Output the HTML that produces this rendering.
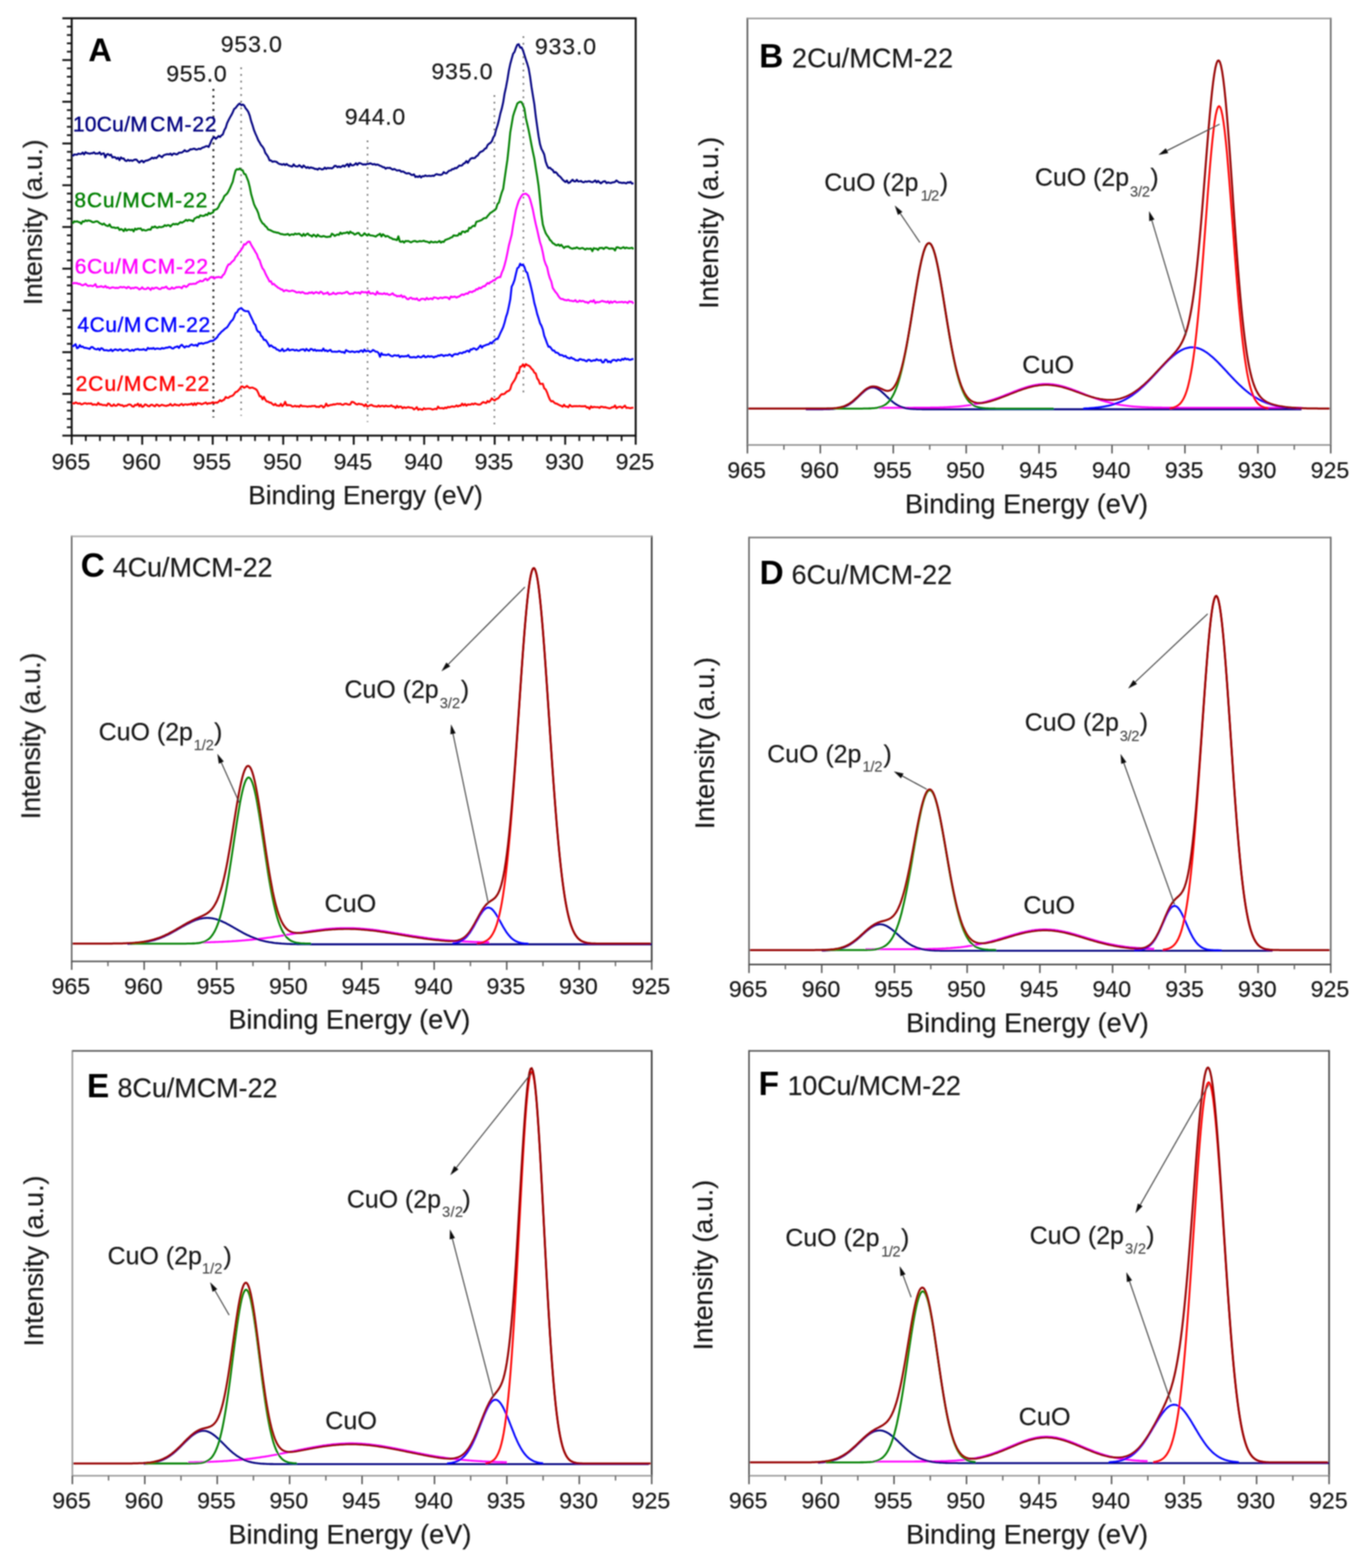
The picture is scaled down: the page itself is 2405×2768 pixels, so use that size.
<!DOCTYPE html>
<html><head><meta charset="utf-8"><title>XPS Cu 2p spectra</title>
<style>html,body{margin:0;padding:0;background:#fff}svg{display:block}text{font-family:"Liberation Sans", Arial, Helvetica, sans-serif}</style>
</head><body>
<svg width="2405" height="2768" viewBox="0 0 2405 2768">
<defs><filter id="soft" x="0" y="0" width="2405" height="2768" filterUnits="userSpaceOnUse"><feGaussianBlur stdDeviation="0.85"/></filter></defs>
<rect width="2405" height="2768" fill="#fff"/>
<g filter="url(#soft)">
<line x1="110.1" y1="32.3" x2="126.6" y2="32.3" stroke="#111" stroke-width="3.3"/>
<line x1="118.1" y1="47" x2="126.6" y2="47" stroke="#111" stroke-width="3"/>
<line x1="118.1" y1="61.8" x2="126.6" y2="61.8" stroke="#111" stroke-width="3"/>
<line x1="118.1" y1="76.5" x2="126.6" y2="76.5" stroke="#111" stroke-width="3"/>
<line x1="118.1" y1="91.2" x2="126.6" y2="91.2" stroke="#111" stroke-width="3"/>
<line x1="110.1" y1="106" x2="126.6" y2="106" stroke="#111" stroke-width="3.3"/>
<line x1="118.1" y1="120.7" x2="126.6" y2="120.7" stroke="#111" stroke-width="3"/>
<line x1="118.1" y1="135.4" x2="126.6" y2="135.4" stroke="#111" stroke-width="3"/>
<line x1="118.1" y1="150.2" x2="126.6" y2="150.2" stroke="#111" stroke-width="3"/>
<line x1="118.1" y1="164.9" x2="126.6" y2="164.9" stroke="#111" stroke-width="3"/>
<line x1="110.1" y1="179.6" x2="126.6" y2="179.6" stroke="#111" stroke-width="3.3"/>
<line x1="118.1" y1="194.4" x2="126.6" y2="194.4" stroke="#111" stroke-width="3"/>
<line x1="118.1" y1="209.1" x2="126.6" y2="209.1" stroke="#111" stroke-width="3"/>
<line x1="118.1" y1="223.8" x2="126.6" y2="223.8" stroke="#111" stroke-width="3"/>
<line x1="118.1" y1="238.6" x2="126.6" y2="238.6" stroke="#111" stroke-width="3"/>
<line x1="110.1" y1="253.3" x2="126.6" y2="253.3" stroke="#111" stroke-width="3.3"/>
<line x1="118.1" y1="268" x2="126.6" y2="268" stroke="#111" stroke-width="3"/>
<line x1="118.1" y1="282.8" x2="126.6" y2="282.8" stroke="#111" stroke-width="3"/>
<line x1="118.1" y1="297.5" x2="126.6" y2="297.5" stroke="#111" stroke-width="3"/>
<line x1="118.1" y1="312.2" x2="126.6" y2="312.2" stroke="#111" stroke-width="3"/>
<line x1="110.1" y1="327" x2="126.6" y2="327" stroke="#111" stroke-width="3.3"/>
<line x1="118.1" y1="341.7" x2="126.6" y2="341.7" stroke="#111" stroke-width="3"/>
<line x1="118.1" y1="356.4" x2="126.6" y2="356.4" stroke="#111" stroke-width="3"/>
<line x1="118.1" y1="371.2" x2="126.6" y2="371.2" stroke="#111" stroke-width="3"/>
<line x1="118.1" y1="385.9" x2="126.6" y2="385.9" stroke="#111" stroke-width="3"/>
<line x1="110.1" y1="400.7" x2="126.6" y2="400.7" stroke="#111" stroke-width="3.3"/>
<line x1="118.1" y1="415.4" x2="126.6" y2="415.4" stroke="#111" stroke-width="3"/>
<line x1="118.1" y1="430.1" x2="126.6" y2="430.1" stroke="#111" stroke-width="3"/>
<line x1="118.1" y1="444.9" x2="126.6" y2="444.9" stroke="#111" stroke-width="3"/>
<line x1="118.1" y1="459.6" x2="126.6" y2="459.6" stroke="#111" stroke-width="3"/>
<line x1="110.1" y1="474.3" x2="126.6" y2="474.3" stroke="#111" stroke-width="3.3"/>
<line x1="118.1" y1="489.1" x2="126.6" y2="489.1" stroke="#111" stroke-width="3"/>
<line x1="118.1" y1="503.8" x2="126.6" y2="503.8" stroke="#111" stroke-width="3"/>
<line x1="118.1" y1="518.5" x2="126.6" y2="518.5" stroke="#111" stroke-width="3"/>
<line x1="118.1" y1="533.3" x2="126.6" y2="533.3" stroke="#111" stroke-width="3"/>
<line x1="110.1" y1="548" x2="126.6" y2="548" stroke="#111" stroke-width="3.3"/>
<line x1="118.1" y1="562.7" x2="126.6" y2="562.7" stroke="#111" stroke-width="3"/>
<line x1="118.1" y1="577.5" x2="126.6" y2="577.5" stroke="#111" stroke-width="3"/>
<line x1="118.1" y1="592.2" x2="126.6" y2="592.2" stroke="#111" stroke-width="3"/>
<line x1="118.1" y1="606.9" x2="126.6" y2="606.9" stroke="#111" stroke-width="3"/>
<line x1="110.1" y1="621.7" x2="126.6" y2="621.7" stroke="#111" stroke-width="3.3"/>
<line x1="118.1" y1="636.4" x2="126.6" y2="636.4" stroke="#111" stroke-width="3"/>
<line x1="118.1" y1="651.1" x2="126.6" y2="651.1" stroke="#111" stroke-width="3"/>
<line x1="118.1" y1="665.9" x2="126.6" y2="665.9" stroke="#111" stroke-width="3"/>
<line x1="118.1" y1="680.6" x2="126.6" y2="680.6" stroke="#111" stroke-width="3"/>
<line x1="110.1" y1="695.3" x2="126.6" y2="695.3" stroke="#111" stroke-width="3.3"/>
<line x1="118.1" y1="710.1" x2="126.6" y2="710.1" stroke="#111" stroke-width="3"/>
<line x1="118.1" y1="724.8" x2="126.6" y2="724.8" stroke="#111" stroke-width="3"/>
<line x1="118.1" y1="739.5" x2="126.6" y2="739.5" stroke="#111" stroke-width="3"/>
<line x1="118.1" y1="754.3" x2="126.6" y2="754.3" stroke="#111" stroke-width="3"/>
<line x1="110.1" y1="769" x2="126.6" y2="769" stroke="#111" stroke-width="3.3"/>
<line x1="126.6" y1="769" x2="126.6" y2="785" stroke="#111" stroke-width="3.3"/>
<line x1="151.5" y1="769" x2="151.5" y2="778.5" stroke="#111" stroke-width="3"/>
<line x1="176.4" y1="769" x2="176.4" y2="778.5" stroke="#111" stroke-width="3"/>
<line x1="201.3" y1="769" x2="201.3" y2="778.5" stroke="#111" stroke-width="3"/>
<line x1="226.2" y1="769" x2="226.2" y2="778.5" stroke="#111" stroke-width="3"/>
<line x1="251.1" y1="769" x2="251.1" y2="785" stroke="#111" stroke-width="3.3"/>
<line x1="276" y1="769" x2="276" y2="778.5" stroke="#111" stroke-width="3"/>
<line x1="300.9" y1="769" x2="300.9" y2="778.5" stroke="#111" stroke-width="3"/>
<line x1="325.8" y1="769" x2="325.8" y2="778.5" stroke="#111" stroke-width="3"/>
<line x1="350.7" y1="769" x2="350.7" y2="778.5" stroke="#111" stroke-width="3"/>
<line x1="375.6" y1="769" x2="375.6" y2="785" stroke="#111" stroke-width="3.3"/>
<line x1="400.5" y1="769" x2="400.5" y2="778.5" stroke="#111" stroke-width="3"/>
<line x1="425.4" y1="769" x2="425.4" y2="778.5" stroke="#111" stroke-width="3"/>
<line x1="450.3" y1="769" x2="450.3" y2="778.5" stroke="#111" stroke-width="3"/>
<line x1="475.2" y1="769" x2="475.2" y2="778.5" stroke="#111" stroke-width="3"/>
<line x1="500.1" y1="769" x2="500.1" y2="785" stroke="#111" stroke-width="3.3"/>
<line x1="525" y1="769" x2="525" y2="778.5" stroke="#111" stroke-width="3"/>
<line x1="549.9" y1="769" x2="549.9" y2="778.5" stroke="#111" stroke-width="3"/>
<line x1="574.8" y1="769" x2="574.8" y2="778.5" stroke="#111" stroke-width="3"/>
<line x1="599.7" y1="769" x2="599.7" y2="778.5" stroke="#111" stroke-width="3"/>
<line x1="624.6" y1="769" x2="624.6" y2="785" stroke="#111" stroke-width="3.3"/>
<line x1="649.4" y1="769" x2="649.4" y2="778.5" stroke="#111" stroke-width="3"/>
<line x1="674.3" y1="769" x2="674.3" y2="778.5" stroke="#111" stroke-width="3"/>
<line x1="699.2" y1="769" x2="699.2" y2="778.5" stroke="#111" stroke-width="3"/>
<line x1="724.1" y1="769" x2="724.1" y2="778.5" stroke="#111" stroke-width="3"/>
<line x1="749" y1="769" x2="749" y2="785" stroke="#111" stroke-width="3.3"/>
<line x1="773.9" y1="769" x2="773.9" y2="778.5" stroke="#111" stroke-width="3"/>
<line x1="798.8" y1="769" x2="798.8" y2="778.5" stroke="#111" stroke-width="3"/>
<line x1="823.7" y1="769" x2="823.7" y2="778.5" stroke="#111" stroke-width="3"/>
<line x1="848.6" y1="769" x2="848.6" y2="778.5" stroke="#111" stroke-width="3"/>
<line x1="873.5" y1="769" x2="873.5" y2="785" stroke="#111" stroke-width="3.3"/>
<line x1="898.4" y1="769" x2="898.4" y2="778.5" stroke="#111" stroke-width="3"/>
<line x1="923.3" y1="769" x2="923.3" y2="778.5" stroke="#111" stroke-width="3"/>
<line x1="948.2" y1="769" x2="948.2" y2="778.5" stroke="#111" stroke-width="3"/>
<line x1="973.1" y1="769" x2="973.1" y2="778.5" stroke="#111" stroke-width="3"/>
<line x1="998" y1="769" x2="998" y2="785" stroke="#111" stroke-width="3.3"/>
<line x1="1022.9" y1="769" x2="1022.9" y2="778.5" stroke="#111" stroke-width="3"/>
<line x1="1047.8" y1="769" x2="1047.8" y2="778.5" stroke="#111" stroke-width="3"/>
<line x1="1072.7" y1="769" x2="1072.7" y2="778.5" stroke="#111" stroke-width="3"/>
<line x1="1097.6" y1="769" x2="1097.6" y2="778.5" stroke="#111" stroke-width="3"/>
<line x1="1122.5" y1="769" x2="1122.5" y2="785" stroke="#111" stroke-width="3.3"/>
<rect x="126.6" y="32.3" width="995.9" height="736.7" fill="none" stroke="#111" stroke-width="3.4"/>
<text x="91.1" y="828.5" font-size="41" fill="#141414" stroke="#141414" stroke-width="0.25">965</text>
<text x="215.6" y="828.5" font-size="41" fill="#141414" stroke="#141414" stroke-width="0.25">960</text>
<text x="340" y="828.5" font-size="41" fill="#141414" stroke="#141414" stroke-width="0.25">955</text>
<text x="464.5" y="828.5" font-size="41" fill="#141414" stroke="#141414" stroke-width="0.25">950</text>
<text x="589" y="828.5" font-size="41" fill="#141414" stroke="#141414" stroke-width="0.25">945</text>
<text x="713.5" y="828.5" font-size="41" fill="#141414" stroke="#141414" stroke-width="0.25">940</text>
<text x="838" y="828.5" font-size="41" fill="#141414" stroke="#141414" stroke-width="0.25">935</text>
<text x="962.5" y="828.5" font-size="41" fill="#141414" stroke="#141414" stroke-width="0.25">930</text>
<text x="1087" y="828.5" font-size="41" fill="#141414" stroke="#141414" stroke-width="0.25">925</text>
<line x1="376.8" y1="157" x2="376.8" y2="737" stroke="#111" stroke-width="3.2" stroke-dasharray="3.5 8.3"/>
<line x1="425.8" y1="119" x2="425.8" y2="734" stroke="#666" stroke-width="2.6" stroke-dasharray="3 8.8"/>
<line x1="649" y1="248" x2="649" y2="745" stroke="#666" stroke-width="2.6" stroke-dasharray="3 8.8"/>
<line x1="873" y1="168" x2="873" y2="749" stroke="#666" stroke-width="2.6" stroke-dasharray="3 8.8"/>
<line x1="924.2" y1="64" x2="924.2" y2="694" stroke="#666" stroke-width="2.6" stroke-dasharray="3 8.8"/>
<polyline points="128.5,275.7 131,272.6 133.5,272.9 136,273 138.5,271.2 141,271.9 143.5,271.7 146,269.3 148.5,272.6 151,268.6 153.5,270.3 156,270.7 158.5,271.5 161,270.5 163.5,270.5 166,268.9 168.5,271.4 171,270.9 173.5,271 176,268.8 178.5,272.8 181,271.1 183.5,270.8 186,277.9 188.5,272.7 191,271.9 193.5,274.2 196,272.9 198.5,278.1 201,277.2 203.5,277.6 206,280.5 208.5,278.4 211,282.7 213.5,277.9 216,280 218.5,279.8 221,283.5 223.5,284.3 226,282 228.5,283.8 231,282.8 233.5,284.1 236,282.7 238.5,281.7 241,281.8 243.5,284.7 246,287.1 248.5,284.7 251,283.7 253.5,286.7 256,284.2 258.5,283.5 261,283 263.5,281.7 266,280.6 268.5,278.3 271,279.9 273.5,278.3 276,279.2 278.5,276.6 281,274.1 283.5,275.8 286,277.6 288.5,274.5 291,273.3 293.5,272.5 296,272.2 298.5,272.7 301,271.1 303.5,274 306,271.3 308.5,271.3 311,272.5 313.5,272 316,269.4 318.5,269.5 321,269.4 323.5,267.7 326,265.1 328.5,267.3 331,267.1 333.5,265.9 336,263.5 338.5,263.8 341,262.7 343.5,262.5 346,264 348.5,263.9 351,262.4 353.5,263.2 356,261.6 358.5,260.3 361,259.6 363.5,258.1 366,258 368.5,259.4 371,253.8 373.5,247.6 376,243.8 378.5,242.1 381,245.2 383.5,242.8 386,240.1 388.5,241.9 391,239 393.5,237.3 396,230 398.5,225.7 401,217.4 403.5,212.3 406,207.5 408.5,203.2 411,198.2 413.5,192.4 416,190.6 418.5,187.3 421,184.3 423.5,182.7 426,185.8 428.5,184.4 431,186 433.5,190.8 436,193.8 438.5,197.6 441,204.2 443.5,213.9 446,221.2 448.5,229.7 451,235.9 453.5,241.4 456,247.5 458.5,251.6 461,256.2 463.5,258.9 466,262.8 468.5,269.9 471,273.2 473.5,277.2 476,283.2 478.5,283.1 481,285.6 483.5,285 486,285.1 488.5,285.9 491,288.1 493.5,289.6 496,289.8 498.5,290.8 501,289.4 503.5,291.5 506,289.4 508.5,291.5 511,292.7 513.5,293.3 516,294.1 518.5,290.1 521,293.1 523.5,293.8 526,293.7 528.5,291.6 531,293.6 533.5,295.8 536,292.1 538.5,294.3 541,296.5 543.5,294.8 546,297 548.5,295.4 551,296.3 553.5,296.7 556,298.2 558.5,298.1 561,299.5 563.5,297.1 566,298 568.5,299.2 571,298.5 573.5,295.9 576,298.1 578.5,296.3 581,297 583.5,296.6 586,297.3 588.5,295.6 591,292.7 593.5,293 596,295.3 598.5,293.7 601,295.2 603.5,293.8 606,292.2 608.5,294.1 611,291.4 613.5,289.5 616,294.3 618.5,289 621,291.8 623.5,291.9 626,290.6 628.5,288.1 631,291.2 633.5,288 636,288 638.5,289.2 641,290.6 643.5,290 646,290.6 648.5,289 651,289.4 653.5,288.2 656,289.2 658.5,290.4 661,289.5 663.5,291 666,290.3 668.5,291.1 671,292.7 673.5,293.3 676,295.1 678.5,295.3 681,297.9 683.5,296.1 686,296.6 688.5,296.2 691,298 693.5,299.4 696,298.2 698.5,299.6 701,301.1 703.5,300.6 706,300.7 708.5,303.2 711,302.7 713.5,303.7 716,305.5 718.5,306.4 721,305.6 723.5,306.4 726,308.5 728.5,309 731,307.7 733.5,312.4 736,311.4 738.5,312.6 741,310.3 743.5,313.4 746,310.9 748.5,311.4 751,309.6 753.5,310.9 756,310.6 758.5,310.3 761,310.8 763.5,310 766,310.7 768.5,308.5 771,307.4 773.5,308.2 776,308.5 778.5,308.8 781,307.7 783.5,303.8 786,305.6 788.5,306 791,303.1 793.5,301.1 796,300.9 798.5,298.5 801,298.6 803.5,296.5 806,297.1 808.5,294.8 811,292.1 813.5,292.6 816,291.9 818.5,288.8 821,287.8 823.5,284.2 826,287.6 828.5,283.6 831,280.2 833.5,279 836,279.3 838.5,278.8 841,275.9 843.5,274.6 846,270.6 848.5,268.2 851,267.3 853.5,265.8 856,262.7 858.5,261.7 861,256.1 863.5,253.8 866,252.2 868.5,249.4 871,242.6 873.5,238.9 876,228.8 878.5,221.5 881,212 883.5,200.5 886,191.8 888.5,180.7 891,165.1 893.5,153.8 896,140.5 898.5,124.9 901,113 903.5,103.9 906,95 908.5,91.8 911,84.5 913.5,78.9 916,78.1 918.5,84.2 921,83.7 923.5,89.1 926,97.1 928.5,105 931,112.4 933.5,121 936,135.3 938.5,153.3 941,168.7 943.5,183.7 946,205.1 948.5,223 951,240.2 953.5,254.2 956,262.7 958.5,267.3 961,272.8 963.5,285.1 966,292.1 968.5,296.8 971,296 973.5,298.7 976,300.1 978.5,304.6 981,303.7 983.5,306 986,309.7 988.5,311.4 991,314 993.5,317.3 996,319.4 998.5,321.4 1001,318.6 1003.5,323 1006,322.3 1008.5,319.7 1011,317.2 1013.5,320 1016,320.3 1018.5,317.4 1021,320.4 1023.5,320.1 1026,319.5 1028.5,321.3 1031,321.8 1033.5,320.1 1036,321 1038.5,320 1041,319.9 1043.5,321.1 1046,321.7 1048.5,320.4 1051,318.5 1053.5,322 1056,319.4 1058.5,321.6 1061,323.8 1063.5,321.6 1066,320.2 1068.5,319.9 1071,323.3 1073.5,321.9 1076,322.7 1078.5,323.2 1081,322.1 1083.5,321.8 1086,321.1 1088.5,318.5 1091,320.5 1093.5,322.4 1096,322.3 1098.5,323.1 1101,322.5 1103.5,322.9 1106,323.8 1108.5,321.7 1111,322.5 1113.5,321 1116,324.2 1118.5,323.1" fill="none" stroke="#000080" stroke-width="3.4" stroke-linejoin="round"/>
<polyline points="128.5,394.6 131,390.7 133.5,391.5 136,390.6 138.5,392 141,392.5 143.5,395.1 146,390.5 148.5,391.4 151,388.9 153.5,390.3 156,389.1 158.5,389.7 161,390.7 163.5,392.3 166,392.2 168.5,391.1 171,390.6 173.5,391.8 176,394.1 178.5,395 181,396.5 183.5,394.6 186,397.2 188.5,398.6 191,399.1 193.5,396 196,400.7 198.5,401.6 201,401.4 203.5,402.5 206,402.3 208.5,401.7 211,406 213.5,404.3 216,405.3 218.5,408.1 221,403.8 223.5,407.1 226,405.5 228.5,405.1 231,406.2 233.5,404.9 236,408.6 238.5,403.6 241,405.4 243.5,403.4 246,403.8 248.5,403.1 251,406.8 253.5,405.4 256,406.9 258.5,406.7 261,405.5 263.5,405 266,405.5 268.5,400.6 271,401.5 273.5,399.7 276,401.7 278.5,402 281,400.3 283.5,401.1 286,400.7 288.5,400 291,397.5 293.5,398.9 296,397.5 298.5,397.6 301,399.9 303.5,397.1 306,395.2 308.5,396.2 311,395.1 313.5,396.3 316,394.4 318.5,392.2 321,393.2 323.5,391.9 326,390.3 328.5,388 331,389.9 333.5,388 336,389 338.5,389.2 341,390.8 343.5,385.8 346,384.7 348.5,382.9 351,384 353.5,380.2 356,380.9 358.5,381.2 361,380.8 363.5,378.6 366,379.8 368.5,375.7 371,377.7 373.5,376 376,375.1 378.5,370.6 381,369.8 383.5,368.8 386,365.1 388.5,359.2 391,356.1 393.5,352.5 396,346.3 398.5,344.1 401,341.8 403.5,337.6 406,332.5 408.5,326.7 411,320.8 413.5,309.7 416,301 418.5,298.5 421,299.3 423.5,297.4 426,300.1 428.5,300.6 431,307 433.5,307.6 436,313.9 438.5,320.2 441,330.1 443.5,342.8 446,351.5 448.5,360.4 451,365.8 453.5,370.1 456,376.1 458.5,385.1 461,390.2 463.5,394.2 466,395.7 468.5,399.2 471,401.2 473.5,405.2 476,405.9 478.5,406.9 481,408.3 483.5,409.5 486,409.9 488.5,410.7 491,410.8 493.5,412 496,413.3 498.5,413.3 501,414.1 503.5,414.2 506,413.8 508.5,412.9 511,415.4 513.5,414.2 516,413.7 518.5,414.5 521,412.2 523.5,413.5 526,412.9 528.5,412.5 531,414.7 533.5,416.7 536,412.8 538.5,416.2 541,413.8 543.5,412.2 546,415.2 548.5,415.7 551,417.6 553.5,414.2 556,415.8 558.5,418 561,414.3 563.5,416.6 566,417.5 568.5,417.7 571,416.6 573.5,417.4 576,418.3 578.5,418.3 581,417.6 583.5,417.8 586,412.6 588.5,413.9 591,416.6 593.5,415 596,413.9 598.5,414.7 601,410.5 603.5,413 606,411.4 608.5,411.5 611,410.9 613.5,409.7 616,412.5 618.5,408.7 621,411 623.5,411.5 626,414.1 628.5,413.1 631,411.5 633.5,411.2 636,414.9 638.5,416.3 641,414.9 643.5,411.7 646,414.1 648.5,416 651,413.1 653.5,415.6 656,415.6 658.5,416.1 661,416.7 663.5,417.8 666,415.5 668.5,414.4 671,412.6 673.5,417.5 676,413.5 678.5,415.3 681,417.8 683.5,416.5 686,417.5 688.5,419.8 691,420.1 693.5,422.3 696,422.3 698.5,423 701,423.9 703.5,417.2 706,426.3 708.5,427 711,425.8 713.5,428.3 716,425.4 718.5,425.8 721,425.4 723.5,426.9 726,427.9 728.5,426.4 731,425.5 733.5,425.5 736,426.9 738.5,426.5 741,425.5 743.5,426.1 746,425.6 748.5,425 751,426.3 753.5,426.5 756,427.3 758.5,428.7 761,426.3 763.5,427.5 766,427.9 768.5,426.8 771,427.9 773.5,427.2 776,425.3 778.5,428.3 781,426.5 783.5,427.2 786,423.7 788.5,422.9 791,421.8 793.5,421 796,419.4 798.5,418.7 801,415.4 803.5,416 806,416 808.5,415.8 811,411.8 813.5,413.9 816,408.9 818.5,408.6 821,410.2 823.5,407.7 826,408.5 828.5,402.1 831,403 833.5,400.1 836,398.5 838.5,399.3 841,391.7 843.5,390.9 846,390.2 848.5,389.2 851,388 853.5,385.9 856,384.9 858.5,384.7 861,381.4 863.5,378.7 866,375.7 868.5,374.4 871,372.5 873.5,371.1 876,368.4 878.5,360.1 881,357.5 883.5,348.4 886,339.8 888.5,333.4 891,315.8 893.5,298.6 896,281.8 898.5,258.8 901,233.7 903.5,219.3 906,204.8 908.5,196.8 911,189.9 913.5,182.7 916,180.8 918.5,179.6 921,180.3 923.5,185.4 926,191.9 928.5,208.3 931,219 933.5,229.8 936,242.6 938.5,255.9 941,268.3 943.5,279.9 946,296.1 948.5,311.1 951,328.2 953.5,351.6 956,378.2 958.5,396.2 961,404.5 963.5,411.3 966,415.5 968.5,418.7 971,423.4 973.5,425.6 976,429.3 978.5,430.4 981,432.5 983.5,433 986,431.5 988.5,434.1 991,432 993.5,435.1 996,437.7 998.5,435.4 1001,435.5 1003.5,434.9 1006,437.1 1008.5,438.4 1011,439.1 1013.5,438 1016,438.2 1018.5,436.6 1021,438.2 1023.5,439.1 1026,438.3 1028.5,437.7 1031,439 1033.5,440.7 1036,438.7 1038.5,439.3 1041,439.2 1043.5,438.7 1046,443.4 1048.5,438 1051,439 1053.5,438.9 1056,441.3 1058.5,437.8 1061,437.7 1063.5,437.5 1066,439.6 1068.5,437.2 1071,436.8 1073.5,437.8 1076,439.4 1078.5,438.5 1081,438.7 1083.5,438.9 1086,442.3 1088.5,436.7 1091,436.5 1093.5,437.7 1096,438.6 1098.5,437.5 1101,436.3 1103.5,438.6 1106,437 1108.5,437.9 1111,438.2 1113.5,437.9 1116,437.3 1118.5,439.7" fill="none" stroke="#008000" stroke-width="3.4" stroke-linejoin="round"/>
<polyline points="128.5,501 131,499.4 133.5,500 136,499.8 138.5,501.3 141,501 143.5,502.9 146,503.8 148.5,502.6 151,501.1 153.5,503.5 156,504.9 158.5,504.3 161,504.2 163.5,505.3 166,504 168.5,501.5 171,506.9 173.5,506.3 176,506.2 178.5,505.1 181,506.4 183.5,507.1 186,504.7 188.5,507.7 191,507 193.5,509 196,508.1 198.5,507.2 201,507.7 203.5,508.5 206,508 208.5,508.6 211,507.1 213.5,506.5 216,507.5 218.5,506.5 221,507.4 223.5,508.9 226,506.5 228.5,507.1 231,509.6 233.5,508.1 236,508.8 238.5,507.4 241,507.7 243.5,508.6 246,511.1 248.5,509.7 251,507.1 253.5,509.8 256,510.4 258.5,510.1 261,507.7 263.5,509.2 266,511.9 268.5,508.1 271,509.7 273.5,508.3 276,507.6 278.5,508.6 281,510.3 283.5,510.4 286,507.8 288.5,508.2 291,507.5 293.5,505.9 296,509.2 298.5,510.2 301,510 303.5,507.4 306,509.4 308.5,509 311,507 313.5,507.2 316,506.6 318.5,507.1 321,508.9 323.5,505.2 326,504.6 328.5,506.7 331,505.1 333.5,502 336,501.3 338.5,501.6 341,500.9 343.5,501 346,500.8 348.5,498.3 351,497.6 353.5,495.5 356,496.7 358.5,496.2 361,493.3 363.5,491.9 366,494.8 368.5,492.8 371,490.1 373.5,488.8 376,490.2 378.5,491.9 381,489.4 383.5,489.5 386,488.8 388.5,489.7 391,490 393.5,485.9 396,483.7 398.5,477.8 401,471.2 403.5,466.8 406,466.5 408.5,463.2 411,461 413.5,458.9 416,453.4 418.5,451.3 421,446.9 423.5,444.1 426,440.8 428.5,437 431,431 433.5,431.8 436,428.4 438.5,426.5 441,426.7 443.5,432.1 446,436.3 448.5,440.3 451,444.9 453.5,448.6 456,456 458.5,459.5 461,467.5 463.5,473.6 466,476.8 468.5,482.4 471,487.6 473.5,491.9 476,497.1 478.5,496.5 481,502 483.5,501 486,503.9 488.5,505.6 491,508 493.5,508.8 496,511 498.5,511 501,514.3 503.5,512.6 506,512.3 508.5,513.5 511,514.2 513.5,513.6 516,512.9 518.5,513.6 521,514.6 523.5,516.2 526,516 528.5,515.5 531,517.1 533.5,515.4 536,516.5 538.5,518.2 541,517.9 543.5,518.3 546,516.3 548.5,517.2 551,515.8 553.5,518.3 556,516.7 558.5,515.7 561,516.9 563.5,517.9 566,514.9 568.5,516 571,519.1 573.5,518 576,517.9 578.5,516 581,520 583.5,519.3 586,518.9 588.5,516.6 591,518.7 593.5,519.3 596,517.4 598.5,517.5 601,517.1 603.5,518.4 606,517.2 608.5,517.1 611,515.5 613.5,515.2 616,518.3 618.5,519 621,518.1 623.5,518.7 626,516.1 628.5,516.7 631,517.1 633.5,516.4 636,518.6 638.5,514.9 641,515.8 643.5,516.1 646,515.6 648.5,517.6 651,514.1 653.5,518.2 656,518 658.5,517.4 661,518.9 663.5,520.2 666,514.7 668.5,518.5 671,518.3 673.5,518.7 676,519.1 678.5,517.5 681,519.4 683.5,518.2 686,520.3 688.5,520.5 691,519.3 693.5,517.7 696,520.9 698.5,521.1 701,523.3 703.5,522.4 706,523.2 708.5,521.1 711,524.8 713.5,522.8 716,524.6 718.5,527.6 721,528.4 723.5,526.1 726,525.4 728.5,527.9 731,527.2 733.5,528.4 736,526.6 738.5,529.8 741,530.4 743.5,527.7 746,527.5 748.5,527.6 751,529.3 753.5,525.8 756,528.3 758.5,527.6 761,526.7 763.5,528.4 766,524.9 768.5,525.4 771,525.9 773.5,527.5 776,526 778.5,525.2 781,526.6 783.5,525.2 786,524.8 788.5,525 791,525.6 793.5,528.3 796,523.4 798.5,524.6 801,524 803.5,523.5 806,525.4 808.5,524 811,523.3 813.5,521.3 816,519.6 818.5,520.8 821,519.2 823.5,518 826,518.6 828.5,515.4 831,515 833.5,515.9 836,513.7 838.5,513.5 841,510.4 843.5,511 846,507.9 848.5,509.1 851,507.1 853.5,505.3 856,505.3 858.5,502.4 861,499.6 863.5,500.8 866,497.8 868.5,497.4 871,494.8 873.5,494.9 876,491.6 878.5,490.4 881,489.2 883.5,489.2 886,481.4 888.5,475.9 891,467.7 893.5,458.1 896,446.3 898.5,433.5 901,423.9 903.5,414.3 906,398 908.5,384.2 911,370.8 913.5,362.1 916,354.6 918.5,349.8 921,345.7 923.5,342.8 926,342.4 928.5,341.9 931,343.7 933.5,345.9 936,351.9 938.5,360.9 941,370.7 943.5,383.7 946,395.4 948.5,405.5 951,416.8 953.5,427.4 956,435.2 958.5,445.9 961,459 963.5,466.3 966,471.4 968.5,482.9 971,491.4 973.5,497.2 976,508.2 978.5,512 981,515.7 983.5,518.4 986,522.7 988.5,526.1 991,527.9 993.5,527.7 996,529.3 998.5,529.7 1001,530.3 1003.5,529 1006,530.9 1008.5,530.9 1011,531.5 1013.5,531.7 1016,529.8 1018.5,532.9 1021,532.9 1023.5,530.4 1026,532.1 1028.5,531.2 1031,531.8 1033.5,533.7 1036,533.2 1038.5,535 1041,532.7 1043.5,531.3 1046,532.9 1048.5,529.8 1051,535.1 1053.5,533.2 1056,533.5 1058.5,533.2 1061,532 1063.5,531.1 1066,532.2 1068.5,532.5 1071,533.6 1073.5,531.8 1076,535.3 1078.5,532 1081,534.4 1083.5,532.6 1086,531.9 1088.5,533.9 1091,533.7 1093.5,533.2 1096,533.4 1098.5,532.7 1101,534 1103.5,532.9 1106,533.6 1108.5,534.9 1111,531.9 1113.5,532.8 1116,532.7 1118.5,535.9" fill="none" stroke="#ff00ff" stroke-width="3.4" stroke-linejoin="round"/>
<polyline points="128.5,611.9 131,609.8 133.5,607.6 136,614.8 138.5,613.7 141,609.2 143.5,612.5 146,611.7 148.5,614 151,614 153.5,614.6 156,615.2 158.5,616.1 161,612.7 163.5,612.6 166,615.2 168.5,616.4 171,616.8 173.5,615.2 176,618.3 178.5,614.6 181,615.4 183.5,618.4 186,618.3 188.5,618.2 191,619.1 193.5,618.8 196,616.9 198.5,619.9 201,618.1 203.5,616.7 206,617.6 208.5,618.6 211,616.8 213.5,616.9 216,619.3 218.5,618.4 221,617.7 223.5,616.9 226,616.9 228.5,619.4 231,619.1 233.5,617.4 236,619.2 238.5,616.9 241,616.8 243.5,616 246,617.7 248.5,617.2 251,617.4 253.5,616.2 256,617.8 258.5,618.2 261,614 263.5,615.8 266,615 268.5,615.7 271,614.2 273.5,616.5 276,615.4 278.5,615.2 281,615.9 283.5,616 286,614.3 288.5,615.3 291,614.7 293.5,613.6 296,613.8 298.5,612.5 301,612.7 303.5,614.9 306,615.2 308.5,613 311,612.4 313.5,611.4 316,614.3 318.5,610.3 321,608.6 323.5,611.2 326,613.6 328.5,611.2 331,611.6 333.5,611.8 336,609.2 338.5,608 341,609.6 343.5,609.7 346,608.8 348.5,611 351,606.1 353.5,606.7 356,605.7 358.5,607 361,605.8 363.5,605 366,604.7 368.5,603.5 371,602.2 373.5,601.8 376,601.8 378.5,599.7 381,597.8 383.5,595.3 386,591 388.5,588.7 391,585.6 393.5,583.8 396,581.4 398.5,579.5 401,577.9 403.5,574.1 406,570.1 408.5,566.8 411,564.5 413.5,559.4 416,552.5 418.5,551.3 421,546.5 423.5,545 426,543.8 428.5,546.4 431,548.4 433.5,549.2 436,549.4 438.5,549.4 441,554.8 443.5,560.1 446,565.2 448.5,571.1 451,573.7 453.5,582.3 456,585.8 458.5,586.2 461,592.8 463.5,594.9 466,600.1 468.5,599.9 471,602.9 473.5,607.1 476,611.6 478.5,609.5 481,611.7 483.5,613.5 486,613.9 488.5,616.9 491,617.4 493.5,619.5 496,619 498.5,615.7 501,619.9 503.5,619 506,618.1 508.5,615.5 511,618.6 513.5,617.8 516,617.2 518.5,617.5 521,618.9 523.5,617.4 526,619.1 528.5,619.1 531,617.3 533.5,617 536,616.6 538.5,619.5 541,615.9 543.5,618.3 546,619.3 548.5,615.9 551,616.5 553.5,618.8 556,617 558.5,619.4 561,618.3 563.5,619.1 566,618.5 568.5,619.5 571,615.2 573.5,619.5 576,618.3 578.5,620.3 581,618.8 583.5,617.6 586,620.9 588.5,620.9 591,620.6 593.5,621 596,620.9 598.5,619.7 601,620.6 603.5,621.7 606,621.3 608.5,623.2 611,618 613.5,619.7 616,620.6 618.5,621.5 621,620.2 623.5,620.6 626,621.8 628.5,620.9 631,620.4 633.5,621.6 636,619.4 638.5,618.6 641,621.5 643.5,617.1 646,620.2 648.5,619.4 651,619.2 653.5,621.5 656,620.2 658.5,617.8 661,619.1 663.5,620.8 666,620.9 668.5,623.2 671,630 673.5,623.4 676,626.4 678.5,626.3 681,626.7 683.5,626.5 686,625.3 688.5,627.2 691,628.6 693.5,629 696,627.1 698.5,627.4 701,628 703.5,627.1 706,630.6 708.5,628.7 711,629 713.5,629.3 716,628.6 718.5,629 721,626.8 723.5,630.7 726,630.8 728.5,630.8 731,630.1 733.5,631.1 736,630.7 738.5,628.7 741,630.4 743.5,630.9 746,629.3 748.5,627.8 751,630.6 753.5,630 756,628.4 758.5,629.8 761,628.9 763.5,629.5 766,631 768.5,629.3 771,629.5 773.5,627.5 776,628 778.5,626.5 781,626.8 783.5,628.7 786,627.3 788.5,627.2 791,627.4 793.5,625.5 796,626.9 798.5,629.1 801,626.1 803.5,625 806,625.3 808.5,625.6 811,623.1 813.5,623 816,623.8 818.5,621.6 821,621.8 823.5,619.8 826,619 828.5,621.1 831,616.7 833.5,617 836,614.9 838.5,615.4 841,617.5 843.5,615.9 846,612.8 848.5,609.8 851,613.8 853.5,610.6 856,610.1 858.5,608.8 861,608.1 863.5,607.5 866,604.6 868.5,606.3 871,602.6 873.5,600.9 876,598.1 878.5,598.6 881,593.9 883.5,588.1 886,582.9 888.5,577.5 891,569.5 893.5,559.6 896,552.4 898.5,541 901,528.7 903.5,506 906,501.2 908.5,494.4 911,483.4 913.5,473.4 916,471.9 918.5,465.6 921,468.3 923.5,466.9 926,471.3 928.5,479.3 931,481.5 933.5,491.4 936,499.8 938.5,510.4 941,521.7 943.5,534.8 946,543.6 948.5,554.1 951,561.7 953.5,570.3 956,574.8 958.5,581.5 961,592.9 963.5,599.2 966,606.1 968.5,612.2 971,611.9 973.5,615.3 976,618.9 978.5,618.7 981,622.2 983.5,622.5 986,623.8 988.5,626.8 991,626.6 993.5,627.4 996,629.3 998.5,628.2 1001,631.1 1003.5,631.9 1006,633 1008.5,630.9 1011,633 1013.5,633.5 1016,635.8 1018.5,636.1 1021,636.5 1023.5,634 1026,634.3 1028.5,635.6 1031,635.3 1033.5,636.9 1036,637.9 1038.5,635.3 1041,635.2 1043.5,637.6 1046,636.9 1048.5,635.9 1051,636.5 1053.5,634.1 1056,635.8 1058.5,636.1 1061,635.3 1063.5,639.7 1066,639.6 1068.5,635 1071,635.1 1073.5,639.3 1076,637.7 1078.5,639.9 1081,636.1 1083.5,635.3 1086,635.6 1088.5,637.3 1091,634.8 1093.5,635.5 1096,636.5 1098.5,633.6 1101,635 1103.5,632.4 1106,634.3 1108.5,633.5 1111,635.2 1113.5,635.1 1116,634 1118.5,633.7" fill="none" stroke="#0000ff" stroke-width="3.4" stroke-linejoin="round"/>
<polyline points="128.5,711.2 131,712.5 133.5,710.4 136,711.6 138.5,712.6 141,711.8 143.5,713.9 146,713.3 148.5,711.9 151,711.7 153.5,713 156,712.2 158.5,712.7 161,712 163.5,714.5 166,713.8 168.5,714.1 171,714.9 173.5,711.1 176,714.1 178.5,713.8 181,715.1 183.5,715 186,715.1 188.5,716.1 191,712.2 193.5,713.3 196,716.3 198.5,716.6 201,713.9 203.5,716.4 206,716.1 208.5,713.4 211,714.4 213.5,715.6 216,715.2 218.5,717.6 221,716.1 223.5,716.5 226,714.6 228.5,713.9 231,714.7 233.5,717.3 236,717.9 238.5,714.6 241,715.4 243.5,712.5 246,717.3 248.5,714.1 251,718.2 253.5,717.3 256,714 258.5,714.6 261,716.6 263.5,717.4 266,715 268.5,714.4 271,716.1 273.5,717.3 276,714.3 278.5,714.7 281,717.1 283.5,715.8 286,714.5 288.5,715.5 291,716.1 293.5,716.7 296,715.7 298.5,715.3 301,713.1 303.5,715.9 306,715.7 308.5,713.4 311,715 313.5,715 316,716 318.5,714.2 321,713.1 323.5,715.6 326,713.9 328.5,713.9 331,714.7 333.5,713.7 336,713.8 338.5,712.3 341,715.2 343.5,711.8 346,715 348.5,711.6 351,712.1 353.5,712.3 356,713.8 358.5,712.7 361,711.7 363.5,710.6 366,713.2 368.5,711.8 371,712.1 373.5,711.1 376,710 378.5,711.5 381,710.5 383.5,711 386,709.2 388.5,706.4 391,708.4 393.5,706.6 396,705.4 398.5,700.8 401,702.4 403.5,702.3 406,699.9 408.5,699.4 411,698.3 413.5,695.6 416,692.1 418.5,691.5 421,689.1 423.5,686.2 426,682.5 428.5,682.3 431,684.6 433.5,683.3 436,681.3 438.5,683.4 441,685 443.5,684.4 446,684.3 448.5,685.5 451,686.6 453.5,688.6 456,693.5 458.5,699.7 461,699.4 463.5,705.1 466,700.6 468.5,705.6 471,708.7 473.5,708.9 476,710.8 478.5,710.8 481,713.4 483.5,715.2 486,712.9 488.5,715.9 491,716 493.5,716.6 496,712.9 498.5,717 501,714.6 503.5,709.2 506,715.6 508.5,715 511,715.3 513.5,715.5 516,717.6 518.5,717.5 521,716.3 523.5,717.7 526,716.9 528.5,718.2 531,715.2 533.5,717.1 536,716.9 538.5,717.1 541,717.4 543.5,718 546,717.2 548.5,717.7 551,716.7 553.5,716.9 556,716.3 558.5,718.4 561,717.9 563.5,718.5 566,716.2 568.5,716.4 571,719.5 573.5,717.6 576,712.5 578.5,716.7 581,716 583.5,714.9 586,714.8 588.5,713.8 591,714 593.5,713.4 596,712.7 598.5,713.4 601,712.6 603.5,714.4 606,714.6 608.5,712.9 611,712.6 613.5,713.6 616,714.3 618.5,714 621,709.4 623.5,709.7 626,711.3 628.5,713.4 631,714 633.5,712.6 636,713.5 638.5,713.4 641,714.7 643.5,716.9 646,713.6 648.5,717.8 651,716.7 653.5,715.3 656,714.7 658.5,716.3 661,717.1 663.5,717.3 666,717.9 668.5,715.8 671,717.8 673.5,716.6 676,716.5 678.5,717.8 681,716.2 683.5,717.2 686,717.3 688.5,717.1 691,715.5 693.5,717.8 696,717.6 698.5,720.3 701,716.4 703.5,719.3 706,717.6 708.5,718 711,720.8 713.5,718.7 716,720.1 718.5,719.5 721,718.5 723.5,719.6 726,719.6 728.5,720.1 731,722.9 733.5,721.4 736,718.8 738.5,723.5 741,721.8 743.5,722.6 746,723.5 748.5,720.6 751,722.2 753.5,721.6 756,721.4 758.5,721.4 761,721.8 763.5,723 766,722.4 768.5,721.6 771,722.5 773.5,717.8 776,720.5 778.5,720.6 781,720.3 783.5,721.3 786,719.4 788.5,720.6 791,718.3 793.5,719.1 796,718.1 798.5,717.3 801,718 803.5,717.8 806,715.7 808.5,717.7 811,716 813.5,716.2 816,712.5 818.5,715.6 821,713.1 823.5,716.3 826,714 828.5,714.2 831,714.3 833.5,712.6 836,714 838.5,712.1 841,713.1 843.5,714 846,714.2 848.5,713.9 851,711.3 853.5,709.7 856,710.9 858.5,711.5 861,707.8 863.5,709.8 866,707.1 868.5,703.1 871,705.6 873.5,706.9 876,704.5 878.5,703.9 881,701.9 883.5,698 886,695.8 888.5,696 891,695.1 893.5,692.5 896,690.7 898.5,690 901,687.1 903.5,678.8 906,674.9 908.5,671.2 911,666.4 913.5,658.2 916,658.6 918.5,647.2 921,647 923.5,643.1 926,647.7 928.5,642.7 931,644.6 933.5,645.3 936,647.3 938.5,650.9 941,653 943.5,657.7 946,659.2 948.5,667.9 951,671.1 953.5,677.8 956,677.6 958.5,677.4 961,685.6 963.5,687.4 966,692.8 968.5,699.8 971,705.5 973.5,708.7 976,707.9 978.5,710.6 981,712.3 983.5,712.7 986,714.2 988.5,715.6 991,716.4 993.5,718.1 996,714.5 998.5,717.6 1001,717.6 1003.5,719 1006,714.8 1008.5,717 1011,717.7 1013.5,716.9 1016,717 1018.5,717 1021,717.1 1023.5,716.7 1026,717.3 1028.5,717.2 1031,717.3 1033.5,716.6 1036,719.5 1038.5,718.8 1041,721.9 1043.5,717.2 1046,719.4 1048.5,718.3 1051,718.6 1053.5,718.9 1056,718.6 1058.5,720.1 1061,717.9 1063.5,718.1 1066,719.1 1068.5,718.7 1071,719.7 1073.5,720.2 1076,720.8 1078.5,720.3 1081,718.8 1083.5,718.9 1086,715.8 1088.5,720.6 1091,718.9 1093.5,718.2 1096,717.9 1098.5,720.2 1101,718.2 1103.5,716 1106,720.2 1108.5,719.7 1111,720.2 1113.5,720.5 1116,719.9 1118.5,719.8" fill="none" stroke="#ff0000" stroke-width="3.4" stroke-linejoin="round"/>
<text x="156.1" y="108.3" font-size="57.5" font-weight="bold" fill="#000">A</text>
<text x="389.7" y="91.6" font-size="41" fill="#141414" textLength="108.1" lengthAdjust="spacing" stroke="#141414" stroke-width="0.25">953.0</text>
<text x="293.4" y="143.6" font-size="41" fill="#141414" textLength="106.8" lengthAdjust="spacing" stroke="#141414" stroke-width="0.25">955.0</text>
<text x="608.7" y="219.8" font-size="41" fill="#141414" textLength="106.8" lengthAdjust="spacing" stroke="#141414" stroke-width="0.25">944.0</text>
<text x="761.7" y="139.7" font-size="41" fill="#141414" textLength="108.1" lengthAdjust="spacing" stroke="#141414" stroke-width="0.25">935.0</text>
<text x="944.4" y="95.8" font-size="41" fill="#141414" textLength="108.1" lengthAdjust="spacing" stroke="#141414" stroke-width="0.25">933.0</text>
<text x="128.7" y="232.2" font-size="37" fill="#000080" textLength="132.1" lengthAdjust="spacing" stroke="#000080" stroke-width="0.7">10Cu/M</text>
<text x="265.2" y="232.2" font-size="37" fill="#000080" textLength="117.2" lengthAdjust="spacing" stroke="#000080" stroke-width="0.7">CM-22</text>
<text x="131.3" y="366.2" font-size="37" fill="#008000" textLength="234.7" lengthAdjust="spacing" stroke="#008000" stroke-width="0.7">8Cu/MCM-22</text>
<text x="132" y="483.4" font-size="37" fill="#ff00ff" textLength="113.2" lengthAdjust="spacing" stroke="#ff00ff" stroke-width="0.7">6Cu/M</text>
<text x="250.2" y="483.4" font-size="37" fill="#ff00ff" textLength="117.2" lengthAdjust="spacing" stroke="#ff00ff" stroke-width="0.7">CM-22</text>
<text x="136.7" y="585.5" font-size="37" fill="#0000ff" textLength="113" lengthAdjust="spacing" stroke="#0000ff" stroke-width="0.7">4Cu/M</text>
<text x="254.8" y="585.5" font-size="37" fill="#0000ff" textLength="116.4" lengthAdjust="spacing" stroke="#0000ff" stroke-width="0.7">CM-22</text>
<text x="133.5" y="690.4" font-size="37" fill="#ff0000" textLength="236.2" lengthAdjust="spacing" stroke="#ff0000" stroke-width="0.7">2Cu/MCM-22</text>
<text x="438.3" y="890" font-size="46.8" fill="#141414" textLength="414.3" lengthAdjust="spacing" stroke="#141414" stroke-width="0.25">Binding Energy (eV)</text>
<text transform="translate(74 538.7) rotate(-90)" x="0" y="0" font-size="46.8" fill="#141414" stroke="#141414" stroke-width="0.25" textLength="292.6" lengthAdjust="spacing">Intensity (a.u.)</text>
<line x1="1319.8" y1="31.2" x2="1319.8" y2="786.9" stroke="#555" stroke-width="2.8"/>
<line x1="2349.8" y1="31.2" x2="2349.8" y2="786.9" stroke="#666" stroke-width="2.8"/>
<line x1="1319.8" y1="32.6" x2="2349.8" y2="32.6" stroke="#999" stroke-width="2.8"/>
<line x1="1319.8" y1="785.5" x2="2349.8" y2="785.5" stroke="#999" stroke-width="2.8"/>
<line x1="1319.8" y1="785.5" x2="1319.8" y2="800.5" stroke="#555" stroke-width="2.6"/>
<line x1="1384.2" y1="785.5" x2="1384.2" y2="794" stroke="#666" stroke-width="2.4"/>
<line x1="1448.5" y1="785.5" x2="1448.5" y2="800.5" stroke="#555" stroke-width="2.6"/>
<line x1="1512.9" y1="785.5" x2="1512.9" y2="794" stroke="#666" stroke-width="2.4"/>
<line x1="1577.3" y1="785.5" x2="1577.3" y2="800.5" stroke="#555" stroke-width="2.6"/>
<line x1="1641.7" y1="785.5" x2="1641.7" y2="794" stroke="#666" stroke-width="2.4"/>
<line x1="1706.1" y1="785.5" x2="1706.1" y2="800.5" stroke="#555" stroke-width="2.6"/>
<line x1="1770.4" y1="785.5" x2="1770.4" y2="794" stroke="#666" stroke-width="2.4"/>
<line x1="1834.8" y1="785.5" x2="1834.8" y2="800.5" stroke="#555" stroke-width="2.6"/>
<line x1="1899.2" y1="785.5" x2="1899.2" y2="794" stroke="#666" stroke-width="2.4"/>
<line x1="1963.6" y1="785.5" x2="1963.6" y2="800.5" stroke="#555" stroke-width="2.6"/>
<line x1="2027.9" y1="785.5" x2="2027.9" y2="794" stroke="#666" stroke-width="2.4"/>
<line x1="2092.3" y1="785.5" x2="2092.3" y2="800.5" stroke="#555" stroke-width="2.6"/>
<line x1="2156.7" y1="785.5" x2="2156.7" y2="794" stroke="#666" stroke-width="2.4"/>
<line x1="2221.1" y1="785.5" x2="2221.1" y2="800.5" stroke="#555" stroke-width="2.6"/>
<line x1="2285.4" y1="785.5" x2="2285.4" y2="794" stroke="#666" stroke-width="2.4"/>
<line x1="2349.8" y1="785.5" x2="2349.8" y2="800.5" stroke="#555" stroke-width="2.6"/>
<polyline points="1551.5,719.8 1553.5,719.8 1555.5,719.8 1557.5,719.8 1559.5,719.8 1561.5,719.8 1563.5,719.8 1565.5,719.8 1567.5,719.8 1569.5,719.8 1571.5,719.8 1573.5,719.8 1575.5,719.8 1577.5,719.8 1579.5,719.8 1581.5,719.8 1583.5,719.8 1585.5,719.8 1587.5,719.8 1589.5,719.8 1591.5,719.8 1593.5,719.8 1595.5,719.8 1597.5,719.8 1599.5,719.8 1601.5,719.8 1603.5,719.8 1605.5,719.8 1607.5,719.8 1609.5,719.8 1611.4,719.8 1613.4,719.7 1615.4,719.7 1617.4,719.7 1619.4,719.7 1621.4,719.7 1623.4,719.7 1625.4,719.7 1627.4,719.7 1629.4,719.7 1631.4,719.7 1633.4,719.6 1635.4,719.6 1637.4,719.6 1639.4,719.6 1641.4,719.6 1643.4,719.5 1645.4,719.5 1647.4,719.5 1649.4,719.4 1651.4,719.4 1653.4,719.4 1655.4,719.3 1657.4,719.3 1659.4,719.2 1661.4,719.2 1663.4,719.1 1665.4,719.1 1667.4,719 1669.4,718.9 1671.3,718.8 1673.3,718.7 1675.3,718.6 1677.3,718.5 1679.3,718.4 1681.3,718.3 1683.3,718.2 1685.3,718.1 1687.3,717.9 1689.3,717.8 1691.3,717.6 1693.3,717.5 1695.3,717.3 1697.3,717.1 1699.3,716.9 1701.3,716.7 1703.3,716.4 1705.3,716.2 1707.3,715.9 1709.3,715.7 1711.3,715.4 1713.3,715.1 1715.3,714.7 1717.3,714.4 1719.3,714.1 1721.3,713.7 1723.3,713.3 1725.3,712.9 1727.3,712.5 1729.3,712.1 1731.2,711.6 1733.2,711.1 1735.2,710.7 1737.2,710.1 1739.2,709.6 1741.2,709.1 1743.2,708.5 1745.2,707.9 1747.2,707.3 1749.2,706.7 1751.2,706.1 1753.2,705.4 1755.2,704.8 1757.2,704.1 1759.2,703.4 1761.2,702.7 1763.2,702 1765.2,701.2 1767.2,700.5 1769.2,699.7 1771.2,699 1773.2,698.2 1775.2,697.4 1777.2,696.6 1779.2,695.8 1781.2,695.1 1783.2,694.3 1785.2,693.5 1787.2,692.7 1789.2,691.9 1791.1,691.1 1793.1,690.3 1795.1,689.6 1797.1,688.8 1799.1,688 1801.1,687.3 1803.1,686.6 1805.1,685.9 1807.1,685.2 1809.1,684.5 1811.1,683.9 1813.1,683.3 1815.1,682.7 1817.1,682.1 1819.1,681.6 1821.1,681.1 1823.1,680.6 1825.1,680.2 1827.1,679.8 1829.1,679.4 1831.1,679.1 1833.1,678.8 1835.1,678.5 1837.1,678.3 1839.1,678.1 1841.1,678 1843.1,677.9 1845.1,677.8 1847.1,677.8 1849.1,677.8 1851,677.9 1853,678 1855,678.1 1857,678.3 1859,678.5 1861,678.8 1863,679.1 1865,679.4 1867,679.8 1869,680.2 1871,680.7 1873,681.1 1875,681.6 1877,682.2 1879,682.7 1881,683.3 1883,683.9 1885,684.6 1887,685.2 1889,685.9 1891,686.6 1893,687.4 1895,688.1 1897,688.8 1899,689.6 1901,690.4 1903,691.1 1905,691.9 1907,692.7 1909,693.5 1910.9,694.3 1912.9,695.1 1914.9,695.9 1916.9,696.7 1918.9,697.5 1920.9,698.2 1922.9,699 1924.9,699.8 1926.9,700.5 1928.9,701.3 1930.9,702 1932.9,702.7 1934.9,703.4 1936.9,704.1 1938.9,704.8 1940.9,705.5 1942.9,706.1 1944.9,706.8 1946.9,707.4 1948.9,708 1950.9,708.6 1952.9,709.1 1954.9,709.7 1956.9,710.2 1958.9,710.7 1960.9,711.2 1962.9,711.6 1964.9,712.1 1966.9,712.5 1968.9,712.9 1970.8,713.3 1972.8,713.7 1974.8,714.1 1976.8,714.4 1978.8,714.8 1980.8,715.1 1982.8,715.4 1984.8,715.7 1986.8,715.9 1988.8,716.2 1990.8,716.4 1992.8,716.7 1994.8,716.9 1996.8,717.1 1998.8,717.3 2000.8,717.5 2002.8,717.6 2004.8,717.8 2006.8,717.9 2008.8,718.1 2010.8,718.2 2012.8,718.3 2014.8,718.4 2016.8,718.6 2018.8,718.7 2020.8,718.7 2022.8,718.8 2024.8,718.9 2026.8,719 2028.8,719.1 2030.7,719.1 2032.7,719.2 2034.7,719.2 2036.7,719.3 2038.7,719.3 2040.7,719.4 2042.7,719.4 2044.7,719.4 2046.7,719.5 2048.7,719.5 2050.7,719.5 2052.7,719.6 2054.7,719.6 2056.7,719.6 2058.7,719.6 2060.7,719.6 2062.7,719.7 2064.7,719.7 2066.7,719.7 2068.7,719.7 2070.7,719.7 2072.7,719.7 2074.7,719.7 2076.7,719.7 2078.7,719.7 2080.7,719.7 2082.7,719.8 2084.7,719.8 2086.7,719.8 2088.7,719.8 2090.6,719.8 2092.6,719.8 2094.6,719.8 2096.6,719.8 2098.6,719.8 2100.6,719.8 2102.6,719.8 2104.6,719.8 2106.6,719.8 2108.6,719.8 2110.6,719.8 2112.6,719.8 2114.6,719.8 2116.6,719.8 2118.6,719.8 2120.6,719.8 2122.6,719.8 2124.6,719.8 2126.6,719.8 2128.6,719.8 2130.6,719.8 2132.6,719.8 2134.6,719.8 2136.6,719.8 2138.6,719.8 2140.6,719.8 2142.6,719.8 2144.6,719.8 2146.6,719.8 2148.6,719.8 2150.5,719.8 2152.5,719.8 2154.5,719.8 2156.5,719.8 2158.5,719.8 2160.5,719.8 2162.5,719.8 2164.5,719.8 2166.5,719.8 2168.5,719.8 2170.5,719.8 2172.5,719.8 2174.5,719.8 2176.5,719.8 2178.5,719.8 2180.5,719.8 2182.5,719.8 2184.5,719.8 2186.5,719.8 2188.5,719.8 2190.5,719.8 2192.5,719.8 2194.5,719.8 2196.5,719.8 2198.5,719.8 2200.5,719.8 2202.5,719.8 2204.5,719.8 2206.5,719.8 2208.5,719.8 2210.4,719.8 2212.4,719.8 2214.4,719.8 2216.4,719.8 2218.4,719.8 2220.4,719.8 2222.4,719.8 2224.4,719.8 2226.4,719.8 2228.4,719.8 2230.4,719.8 2232.4,719.8 2234.4,719.8 2236.4,719.8 2238.4,719.8 2240.4,719.8 2242.4,719.8 2244.4,719.8 2246.4,719.8 2248.4,719.8 2250.4,719.8 2252.4,719.8 2254.4,719.8 2256.4,719.8 2258.4,719.8 2260.4,719.8 2262.4,719.8 2264.4,719.8 2266.4,719.8 2268.4,719.8 2270.3,719.8 2272.3,719.8 2274.3,719.8 2276.3,719.8 2278.3,719.8 2280.3,719.8 2282.3,719.8 2284.3,719.8 2286.3,719.8 2288.3,719.8 2290.3,719.8 2292.3,719.8 2294.3,719.8 2296.3,719.8 2298.3,719.8" fill="none" stroke="#ff00ff" stroke-width="3.3" stroke-linejoin="round"/>
<polyline points="1422.8,722.5 1424.8,722.5 1426.8,722.5 1428.8,722.5 1430.8,722.5 1432.8,722.5 1434.8,722.5 1436.8,722.5 1438.8,722.5 1440.8,722.5 1442.8,722.5 1444.8,722.5 1446.8,722.5 1448.8,722.5 1450.8,722.5 1452.8,722.5 1454.8,722.4 1456.8,722.4 1458.8,722.4 1460.8,722.4 1462.8,722.3 1464.8,722.3 1466.8,722.2 1468.8,722.1 1470.8,722 1472.8,721.8 1474.8,721.6 1476.8,721.4 1478.8,721.2 1480.8,720.8 1482.8,720.5 1484.8,720 1486.8,719.5 1488.8,718.9 1490.8,718.2 1492.8,717.4 1494.8,716.5 1496.8,715.5 1498.8,714.3 1500.8,713.1 1502.8,711.7 1504.8,710.2 1506.8,708.6 1508.8,706.9 1510.7,705.1 1512.7,703.2 1514.7,701.3 1516.7,699.4 1518.7,697.5 1520.7,695.5 1522.7,693.7 1524.7,691.9 1526.7,690.2 1528.7,688.7 1530.7,687.4 1532.7,686.2 1534.7,685.3 1536.7,684.6 1538.7,684.2 1540.7,684 1542.7,684.1 1544.7,684.5 1546.7,685.1 1548.7,685.9 1550.7,687 1552.7,688.3 1554.7,689.8 1556.7,691.4 1558.7,693.2 1560.7,695 1562.7,696.9 1564.7,698.9 1566.7,700.8 1568.7,702.7 1570.7,704.6 1572.7,706.4 1574.7,708.1 1576.7,709.8 1578.7,711.3 1580.7,712.7 1582.7,714 1584.7,715.2 1586.7,716.2 1588.7,717.2 1590.7,718 1592.7,718.7 1594.7,719.4 1596.7,719.9 1598.7,720.4 1600.7,720.8 1602.7,721.1 1604.7,721.4 1606.7,721.6 1608.7,721.8 1610.7,721.9 1612.7,722.1 1614.7,722.2 1616.7,722.2 1618.7,722.3 1620.7,722.3 1622.7,722.4 1624.7,722.4 1626.7,722.4 1628.7,722.5 1630.7,722.5 1632.7,722.5 1634.7,722.5 1636.7,722.5 1638.7,722.5 1640.7,722.5 1642.7,722.5 1644.7,722.5 1646.7,722.5 1648.7,722.5 1650.7,722.5 1652.7,722.5 1654.7,722.5 1656.7,722.5 1658.7,722.5 1660.7,722.5 1662.7,722.5 1664.7,722.5 1666.7,722.5 1668.7,722.5 1670.7,722.5 1672.7,722.5 1674.7,722.5 1676.7,722.5 1678.7,722.5 1680.7,722.5 1682.7,722.5 1684.7,722.5 1686.6,722.5 1688.6,722.5 1690.6,722.5 1692.6,722.5 1694.6,722.5 1696.6,722.5 1698.6,722.5 1700.6,722.5 1702.6,722.5 1704.6,722.5 1706.6,722.5 1708.6,722.5 1710.6,722.5 1712.6,722.5 1714.6,722.5 1716.6,722.5 1718.6,722.5 1720.6,722.5 1722.6,722.5 1724.6,722.5 1726.6,722.5 1728.6,722.5 1730.6,722.5 1732.6,722.5 1734.6,722.5 1736.6,722.5 1738.6,722.5 1740.6,722.5 1742.6,722.5 1744.6,722.5 1746.6,722.5 1748.6,722.5 1750.6,722.5 1752.6,722.5 1754.6,722.5 1756.6,722.5 1758.6,722.5 1760.6,722.5 1762.6,722.5 1764.6,722.5 1766.6,722.5 1768.6,722.5 1770.6,722.5 1772.6,722.5 1774.6,722.5 1776.6,722.5 1778.6,722.5 1780.6,722.5 1782.6,722.5 1784.6,722.5 1786.6,722.5 1788.6,722.5 1790.6,722.5 1792.6,722.5 1794.6,722.5 1796.6,722.5 1798.6,722.5 1800.6,722.5 1802.6,722.5 1804.6,722.5 1806.6,722.5 1808.6,722.5 1810.6,722.5 1812.6,722.5 1814.6,722.5 1816.6,722.5 1818.6,722.5 1820.6,722.5 1822.6,722.5 1824.6,722.5 1826.6,722.5 1828.6,722.5 1830.6,722.5 1832.6,722.5 1834.6,722.5 1836.6,722.5 1838.6,722.5 1840.6,722.5 1842.6,722.5 1844.6,722.5 1846.6,722.5 1848.6,722.5 1850.6,722.5 1852.6,722.5 1854.6,722.5 1856.6,722.5 1858.6,722.5 1860.6,722.5 1862.5,722.5 1864.5,722.5 1866.5,722.5 1868.5,722.5 1870.5,722.5 1872.5,722.5 1874.5,722.5 1876.5,722.5 1878.5,722.5 1880.5,722.5 1882.5,722.5 1884.5,722.5 1886.5,722.5 1888.5,722.5 1890.5,722.5 1892.5,722.5 1894.5,722.5 1896.5,722.5 1898.5,722.5 1900.5,722.5 1902.5,722.5 1904.5,722.5 1906.5,722.5 1908.5,722.5 1910.5,722.5 1912.5,722.5 1914.5,722.5 1916.5,722.5 1918.5,722.5 1920.5,722.5 1922.5,722.5 1924.5,722.5 1926.5,722.5 1928.5,722.5 1930.5,722.5 1932.5,722.5 1934.5,722.5 1936.5,722.5 1938.5,722.5 1940.5,722.5 1942.5,722.5 1944.5,722.5 1946.5,722.5 1948.5,722.5 1950.5,722.5 1952.5,722.5 1954.5,722.5 1956.5,722.5 1958.5,722.5 1960.5,722.5 1962.5,722.5 1964.5,722.5 1966.5,722.5 1968.5,722.5 1970.5,722.5 1972.5,722.5 1974.5,722.5 1976.5,722.5 1978.5,722.5 1980.5,722.5 1982.5,722.5 1984.5,722.5 1986.5,722.5 1988.5,722.5 1990.5,722.5 1992.5,722.5 1994.5,722.5 1996.5,722.5 1998.5,722.5 2000.5,722.5 2002.5,722.5 2004.5,722.5 2006.5,722.5 2008.5,722.5 2010.5,722.5 2012.5,722.5 2014.5,722.5 2016.5,722.5 2018.5,722.5 2020.5,722.5 2022.5,722.5 2024.5,722.5 2026.5,722.5 2028.5,722.5 2030.5,722.5 2032.5,722.5 2034.5,722.5 2036.4,722.5 2038.4,722.5 2040.4,722.5 2042.4,722.5 2044.4,722.5 2046.4,722.5 2048.4,722.5 2050.4,722.5 2052.4,722.5 2054.4,722.5 2056.4,722.5 2058.4,722.5 2060.4,722.5 2062.4,722.5 2064.4,722.5 2066.4,722.5 2068.4,722.5 2070.4,722.5 2072.4,722.5 2074.4,722.5 2076.4,722.5 2078.4,722.5 2080.4,722.5 2082.4,722.5 2084.4,722.5 2086.4,722.5 2088.4,722.5 2090.4,722.5 2092.4,722.5 2094.4,722.5 2096.4,722.5 2098.4,722.5 2100.4,722.5 2102.4,722.5 2104.4,722.5 2106.4,722.5 2108.4,722.5 2110.4,722.5 2112.4,722.5 2114.4,722.5 2116.4,722.5 2118.4,722.5 2120.4,722.5 2122.4,722.5 2124.4,722.5 2126.4,722.5 2128.4,722.5 2130.4,722.5 2132.4,722.5 2134.4,722.5 2136.4,722.5 2138.4,722.5 2140.4,722.5 2142.4,722.5 2144.4,722.5 2146.4,722.5 2148.4,722.5 2150.4,722.5 2152.4,722.5 2154.4,722.5 2156.4,722.5 2158.4,722.5 2160.4,722.5 2162.4,722.5 2164.4,722.5 2166.4,722.5 2168.4,722.5 2170.4,722.5 2172.4,722.5 2174.4,722.5 2176.4,722.5 2178.4,722.5 2180.4,722.5 2182.4,722.5 2184.4,722.5 2186.4,722.5 2188.4,722.5 2190.4,722.5 2192.4,722.5 2194.4,722.5 2196.4,722.5 2198.4,722.5 2200.4,722.5 2202.4,722.5 2204.4,722.5 2206.4,722.5 2208.4,722.5 2210.4,722.5 2212.3,722.5 2214.3,722.5 2216.3,722.5 2218.3,722.5 2220.3,722.5 2222.3,722.5 2224.3,722.5 2226.3,722.5 2228.3,722.5 2230.3,722.5 2232.3,722.5 2234.3,722.5 2236.3,722.5 2238.3,722.5 2240.3,722.5 2242.3,722.5 2244.3,722.5 2246.3,722.5 2248.3,722.5 2250.3,722.5 2252.3,722.5 2254.3,722.5 2256.3,722.5 2258.3,722.5 2260.3,722.5 2262.3,722.5 2264.3,722.5 2266.3,722.5 2268.3,722.5 2270.3,722.5 2272.3,722.5 2274.3,722.5 2276.3,722.5 2278.3,722.5 2280.3,722.5 2282.3,722.5 2284.3,722.5 2286.3,722.5 2288.3,722.5 2290.3,722.5 2292.3,722.5 2294.3,722.5 2296.3,722.5 2298.3,722.5" fill="none" stroke="#000080" stroke-width="3.3" stroke-linejoin="round"/>
<polyline points="1912.7,721.1 1914.7,721.1 1916.7,721 1918.7,720.9 1920.6,720.8 1922.6,720.7 1924.6,720.5 1926.6,720.4 1928.6,720.2 1930.6,720.1 1932.6,719.9 1934.6,719.7 1936.6,719.5 1938.6,719.3 1940.6,719 1942.6,718.8 1944.6,718.5 1946.6,718.2 1948.6,717.8 1950.6,717.5 1952.5,717.1 1954.5,716.7 1956.5,716.3 1958.5,715.8 1960.5,715.3 1962.5,714.8 1964.5,714.2 1966.5,713.6 1968.5,713 1970.5,712.3 1972.5,711.6 1974.5,710.9 1976.5,710.1 1978.5,709.2 1980.5,708.4 1982.4,707.4 1984.4,706.5 1986.4,705.4 1988.4,704.4 1990.4,703.3 1992.4,702.1 1994.4,700.9 1996.4,699.6 1998.4,698.3 2000.4,696.9 2002.4,695.5 2004.4,694 2006.4,692.5 2008.4,690.9 2010.4,689.2 2012.4,687.6 2014.3,685.8 2016.3,684.1 2018.3,682.2 2020.3,680.4 2022.3,678.5 2024.3,676.5 2026.3,674.6 2028.3,672.5 2030.3,670.5 2032.3,668.4 2034.3,666.3 2036.3,664.2 2038.3,662.1 2040.3,659.9 2042.3,657.8 2044.2,655.6 2046.2,653.5 2048.2,651.3 2050.2,649.2 2052.2,647.1 2054.2,645 2056.2,642.9 2058.2,640.8 2060.2,638.8 2062.2,636.9 2064.2,634.9 2066.2,633 2068.2,631.2 2070.2,629.5 2072.2,627.8 2074.2,626.2 2076.1,624.6 2078.1,623.2 2080.1,621.8 2082.1,620.5 2084.1,619.3 2086.1,618.2 2088.1,617.2 2090.1,616.3 2092.1,615.5 2094.1,614.8 2096.1,614.3 2098.1,613.8 2100.1,613.5 2102.1,613.2 2104.1,613.1 2106,613.1 2108,613.2 2110,613.5 2112,613.8 2114,614.3 2116,614.9 2118,615.5 2120,616.3 2122,617.2 2124,618.2 2126,619.3 2128,620.6 2130,621.8 2132,623.2 2134,624.7 2135.9,626.2 2137.9,627.9 2139.9,629.6 2141.9,631.3 2143.9,633.1 2145.9,635 2147.9,636.9 2149.9,638.9 2151.9,640.9 2153.9,643 2155.9,645.1 2157.9,647.2 2159.9,649.3 2161.9,651.4 2163.9,653.6 2165.9,655.7 2167.8,657.9 2169.8,660.1 2171.8,662.2 2173.8,664.3 2175.8,666.4 2177.8,668.5 2179.8,670.6 2181.8,672.6 2183.8,674.7 2185.8,676.6 2187.8,678.6 2189.8,680.5 2191.8,682.3 2193.8,684.2 2195.8,685.9 2197.7,687.7 2199.7,689.3 2201.7,691 2203.7,692.5 2205.7,694.1 2207.7,695.5 2209.7,697 2211.7,698.3 2213.7,699.7 2215.7,700.9 2217.7,702.1 2219.7,703.3 2221.7,704.4 2223.7,705.5 2225.7,706.5 2227.7,707.5 2229.6,708.4 2231.6,709.3 2233.6,710.1 2235.6,710.9 2237.6,711.7 2239.6,712.4 2241.6,713 2243.6,713.7 2245.6,714.3 2247.6,714.8 2249.6,715.3 2251.6,715.8 2253.6,716.3 2255.6,716.7 2257.6,717.1 2259.5,717.5 2261.5,717.9 2263.5,718.2 2265.5,718.5 2267.5,718.8 2269.5,719 2271.5,719.3 2273.5,719.5 2275.5,719.7 2277.5,719.9 2279.5,720.1 2281.5,720.2 2283.5,720.4 2285.5,720.5 2287.5,720.7 2289.5,720.8 2291.4,720.9 2293.4,721 2295.4,721.1 2297.4,721.1" fill="none" stroke="#0000ff" stroke-width="3.3" stroke-linejoin="round"/>
<polyline points="1422.8,721.3 1424.8,721.3 1426.8,721.3 1428.8,721.3 1430.8,721.3 1432.8,721.3 1434.8,721.3 1436.8,721.3 1438.8,721.3 1440.8,721.3 1442.8,721.3 1444.8,721.3 1446.8,721.3 1448.8,721.3 1450.8,721.3 1452.8,721.3 1454.8,721.3 1456.8,721.3 1458.8,721.3 1460.8,721.3 1462.8,721.3 1464.8,721.3 1466.8,721.3 1468.8,721.3 1470.8,721.3 1472.8,721.3 1474.8,721.3 1476.8,721.3 1478.8,721.3 1480.8,721.3 1482.8,721.3 1484.8,721.3 1486.8,721.3 1488.8,721.3 1490.8,721.3 1492.8,721.3 1494.8,721.3 1496.8,721.3 1498.8,721.3 1500.8,721.3 1502.8,721.3 1504.8,721.3 1506.8,721.3 1508.8,721.3 1510.7,721.3 1512.7,721.3 1514.7,721.3 1516.7,721.3 1518.7,721.3 1520.7,721.3 1522.7,721.3 1524.7,721.2 1526.7,721.2 1528.7,721.2 1530.7,721.1 1532.7,721.1 1534.7,721 1536.7,721 1538.7,720.9 1540.7,720.7 1542.7,720.6 1544.7,720.4 1546.7,720.1 1548.7,719.8 1550.7,719.4 1552.7,718.9 1554.7,718.4 1556.7,717.7 1558.7,716.9 1560.7,715.9 1562.7,714.7 1564.7,713.3 1566.7,711.6 1568.7,709.7 1570.7,707.4 1572.7,704.8 1574.7,701.8 1576.7,698.3 1578.7,694.4 1580.7,690 1582.7,685 1584.7,679.5 1586.7,673.3 1588.7,666.5 1590.7,659.1 1592.7,651 1594.7,642.3 1596.7,632.9 1598.7,622.9 1600.7,612.4 1602.7,601.3 1604.7,589.7 1606.7,577.7 1608.7,565.5 1610.7,553 1612.7,540.5 1614.7,528 1616.7,515.6 1618.7,503.6 1620.7,492 1622.7,481 1624.7,470.8 1626.7,461.4 1628.7,453.1 1630.7,445.8 1632.7,439.8 1634.7,435 1636.7,431.7 1638.7,429.8 1640.7,429.3 1642.7,430.3 1644.7,432.8 1646.7,436.7 1648.7,441.9 1650.7,448.4 1652.7,456.1 1654.7,464.8 1656.7,474.6 1658.7,485.1 1660.7,496.3 1662.7,508.1 1664.7,520.2 1666.7,532.7 1668.7,545.2 1670.7,557.7 1672.7,570.1 1674.7,582.3 1676.7,594.1 1678.7,605.5 1680.7,616.4 1682.7,626.8 1684.7,636.5 1686.6,645.7 1688.6,654.1 1690.6,662 1692.6,669.2 1694.6,675.7 1696.6,681.6 1698.6,686.9 1700.6,691.7 1702.6,695.9 1704.6,699.7 1706.6,702.9 1708.6,705.8 1710.6,708.3 1712.6,710.4 1714.6,712.3 1716.6,713.8 1718.6,715.1 1720.6,716.2 1722.6,717.2 1724.6,718 1726.6,718.6 1728.6,719.1 1730.6,719.6 1732.6,719.9 1734.6,720.2 1736.6,720.4 1738.6,720.6 1740.6,720.8 1742.6,720.9 1744.6,721 1746.6,721.1 1748.6,721.1 1750.6,721.2 1752.6,721.2 1754.6,721.2 1756.6,721.2 1758.6,721.3 1760.6,721.3 1762.6,721.3 1764.6,721.3 1766.6,721.3 1768.6,721.3 1770.6,721.3 1772.6,721.3 1774.6,721.3 1776.6,721.3 1778.6,721.3 1780.6,721.3 1782.6,721.3 1784.6,721.3 1786.6,721.3 1788.6,721.3 1790.6,721.3 1792.6,721.3 1794.6,721.3 1796.6,721.3 1798.6,721.3 1800.6,721.3 1802.6,721.3 1804.6,721.3 1806.6,721.3 1808.6,721.3 1810.6,721.3 1812.6,721.3 1814.6,721.3 1816.6,721.3 1818.6,721.3 1820.6,721.3 1822.6,721.3 1824.6,721.3 1826.6,721.3 1828.6,721.3 1830.6,721.3 1832.6,721.3 1834.6,721.3 1836.6,721.3 1838.6,721.3 1840.6,721.3 1842.6,721.3 1844.6,721.3 1846.6,721.3 1848.6,721.3 1850.6,721.3 1852.6,721.3 1854.6,721.3 1856.6,721.3 1858.6,721.3 1860.6,721.3" fill="none" stroke="#008000" stroke-width="3.3" stroke-linejoin="round"/>
<polyline points="2065.4,720.6 2067.4,720.3 2069.4,720 2071.4,719.6 2073.4,719 2075.3,718.3 2077.3,717.4 2079.3,716.3 2081.3,714.8 2083.3,713.1 2085.3,710.9 2087.2,708.2 2089.2,705 2091.2,701 2093.2,696.4 2095.2,690.8 2097.2,684.3 2099.1,676.6 2101.1,667.8 2103.1,657.6 2105.1,646.1 2107.1,633 2109.1,618.4 2111,602.1 2113,584.3 2115,564.8 2117,543.8 2119,521.3 2120.9,497.5 2122.9,472.6 2124.9,446.8 2126.9,420.4 2128.9,393.6 2130.9,367 2132.8,340.7 2134.8,315.3 2136.8,291.2 2138.8,268.7 2140.8,248.3 2142.8,230.3 2144.7,215.2 2146.7,203.1 2148.7,194.3 2150.7,189 2152.7,187.3 2154.7,189.3 2156.6,194.8 2158.6,203.9 2160.6,216.2 2162.6,231.6 2164.6,249.8 2166.6,270.4 2168.5,293 2170.5,317.2 2172.5,342.7 2174.5,369 2176.5,395.7 2178.5,422.4 2180.4,448.8 2182.4,474.5 2184.4,499.3 2186.4,523 2188.4,545.4 2190.4,566.3 2192.3,585.7 2194.3,603.4 2196.3,619.5 2198.3,634 2200.3,647 2202.2,658.5 2204.2,668.5 2206.2,677.3 2208.2,684.8 2210.2,691.3 2212.2,696.8 2214.1,701.4 2216.1,705.2 2218.1,708.4 2220.1,711.1 2222.1,713.2 2224.1,715 2226,716.4 2228,717.5 2230,718.4 2232,719.1 2234,719.6 2236,720 2237.9,720.3 2239.9,720.6" fill="none" stroke="#ff0000" stroke-width="3.3" stroke-linejoin="round"/>
<polyline points="1321.3,721.3 1323.3,721.3 1325.3,721.3 1327.3,721.3 1329.3,721.3 1331.3,721.3 1333.3,721.3 1335.3,721.3 1337.3,721.3 1339.3,721.3 1341.3,721.3 1343.3,721.3 1345.3,721.3 1347.3,721.3 1349.3,721.3 1351.3,721.3 1353.3,721.3 1355.3,721.3 1357.2,721.3 1359.2,721.3 1361.2,721.3 1363.2,721.3 1365.2,721.3 1367.2,721.3 1369.2,721.3 1371.2,721.3 1373.2,721.3 1375.2,721.3 1377.2,721.3 1379.2,721.3 1381.2,721.3 1383.2,721.3 1385.2,721.3 1387.2,721.3 1389.2,721.3 1391.2,721.3 1393.2,721.3 1395.2,721.3 1397.2,721.3 1399.2,721.3 1401.2,721.3 1403.2,721.3 1405.2,721.3 1407.2,721.3 1409.2,721.3 1411.2,721.3 1413.2,721.3 1415.2,721.3 1417.2,721.3 1419.2,721.3 1421.2,721.3 1423.2,721.3 1425.1,721.3 1427.1,721.3 1429.1,721.3 1431.1,721.3 1433.1,721.3 1435.1,721.3 1437.1,721.3 1439.1,721.3 1441.1,721.3 1443.1,721.3 1445.1,721.3 1447.1,721.3 1449.1,721.3 1451.1,721.3 1453.1,721.3 1455.1,721.2 1457.1,721.2 1459.1,721.2 1461.1,721.1 1463.1,721.1 1465.1,721 1467.1,721 1469.1,720.9 1471.1,720.7 1473.1,720.6 1475.1,720.4 1477.1,720.2 1479.1,719.9 1481.1,719.6 1483.1,719.2 1485.1,718.8 1487.1,718.2 1489.1,717.6 1491.1,716.9 1493,716.1 1495,715.1 1497,714.1 1499,712.9 1501,711.7 1503,710.3 1505,708.8 1507,707.2 1509,705.4 1511,703.6 1513,701.8 1515,699.9 1517,697.9 1519,696 1521,694 1523,692.2 1525,690.4 1527,688.7 1529,687.2 1531,685.8 1533,684.7 1535,683.7 1537,683 1539,682.5 1541,682.2 1543,682.2 1545,682.4 1547,682.8 1549,683.3 1551,684 1553,684.9 1555,685.8 1557,686.7 1559,687.6 1560.9,688.5 1562.9,689.2 1564.9,689.7 1566.9,689.9 1568.9,689.9 1570.9,689.4 1572.9,688.6 1574.9,687.2 1576.9,685.4 1578.9,682.9 1580.9,679.8 1582.9,676.1 1584.9,671.6 1586.9,666.5 1588.9,660.5 1590.9,653.9 1592.9,646.5 1594.9,638.3 1596.9,629.4 1598.9,619.8 1600.9,609.6 1602.9,598.8 1604.9,587.4 1606.9,575.7 1608.9,563.6 1610.9,551.3 1612.9,538.8 1614.9,526.5 1616.9,514.2 1618.9,502.3 1620.9,490.8 1622.9,479.9 1624.9,469.8 1626.9,460.5 1628.9,452.2 1630.8,445.1 1632.8,439.1 1634.8,434.5 1636.8,431.3 1638.8,429.5 1640.8,429.1 1642.8,430.2 1644.8,432.7 1646.8,436.7 1648.8,442 1650.8,448.5 1652.8,456.3 1654.8,465.1 1656.8,474.8 1658.8,485.3 1660.8,496.5 1662.8,508.2 1664.8,520.4 1666.8,532.7 1668.8,545.2 1670.8,557.6 1672.8,569.9 1674.8,581.9 1676.8,593.6 1678.8,604.9 1680.8,615.6 1682.8,625.8 1684.8,635.4 1686.8,644.3 1688.8,652.6 1690.8,660.3 1692.8,667.2 1694.8,673.6 1696.8,679.3 1698.7,684.3 1700.7,688.9 1702.7,692.8 1704.7,696.3 1706.7,699.3 1708.7,701.9 1710.7,704 1712.7,705.9 1714.7,707.4 1716.7,708.6 1718.7,709.6 1720.7,710.3 1722.7,710.8 1724.7,711.2 1726.7,711.4 1728.7,711.5 1730.7,711.5 1732.7,711.4 1734.7,711.2 1736.7,710.9 1738.7,710.6 1740.7,710.2 1742.7,709.8 1744.7,709.3 1746.7,708.8 1748.7,708.2 1750.7,707.6 1752.7,707 1754.7,706.4 1756.7,705.7 1758.7,705.1 1760.7,704.4 1762.7,703.7 1764.7,702.9 1766.6,702.2 1768.6,701.4 1770.6,700.7 1772.6,699.9 1774.6,699.1 1776.6,698.3 1778.6,697.6 1780.6,696.8 1782.6,696 1784.6,695.2 1786.6,694.4 1788.6,693.6 1790.6,692.8 1792.6,692 1794.6,691.3 1796.6,690.5 1798.6,689.7 1800.6,689 1802.6,688.3 1804.6,687.6 1806.6,686.9 1808.6,686.2 1810.6,685.6 1812.6,685 1814.6,684.4 1816.6,683.8 1818.6,683.2 1820.6,682.7 1822.6,682.2 1824.6,681.8 1826.6,681.4 1828.6,681 1830.6,680.7 1832.6,680.4 1834.6,680.1 1836.5,679.8 1838.5,679.7 1840.5,679.5 1842.5,679.4 1844.5,679.3 1846.5,679.3 1848.5,679.3 1850.5,679.3 1852.5,679.4 1854.5,679.6 1856.5,679.7 1858.5,679.9 1860.5,680.2 1862.5,680.5 1864.5,680.8 1866.5,681.2 1868.5,681.5 1870.5,682 1872.5,682.4 1874.5,682.9 1876.5,683.4 1878.5,684 1880.5,684.5 1882.5,685.1 1884.5,685.8 1886.5,686.4 1888.5,687.1 1890.5,687.7 1892.5,688.4 1894.5,689.1 1896.5,689.8 1898.5,690.5 1900.5,691.3 1902.5,692 1904.4,692.7 1906.4,693.5 1908.4,694.2 1910.4,694.9 1912.4,695.7 1914.4,696.4 1916.4,697.1 1918.4,697.8 1920.4,698.4 1922.4,699.1 1924.4,699.7 1926.4,700.4 1928.4,701 1930.4,701.5 1932.4,702.1 1934.4,702.6 1936.4,703.1 1938.4,703.5 1940.4,704 1942.4,704.4 1944.4,704.7 1946.4,705 1948.4,705.3 1950.4,705.5 1952.4,705.7 1954.4,705.9 1956.4,706 1958.4,706 1960.4,706 1962.4,706 1964.4,705.9 1966.4,705.7 1968.4,705.5 1970.4,705.2 1972.3,704.9 1974.3,704.5 1976.3,704.1 1978.3,703.6 1980.3,703 1982.3,702.4 1984.3,701.7 1986.3,701 1988.3,700.2 1990.3,699.3 1992.3,698.4 1994.3,697.4 1996.3,696.3 1998.3,695.2 2000.3,694 2002.3,692.7 2004.3,691.4 2006.3,690 2008.3,688.6 2010.3,687.1 2012.3,685.5 2014.3,683.9 2016.3,682.2 2018.3,680.5 2020.3,678.8 2022.3,676.9 2024.3,675.1 2026.3,673.2 2028.3,671.2 2030.3,669.2 2032.3,667.2 2034.3,665.2 2036.3,663.1 2038.3,661 2040.2,658.9 2042.2,656.8 2044.2,654.7 2046.2,652.5 2048.2,650.4 2050.2,648.3 2052.2,646.1 2054.2,644 2056.2,641.9 2058.2,639.8 2060.2,637.7 2062.2,635.6 2064.2,633.6 2066.2,631.5 2068.2,629.4 2070.2,627.3 2072.2,625.1 2074.2,622.9 2076.2,620.5 2078.2,618.1 2080.2,615.4 2082.2,612.6 2084.2,609.4 2086.2,605.9 2088.2,602 2090.2,597.5 2092.2,592.4 2094.2,586.6 2096.2,580 2098.2,572.4 2100.2,563.7 2102.2,553.9 2104.2,542.9 2106.2,530.4 2108.2,516.5 2110.1,501.2 2112.1,484.3 2114.1,465.8 2116.1,445.9 2118.1,424.6 2120.1,401.9 2122.1,378.2 2124.1,353.5 2126.1,328.2 2128.1,302.6 2130.1,277 2132.1,251.8 2134.1,227.3 2136.1,204 2138.1,182.4 2140.1,162.8 2142.1,145.6 2144.1,131.2 2146.1,119.8 2148.1,111.9 2150.1,107.4 2152.1,106.7 2154.1,109.6 2156.1,116.3 2158.1,126.5 2160.1,140.2 2162.1,157.1 2164.1,176.8 2166.1,199.1 2168.1,223.6 2170.1,249.9 2172.1,277.4 2174.1,305.9 2176.1,334.8 2178,363.8 2180,392.6 2182,420.7 2184,447.9 2186,473.9 2188,498.7 2190,521.9 2192,543.5 2194,563.4 2196,581.6 2198,598.2 2200,613.1 2202,626.5 2204,638.3 2206,648.8 2208,658 2210,666 2212,673 2214,679 2216,684.2 2218,688.7 2220,692.5 2222,695.8 2224,698.7 2226,701.1 2228,703.2 2230,705 2232,706.6 2234,708 2236,709.2 2238,710.2 2240,711.2 2242,712 2244,712.8 2245.9,713.5 2247.9,714.1 2249.9,714.7 2251.9,715.2 2253.9,715.7 2255.9,716.2 2257.9,716.6 2259.9,717 2261.9,717.3 2263.9,717.6 2265.9,717.9 2267.9,718.2 2269.9,718.5 2271.9,718.7 2273.9,718.9 2275.9,719.2 2277.9,719.3 2279.9,719.5 2281.9,719.7 2283.9,719.8 2285.9,720 2287.9,720.1 2289.9,720.2 2291.9,720.3 2293.9,720.4 2295.9,720.5 2297.9,720.6 2299.9,720.6 2301.9,720.7 2303.9,720.8 2305.9,720.8 2307.9,720.9 2309.9,720.9 2311.9,721 2313.8,721 2315.8,721 2317.8,721.1 2319.8,721.1 2321.8,721.1 2323.8,721.1 2325.8,721.1 2327.8,721.2 2329.8,721.2 2331.8,721.2 2333.8,721.2 2335.8,721.2 2337.8,721.2 2339.8,721.2 2341.8,721.2 2343.8,721.2 2345.8,721.3 2347.8,721.3" fill="none" stroke="#960000" stroke-width="3.5" stroke-linejoin="round"/>
<line x1="126.6" y1="945.5" x2="126.6" y2="1698.5" stroke="#666" stroke-width="2.8"/>
<line x1="1150.8" y1="945.5" x2="1150.8" y2="1698.5" stroke="#333" stroke-width="2.8"/>
<line x1="126.6" y1="946.9" x2="1150.8" y2="946.9" stroke="#aaa" stroke-width="2.8"/>
<line x1="126.6" y1="1697.1" x2="1150.8" y2="1697.1" stroke="#555" stroke-width="2.8"/>
<line x1="126.6" y1="1697.1" x2="126.6" y2="1712.1" stroke="#555" stroke-width="2.6"/>
<line x1="190.6" y1="1697.1" x2="190.6" y2="1705.6" stroke="#666" stroke-width="2.4"/>
<line x1="254.6" y1="1697.1" x2="254.6" y2="1712.1" stroke="#555" stroke-width="2.6"/>
<line x1="318.6" y1="1697.1" x2="318.6" y2="1705.6" stroke="#666" stroke-width="2.4"/>
<line x1="382.6" y1="1697.1" x2="382.6" y2="1712.1" stroke="#555" stroke-width="2.6"/>
<line x1="446.7" y1="1697.1" x2="446.7" y2="1705.6" stroke="#666" stroke-width="2.4"/>
<line x1="510.7" y1="1697.1" x2="510.7" y2="1712.1" stroke="#555" stroke-width="2.6"/>
<line x1="574.7" y1="1697.1" x2="574.7" y2="1705.6" stroke="#666" stroke-width="2.4"/>
<line x1="638.7" y1="1697.1" x2="638.7" y2="1712.1" stroke="#555" stroke-width="2.6"/>
<line x1="702.7" y1="1697.1" x2="702.7" y2="1705.6" stroke="#666" stroke-width="2.4"/>
<line x1="766.7" y1="1697.1" x2="766.7" y2="1712.1" stroke="#555" stroke-width="2.6"/>
<line x1="830.7" y1="1697.1" x2="830.7" y2="1705.6" stroke="#666" stroke-width="2.4"/>
<line x1="894.8" y1="1697.1" x2="894.8" y2="1712.1" stroke="#555" stroke-width="2.6"/>
<line x1="958.8" y1="1697.1" x2="958.8" y2="1705.6" stroke="#666" stroke-width="2.4"/>
<line x1="1022.8" y1="1697.1" x2="1022.8" y2="1712.1" stroke="#555" stroke-width="2.6"/>
<line x1="1086.8" y1="1697.1" x2="1086.8" y2="1705.6" stroke="#666" stroke-width="2.4"/>
<line x1="1150.8" y1="1697.1" x2="1150.8" y2="1712.1" stroke="#555" stroke-width="2.6"/>
<polyline points="357,1663.6 359,1663.5 361,1663.5 363,1663.5 365,1663.4 367,1663.4 369,1663.3 371,1663.3 373,1663.2 375,1663.1 377,1663.1 379,1663 381,1662.9 383,1662.9 385,1662.8 387,1662.7 389,1662.6 391,1662.6 393,1662.5 395,1662.4 397,1662.3 399,1662.2 400.9,1662.1 402.9,1662 404.9,1661.9 406.9,1661.8 408.9,1661.7 410.9,1661.5 412.9,1661.4 414.9,1661.3 416.9,1661.1 418.9,1661 420.9,1660.9 422.9,1660.7 424.9,1660.6 426.9,1660.4 428.9,1660.2 430.9,1660.1 432.9,1659.9 434.9,1659.7 436.9,1659.5 438.9,1659.4 440.9,1659.2 442.9,1659 444.9,1658.8 446.8,1658.6 448.8,1658.4 450.8,1658.1 452.8,1657.9 454.8,1657.7 456.8,1657.5 458.8,1657.2 460.8,1657 462.8,1656.7 464.8,1656.5 466.8,1656.2 468.8,1656 470.8,1655.7 472.8,1655.4 474.8,1655.1 476.8,1654.9 478.8,1654.6 480.8,1654.3 482.8,1654 484.8,1653.7 486.8,1653.4 488.8,1653.1 490.8,1652.8 492.7,1652.5 494.7,1652.2 496.7,1651.8 498.7,1651.5 500.7,1651.2 502.7,1650.9 504.7,1650.6 506.7,1650.2 508.7,1649.9 510.7,1649.6 512.7,1649.2 514.7,1648.9 516.7,1648.6 518.7,1648.2 520.7,1647.9 522.7,1647.6 524.7,1647.3 526.7,1646.9 528.7,1646.6 530.7,1646.3 532.7,1646 534.7,1645.6 536.7,1645.3 538.6,1645 540.6,1644.7 542.6,1644.4 544.6,1644.1 546.6,1643.8 548.6,1643.5 550.6,1643.2 552.6,1642.9 554.6,1642.6 556.6,1642.4 558.6,1642.1 560.6,1641.8 562.6,1641.6 564.6,1641.3 566.6,1641.1 568.6,1640.9 570.6,1640.7 572.6,1640.4 574.6,1640.2 576.6,1640 578.6,1639.9 580.6,1639.7 582.6,1639.5 584.5,1639.4 586.5,1639.2 588.5,1639.1 590.5,1639 592.5,1638.8 594.5,1638.7 596.5,1638.6 598.5,1638.6 600.5,1638.5 602.5,1638.4 604.5,1638.4 606.5,1638.3 608.5,1638.3 610.5,1638.3 612.5,1638.3 614.5,1638.3 616.5,1638.3 618.5,1638.4 620.5,1638.4 622.5,1638.5 624.5,1638.5 626.5,1638.6 628.5,1638.7 630.4,1638.8 632.4,1638.9 634.4,1639 636.4,1639.1 638.4,1639.3 640.4,1639.4 642.4,1639.6 644.4,1639.8 646.4,1640 648.4,1640.1 650.4,1640.3 652.4,1640.5 654.4,1640.8 656.4,1641 658.4,1641.2 660.4,1641.5 662.4,1641.7 664.4,1642 666.4,1642.2 668.4,1642.5 670.4,1642.8 672.4,1643.1 674.4,1643.3 676.3,1643.6 678.3,1643.9 680.3,1644.2 682.3,1644.5 684.3,1644.8 686.3,1645.2 688.3,1645.5 690.3,1645.8 692.3,1646.1 694.3,1646.4 696.3,1646.8 698.3,1647.1 700.3,1647.4 702.3,1647.7 704.3,1648.1 706.3,1648.4 708.3,1648.7 710.3,1649.1 712.3,1649.4 714.3,1649.7 716.3,1650.1 718.3,1650.4 720.2,1650.7 722.2,1651 724.2,1651.4 726.2,1651.7 728.2,1652 730.2,1652.3 732.2,1652.6 734.2,1652.9 736.2,1653.2 738.2,1653.5 740.2,1653.8 742.2,1654.1 744.2,1654.4 746.2,1654.7 748.2,1655 750.2,1655.3 752.2,1655.5 754.2,1655.8 756.2,1656.1 758.2,1656.3 760.2,1656.6 762.2,1656.8 764.2,1657.1 766.1,1657.3 768.1,1657.6 770.1,1657.8 772.1,1658 774.1,1658.2 776.1,1658.5 778.1,1658.7 780.1,1658.9 782.1,1659.1 784.1,1659.3 786.1,1659.5 788.1,1659.6 790.1,1659.8 792.1,1660 794.1,1660.2 796.1,1660.3 798.1,1660.5 800.1,1660.6 802.1,1660.8 804.1,1660.9 806.1,1661.1 808.1,1661.2 810.1,1661.3 812,1661.5 814,1661.6 816,1661.7 818,1661.8 820,1661.9 822,1662 824,1662.1 826,1662.2 828,1662.3 830,1662.4 832,1662.5 834,1662.6 836,1662.7 838,1662.8 840,1662.8 842,1662.9 844,1663 846,1663 848,1663.1 850,1663.2 852,1663.2 854,1663.3 856,1663.3 857.9,1663.4 859.9,1663.4 861.9,1663.5 863.9,1663.5" fill="none" stroke="#ff00ff" stroke-width="3.3" stroke-linejoin="round"/>
<polyline points="225,1666.3 227,1666.2 229,1666.1 231,1666 233,1665.8 235,1665.7 237,1665.5 239,1665.4 241,1665.2 243,1665 245,1664.8 247,1664.6 249,1664.3 251,1664 253,1663.7 255,1663.4 257,1663.1 259,1662.7 261,1662.3 263,1661.9 265,1661.4 267,1660.9 269,1660.4 271,1659.9 273,1659.3 275,1658.7 277,1658 279,1657.4 281,1656.6 283,1655.9 285,1655.1 287,1654.3 289,1653.4 291,1652.6 293,1651.6 295,1650.7 297,1649.7 299,1648.7 301,1647.7 303,1646.6 305,1645.5 307,1644.4 309,1643.3 311,1642.2 313,1641 315,1639.9 317,1638.7 319,1637.6 321,1636.4 323,1635.3 325,1634.2 327,1633.1 329,1632 331,1630.9 333,1629.9 335,1628.9 337,1627.9 339,1627 341,1626.1 343,1625.3 345,1624.5 347,1623.8 349,1623.1 351,1622.5 353,1622 355,1621.6 357,1621.2 359,1620.9 361,1620.6 363,1620.5 365,1620.4 367,1620.4 369,1620.5 371,1620.6 373,1620.9 375,1621.2 377,1621.6 379,1622 381,1622.5 383,1623.1 385,1623.8 387,1624.5 389,1625.3 391,1626.1 393,1627 395,1627.9 397,1628.8 399,1629.8 401,1630.9 403,1631.9 405,1633 407,1634.2 409,1635.3 411,1636.4 413,1637.6 415,1638.7 417,1639.9 419,1641 421,1642.2 423,1643.3 425,1644.4 427,1645.5 429,1646.6 431,1647.7 433,1648.7 435,1649.7 437,1650.7 439,1651.6 441,1652.5 443,1653.4 445,1654.3 447,1655.1 449,1655.9 451,1656.6 453,1657.4 455,1658 457,1658.7 459,1659.3 461,1659.9 463,1660.4 465,1660.9 467,1661.4 469,1661.9 471,1662.3 473,1662.7 475,1663.1 477,1663.4 479,1663.7 481,1664 483,1664.3 485,1664.6 487,1664.8 489,1665 491,1665.2 493,1665.4 495,1665.5 497,1665.7 499,1665.8 501,1665.9 503,1666.1 505,1666.2 507,1666.3 509,1666.3 511,1666.4 513,1666.5 515,1666.5 517,1666.6 519,1666.6 520.9,1666.7 522.9,1666.7 524.9,1666.8 526.9,1666.8 528.9,1666.8 530.9,1666.8 532.9,1666.9 534.9,1666.9 536.9,1666.9 538.9,1666.9 540.9,1666.9 542.9,1666.9 544.9,1666.9 546.9,1666.9 548.9,1667 550.9,1667 552.9,1667 554.9,1667 556.9,1667 558.9,1667 560.9,1667 562.9,1667 564.9,1667 566.9,1667 568.9,1667 570.9,1667 572.9,1667 574.9,1667 576.9,1667 578.9,1667 580.9,1667 582.9,1667 584.9,1667 586.9,1667 588.9,1667 590.9,1667 592.9,1667 594.9,1667 596.9,1667 598.9,1667 600.9,1667 602.9,1667 604.9,1667 606.9,1667 608.9,1667 610.9,1667 612.9,1667 614.9,1667 616.9,1667 618.9,1667 620.9,1667 622.9,1667 624.9,1667 626.9,1667 628.9,1667 630.9,1667 632.9,1667 634.9,1667 636.9,1667 638.9,1667 640.9,1667 642.9,1667 644.9,1667 646.9,1667 648.9,1667 650.9,1667 652.9,1667 654.9,1667 656.9,1667 658.9,1667 660.9,1667 662.9,1667 664.9,1667 666.9,1667 668.9,1667 670.9,1667 672.9,1667 674.9,1667 676.9,1667 678.9,1667 680.9,1667 682.9,1667 684.9,1667 686.9,1667 688.9,1667 690.9,1667 692.9,1667 694.9,1667 696.9,1667 698.9,1667 700.9,1667 702.9,1667 704.9,1667 706.9,1667 708.9,1667 710.9,1667 712.9,1667 714.9,1667 716.9,1667 718.9,1667 720.9,1667 722.9,1667 724.9,1667 726.9,1667 728.9,1667 730.9,1667 732.9,1667 734.9,1667 736.9,1667 738.9,1667 740.9,1667 742.9,1667 744.9,1667 746.9,1667 748.9,1667 750.9,1667 752.9,1667 754.9,1667 756.9,1667 758.9,1667 760.9,1667 762.9,1667 764.9,1667 766.9,1667 768.9,1667 770.9,1667 772.9,1667 774.9,1667 776.9,1667 778.9,1667 780.9,1667 782.9,1667 784.9,1667 786.9,1667 788.9,1667 790.9,1667 792.9,1667 794.9,1667 796.9,1667 798.9,1667 800.9,1667 802.9,1667 804.9,1667 806.9,1667 808.9,1667 810.9,1667 812.9,1667 814.9,1667 816.9,1667 818.9,1667 820.9,1667 822.9,1667 824.9,1667 826.9,1667 828.9,1667 830.9,1667 832.9,1667 834.9,1667 836.9,1667 838.9,1667 840.9,1667 842.9,1667 844.9,1667 846.9,1667 848.9,1667 850.9,1667 852.9,1667 854.9,1667 856.9,1667 858.9,1667 860.9,1667 862.9,1667 864.9,1667 866.9,1667 868.9,1667 870.9,1667 872.9,1667 874.9,1667 876.9,1667 878.9,1667 880.9,1667 882.9,1667 884.9,1667 886.9,1667 888.9,1667 890.9,1667 892.9,1667 894.9,1667 896.9,1667 898.9,1667 900.9,1667 902.9,1667 904.9,1667 906.9,1667 908.9,1667 910.9,1667 912.9,1667 914.9,1667 916.9,1667 918.9,1667 920.9,1667 922.9,1667 924.9,1667 926.9,1667 928.9,1667 930.9,1667 932.9,1667 934.9,1667 936.9,1667 938.9,1667 940.8,1667 942.8,1667 944.8,1667 946.8,1667 948.8,1667 950.8,1667 952.8,1667 954.8,1667 956.8,1667 958.8,1667 960.8,1667 962.8,1667 964.8,1667 966.8,1667 968.8,1667 970.8,1667 972.8,1667 974.8,1667 976.8,1667 978.8,1667 980.8,1667 982.8,1667 984.8,1667 986.8,1667 988.8,1667 990.8,1667 992.8,1667 994.8,1667 996.8,1667 998.8,1667 1000.8,1667 1002.8,1667 1004.8,1667 1006.8,1667 1008.8,1667 1010.8,1667 1012.8,1667 1014.8,1667 1016.8,1667 1018.8,1667 1020.8,1667 1022.8,1667 1024.8,1667 1026.8,1667 1028.8,1667 1030.8,1667 1032.8,1667 1034.8,1667 1036.8,1667 1038.8,1667 1040.8,1667 1042.8,1667 1044.8,1667 1046.8,1667 1048.8,1667 1050.8,1667 1052.8,1667 1054.8,1667 1056.8,1667 1058.8,1667 1060.8,1667 1062.8,1667 1064.8,1667 1066.8,1667 1068.8,1667 1070.8,1667 1072.8,1667 1074.8,1667 1076.8,1667 1078.8,1667 1080.8,1667 1082.8,1667 1084.8,1667 1086.8,1667 1088.8,1667 1090.8,1667 1092.8,1667 1094.8,1667 1096.8,1667 1098.8,1667 1100.8,1667 1102.8,1667 1104.8,1667 1106.8,1667 1108.8,1667 1110.8,1667 1112.8,1667 1114.8,1667 1116.8,1667 1118.8,1667 1120.8,1667 1122.8,1667 1124.8,1667 1126.8,1667 1128.8,1667 1130.8,1667 1132.8,1667 1134.8,1667 1136.8,1667 1138.8,1667 1140.8,1667 1142.8,1667 1144.8,1667 1146.8,1667 1148.8,1667 1150.8,1667" fill="none" stroke="#000080" stroke-width="3.3" stroke-linejoin="round"/>
<polyline points="799.1,1665.4 801.1,1665.2 803.1,1664.9 805,1664.5 807,1664 809,1663.4 811,1662.7 812.9,1661.8 814.9,1660.8 816.9,1659.6 818.8,1658.2 820.8,1656.6 822.8,1654.8 824.8,1652.7 826.7,1650.3 828.7,1647.8 830.7,1645 832.6,1641.9 834.6,1638.7 836.6,1635.3 838.6,1631.8 840.5,1628.3 842.5,1624.7 844.5,1621.1 846.4,1617.7 848.4,1614.5 850.4,1611.5 852.3,1608.8 854.3,1606.5 856.3,1604.7 858.3,1603.3 860.2,1602.5 862.2,1602.2 864.2,1602.4 866.1,1603.2 868.1,1604.5 870.1,1606.3 872.1,1608.6 874,1611.2 876,1614.2 878,1617.4 879.9,1620.8 881.9,1624.3 883.9,1627.9 885.9,1631.5 887.8,1635 889.8,1638.4 891.8,1641.6 893.7,1644.7 895.7,1647.5 897.7,1650.1 899.7,1652.4 901.6,1654.6 903.6,1656.4 905.6,1658.1 907.5,1659.5 909.5,1660.7 911.5,1661.7 913.4,1662.6 915.4,1663.3 917.4,1663.9 919.4,1664.4 921.3,1664.8 923.3,1665.1 925.3,1665.4 927.2,1665.6 929.2,1665.7 931.2,1665.9 933.2,1665.9" fill="none" stroke="#0000ff" stroke-width="3.3" stroke-linejoin="round"/>
<polyline points="229,1665.8 231,1665.8 233,1665.8 235,1665.8 237,1665.8 239,1665.8 240.9,1665.8 242.9,1665.8 244.9,1665.8 246.9,1665.8 248.9,1665.8 250.9,1665.8 252.9,1665.8 254.9,1665.8 256.9,1665.8 258.8,1665.8 260.8,1665.8 262.8,1665.8 264.8,1665.8 266.8,1665.8 268.8,1665.8 270.8,1665.8 272.8,1665.8 274.7,1665.8 276.7,1665.8 278.7,1665.8 280.7,1665.8 282.7,1665.8 284.7,1665.8 286.7,1665.8 288.7,1665.8 290.6,1665.8 292.6,1665.8 294.6,1665.8 296.6,1665.8 298.6,1665.8 300.6,1665.8 302.6,1665.8 304.6,1665.8 306.6,1665.8 308.5,1665.8 310.5,1665.8 312.5,1665.8 314.5,1665.8 316.5,1665.8 318.5,1665.8 320.5,1665.8 322.5,1665.8 324.4,1665.8 326.4,1665.8 328.4,1665.8 330.4,1665.7 332.4,1665.7 334.4,1665.7 336.4,1665.7 338.4,1665.6 340.3,1665.5 342.3,1665.5 344.3,1665.3 346.3,1665.2 348.3,1665 350.3,1664.8 352.3,1664.5 354.3,1664.2 356.2,1663.7 358.2,1663.2 360.2,1662.5 362.2,1661.7 364.2,1660.7 366.2,1659.4 368.2,1658 370.2,1656.3 372.2,1654.2 374.1,1651.8 376.1,1649 378.1,1645.7 380.1,1641.9 382.1,1637.6 384.1,1632.6 386.1,1627.1 388.1,1620.8 390,1613.9 392,1606.2 394,1597.8 396,1588.7 398,1578.8 400,1568.2 402,1556.9 404,1545 405.9,1532.6 407.9,1519.7 409.9,1506.6 411.9,1493.2 413.9,1479.7 415.9,1466.4 417.9,1453.3 419.9,1440.6 421.9,1428.6 423.8,1417.3 425.8,1407 427.8,1397.8 429.8,1389.8 431.8,1383.2 433.8,1378.1 435.8,1374.6 437.8,1372.7 439.7,1372.5 441.7,1374 443.7,1377.1 445.7,1381.8 447.7,1388 449.7,1395.6 451.7,1404.6 453.7,1414.6 455.6,1425.7 457.6,1437.5 459.6,1450.1 461.6,1463.1 463.6,1476.4 465.6,1489.8 467.6,1503.2 469.6,1516.5 471.6,1529.4 473.5,1541.9 475.5,1554 477.5,1565.4 479.5,1576.2 481.5,1586.3 483.5,1595.6 485.5,1604.2 487.5,1612.1 489.4,1619.2 491.4,1625.6 493.4,1631.3 495.4,1636.4 497.4,1640.9 499.4,1644.8 501.4,1648.2 503.4,1651.1 505.3,1653.6 507.3,1655.8 509.3,1657.6 511.3,1659.1 513.3,1660.4 515.3,1661.4 517.3,1662.3 519.3,1663 521.3,1663.6 523.2,1664.1 525.2,1664.4 527.2,1664.7 529.2,1665 531.2,1665.2 533.2,1665.3 535.2,1665.4 537.2,1665.5 539.1,1665.6 541.1,1665.6 543.1,1665.7 545.1,1665.7 547.1,1665.7 549.1,1665.8" fill="none" stroke="#008000" stroke-width="3.3" stroke-linejoin="round"/>
<polyline points="842.3,1665.2 844.3,1665 846.3,1664.7 848.3,1664.4 850.3,1664 852.3,1663.5 854.3,1662.9 856.3,1662 858.3,1661 860.3,1659.8 862.3,1658.3 864.3,1656.5 866.3,1654.2 868.2,1651.5 870.2,1648.3 872.2,1644.5 874.2,1640 876.2,1634.7 878.2,1628.5 880.2,1621.3 882.2,1613.1 884.2,1603.7 886.2,1593 888.2,1580.9 890.2,1567.3 892.2,1552.3 894.1,1535.6 896.1,1517.3 898.1,1497.4 900.1,1475.9 902.1,1452.8 904.1,1428.2 906.1,1402.2 908.1,1375 910.1,1346.8 912.1,1317.7 914.1,1288.1 916.1,1258.3 918.1,1228.5 920,1199.1 922,1170.5 924,1143 926,1117 928,1092.9 930,1071.1 932,1051.8 934,1035.4 936,1022.1 938,1012.2 940,1005.8 942,1002.9 944,1003.8 945.9,1008.3 947.9,1016.3 949.9,1027.8 951.9,1042.5 953.9,1060.3 955.9,1080.8 957.9,1103.7 959.9,1128.7 961.9,1155.4 963.9,1183.4 965.9,1212.5 967.9,1242.1 969.9,1272 971.8,1301.7 973.8,1331.1 975.8,1359.8 977.8,1387.6 979.8,1414.3 981.8,1439.6 983.8,1463.6 985.8,1486 987.8,1506.7 989.8,1525.9 991.8,1543.4 993.8,1559.4 995.8,1573.7 997.7,1586.6 999.7,1598 1001.7,1608.1 1003.7,1617 1005.7,1624.7 1007.7,1631.4 1009.7,1637.2 1011.7,1642.1 1013.7,1646.3 1015.7,1649.9 1017.7,1652.8 1019.7,1655.3 1021.7,1657.3 1023.6,1659 1025.6,1660.4 1027.6,1661.5 1029.6,1662.4 1031.6,1663.2 1033.6,1663.7 1035.6,1664.2 1037.6,1664.6 1039.6,1664.9 1041.6,1665.1" fill="none" stroke="#ff0000" stroke-width="3.3" stroke-linejoin="round"/>
<polyline points="128.1,1665.8 130.1,1665.8 132.1,1665.8 134.1,1665.8 136.1,1665.8 138.1,1665.8 140.1,1665.8 142.1,1665.8 144.1,1665.8 146.1,1665.8 148.1,1665.8 150.1,1665.8 152.1,1665.8 154.1,1665.8 156.1,1665.8 158.1,1665.8 160.1,1665.8 162.1,1665.8 164.1,1665.8 166.1,1665.8 168,1665.8 170,1665.8 172,1665.8 174,1665.8 176,1665.8 178,1665.8 180,1665.8 182,1665.8 184,1665.8 186,1665.7 188,1665.7 190,1665.7 192,1665.7 194,1665.7 196,1665.7 198,1665.7 200,1665.6 202,1665.6 204,1665.6 206,1665.6 208,1665.5 210,1665.5 212,1665.5 214,1665.4 216,1665.4 218,1665.3 220,1665.2 222,1665.2 224,1665.1 226,1665 228,1664.9 230,1664.8 232,1664.7 234,1664.6 236,1664.4 238,1664.3 240,1664.1 242,1663.9 244,1663.7 245.9,1663.5 247.9,1663.2 249.9,1663 251.9,1662.7 253.9,1662.4 255.9,1662 257.9,1661.7 259.9,1661.3 261.9,1660.9 263.9,1660.4 265.9,1660 267.9,1659.5 269.9,1658.9 271.9,1658.4 273.9,1657.8 275.9,1657.2 277.9,1656.5 279.9,1655.8 281.9,1655.1 283.9,1654.3 285.9,1653.5 287.9,1652.6 289.9,1651.8 291.9,1650.9 293.9,1649.9 295.9,1649 297.9,1648 299.9,1646.9 301.9,1645.9 303.9,1644.8 305.9,1643.7 307.9,1642.6 309.9,1641.5 311.9,1640.3 313.9,1639.1 315.9,1638 317.9,1636.8 319.9,1635.7 321.9,1634.5 323.9,1633.3 325.8,1632.2 327.8,1631.1 329.8,1629.9 331.8,1628.8 333.8,1627.8 335.8,1626.7 337.8,1625.7 339.8,1624.7 341.8,1623.8 343.8,1622.8 345.8,1621.9 347.8,1621 349.8,1620.2 351.8,1619.3 353.8,1618.4 355.8,1617.5 357.8,1616.6 359.8,1615.7 361.8,1614.6 363.8,1613.5 365.8,1612.2 367.8,1610.8 369.8,1609.1 371.8,1607.3 373.8,1605.1 375.8,1602.6 377.8,1599.7 379.8,1596.4 381.8,1592.7 383.8,1588.4 385.8,1583.5 387.8,1578 389.8,1571.8 391.8,1565 393.8,1557.4 395.8,1549.2 397.8,1540.2 399.8,1530.5 401.8,1520.2 403.7,1509.3 405.7,1497.9 407.7,1486 409.7,1473.8 411.7,1461.4 413.7,1448.9 415.7,1436.5 417.7,1424.3 419.7,1412.6 421.7,1401.4 423.7,1391 425.7,1381.5 427.7,1373.1 429.7,1366 431.7,1360.2 433.7,1355.9 435.7,1353.1 437.7,1352 439.7,1352.4 441.7,1354.6 443.7,1358.4 445.7,1363.7 447.7,1370.6 449.7,1378.8 451.7,1388.3 453.7,1398.9 455.7,1410.4 457.7,1422.8 459.7,1435.7 461.7,1449.1 463.7,1462.8 465.7,1476.5 467.7,1490.2 469.7,1503.7 471.7,1516.8 473.7,1529.5 475.7,1541.6 477.7,1553.1 479.7,1563.9 481.6,1574 483.6,1583.3 485.6,1591.8 487.6,1599.6 489.6,1606.6 491.6,1612.8 493.6,1618.4 495.6,1623.2 497.6,1627.5 499.6,1631.2 501.6,1634.3 503.6,1637 505.6,1639.2 507.6,1641.1 509.6,1642.6 511.6,1643.9 513.6,1644.8 515.6,1645.6 517.6,1646.2 519.6,1646.6 521.6,1646.8 523.6,1647 525.6,1647.1 527.6,1647.1 529.6,1647 531.6,1646.9 533.6,1646.7 535.6,1646.5 537.6,1646.3 539.6,1646.1 541.6,1645.8 543.6,1645.6 545.6,1645.3 547.6,1645 549.6,1644.8 551.6,1644.5 553.6,1644.2 555.6,1644 557.6,1643.7 559.6,1643.4 561.5,1643.2 563.5,1643 565.5,1642.7 567.5,1642.5 569.5,1642.3 571.5,1642 573.5,1641.8 575.5,1641.6 577.5,1641.5 579.5,1641.3 581.5,1641.1 583.5,1640.9 585.5,1640.8 587.5,1640.6 589.5,1640.5 591.5,1640.4 593.5,1640.3 595.5,1640.2 597.5,1640.1 599.5,1640 601.5,1640 603.5,1639.9 605.5,1639.9 607.5,1639.8 609.5,1639.8 611.5,1639.8 613.5,1639.8 615.5,1639.8 617.5,1639.8 619.5,1639.9 621.5,1639.9 623.5,1640 625.5,1640.1 627.5,1640.1 629.5,1640.2 631.5,1640.3 633.5,1640.5 635.5,1640.6 637.5,1640.7 639.4,1640.9 641.4,1641 643.4,1641.2 645.4,1641.4 647.4,1641.5 649.4,1641.7 651.4,1641.9 653.4,1642.2 655.4,1642.4 657.4,1642.6 659.4,1642.8 661.4,1643.1 663.4,1643.3 665.4,1643.6 667.4,1643.9 669.4,1644.1 671.4,1644.4 673.4,1644.7 675.4,1645 677.4,1645.3 679.4,1645.6 681.4,1645.9 683.4,1646.2 685.4,1646.5 687.4,1646.8 689.4,1647.1 691.4,1647.5 693.4,1647.8 695.4,1648.1 697.4,1648.4 699.4,1648.8 701.4,1649.1 703.4,1649.4 705.4,1649.8 707.4,1650.1 709.4,1650.4 711.4,1650.8 713.4,1651.1 715.4,1651.4 717.3,1651.7 719.3,1652.1 721.3,1652.4 723.3,1652.7 725.3,1653 727.3,1653.4 729.3,1653.7 731.3,1654 733.3,1654.3 735.3,1654.6 737.3,1654.9 739.3,1655.2 741.3,1655.5 743.3,1655.8 745.3,1656.1 747.3,1656.4 749.3,1656.7 751.3,1656.9 753.3,1657.2 755.3,1657.5 757.3,1657.7 759.3,1658 761.3,1658.2 763.3,1658.5 765.3,1658.7 767.3,1659 769.3,1659.2 771.3,1659.4 773.3,1659.6 775.3,1659.8 777.3,1660.1 779.3,1660.3 781.3,1660.4 783.3,1660.6 785.3,1660.8 787.3,1660.9 789.3,1661.1 791.3,1661.2 793.3,1661.3 795.3,1661.3 797.2,1661.3 799.2,1661.3 801.2,1661.2 803.2,1661 805.2,1660.7 807.2,1660.4 809.2,1659.9 811.2,1659.3 813.2,1658.5 815.2,1657.6 817.2,1656.4 819.2,1655.1 821.2,1653.5 823.2,1651.7 825.2,1649.6 827.2,1647.3 829.2,1644.7 831.2,1641.8 833.2,1638.7 835.2,1635.4 837.2,1632 839.2,1628.4 841.2,1624.7 843.2,1621 845.2,1617.3 847.2,1613.6 849.2,1610.2 851.2,1606.9 853.2,1603.8 855.2,1601 857.2,1598.5 859.2,1596.3 861.2,1594.4 863.2,1592.8 865.2,1591.3 867.2,1590 869.2,1588.7 871.2,1587.3 873.2,1585.7 875.1,1583.7 877.1,1581.2 879.1,1577.9 881.1,1573.8 883.1,1568.7 885.1,1562.3 887.1,1554.5 889.1,1545.2 891.1,1534.2 893.1,1521.5 895.1,1507 897.1,1490.6 899.1,1472.3 901.1,1452.1 903.1,1430.2 905.1,1406.6 907.1,1381.4 909.1,1354.8 911.1,1327.2 913.1,1298.7 915.1,1269.6 917.1,1240.3 919.1,1211.1 921.1,1182.4 923.1,1154.6 925.1,1128 927.1,1103.2 929.1,1080.4 931.1,1059.9 933.1,1042.2 935.1,1027.5 937.1,1016.1 939.1,1008.1 941.1,1003.6 943.1,1002.8 945.1,1005.7 947.1,1012.2 949.1,1022.3 951.1,1035.7 953,1052.2 955,1071.6 957,1093.5 959,1117.8 961,1143.9 963,1171.5 965,1200.2 967,1229.7 969,1259.6 971,1289.5 973,1319.2 975,1348.3 977,1376.5 979,1403.7 981,1429.7 983,1454.3 985,1477.3 987,1498.8 989,1518.7 991,1536.9 993,1553.5 995,1568.4 997,1581.9 999,1593.9 1001,1604.5 1003,1613.9 1005,1622 1007,1629.1 1009,1635.2 1011,1640.5 1013,1644.9 1015,1648.7 1017,1651.8 1019,1654.5 1021,1656.7 1023,1658.5 1025,1660 1027,1661.2 1029,1662.2 1031,1662.9 1032.9,1663.6 1034.9,1664.1 1036.9,1664.5 1038.9,1664.8 1040.9,1665 1042.9,1665.2 1044.9,1665.4 1046.9,1665.5 1048.9,1665.5 1050.9,1665.6 1052.9,1665.7 1054.9,1665.7 1056.9,1665.7 1058.9,1665.7 1060.9,1665.8 1062.9,1665.8 1064.9,1665.8 1066.9,1665.8 1068.9,1665.8 1070.9,1665.8 1072.9,1665.8 1074.9,1665.8 1076.9,1665.8 1078.9,1665.8 1080.9,1665.8 1082.9,1665.8 1084.9,1665.8 1086.9,1665.8 1088.9,1665.8 1090.9,1665.8 1092.9,1665.8 1094.9,1665.8 1096.9,1665.8 1098.9,1665.8 1100.9,1665.8 1102.9,1665.8 1104.9,1665.8 1106.9,1665.8 1108.9,1665.8 1110.8,1665.8 1112.8,1665.8 1114.8,1665.8 1116.8,1665.8 1118.8,1665.8 1120.8,1665.8 1122.8,1665.8 1124.8,1665.8 1126.8,1665.8 1128.8,1665.8 1130.8,1665.8 1132.8,1665.8 1134.8,1665.8 1136.8,1665.8 1138.8,1665.8 1140.8,1665.8 1142.8,1665.8 1144.8,1665.8 1146.8,1665.8 1148.8,1665.8" fill="none" stroke="#960000" stroke-width="3.5" stroke-linejoin="round"/>
<line x1="1322.6" y1="947.5" x2="1322.6" y2="1704.1" stroke="#666" stroke-width="2.8"/>
<line x1="2349.8" y1="947.5" x2="2349.8" y2="1704.1" stroke="#666" stroke-width="2.8"/>
<line x1="1322.6" y1="948.9" x2="2349.8" y2="948.9" stroke="#777" stroke-width="2.8"/>
<line x1="1322.6" y1="1702.7" x2="2349.8" y2="1702.7" stroke="#444" stroke-width="2.8"/>
<line x1="1322.6" y1="1702.7" x2="1322.6" y2="1717.7" stroke="#555" stroke-width="2.6"/>
<line x1="1386.8" y1="1702.7" x2="1386.8" y2="1711.2" stroke="#666" stroke-width="2.4"/>
<line x1="1451" y1="1702.7" x2="1451" y2="1717.7" stroke="#555" stroke-width="2.6"/>
<line x1="1515.2" y1="1702.7" x2="1515.2" y2="1711.2" stroke="#666" stroke-width="2.4"/>
<line x1="1579.4" y1="1702.7" x2="1579.4" y2="1717.7" stroke="#555" stroke-width="2.6"/>
<line x1="1643.6" y1="1702.7" x2="1643.6" y2="1711.2" stroke="#666" stroke-width="2.4"/>
<line x1="1707.8" y1="1702.7" x2="1707.8" y2="1717.7" stroke="#555" stroke-width="2.6"/>
<line x1="1772" y1="1702.7" x2="1772" y2="1711.2" stroke="#666" stroke-width="2.4"/>
<line x1="1836.2" y1="1702.7" x2="1836.2" y2="1717.7" stroke="#555" stroke-width="2.6"/>
<line x1="1900.4" y1="1702.7" x2="1900.4" y2="1711.2" stroke="#666" stroke-width="2.4"/>
<line x1="1964.6" y1="1702.7" x2="1964.6" y2="1717.7" stroke="#555" stroke-width="2.6"/>
<line x1="2028.8" y1="1702.7" x2="2028.8" y2="1711.2" stroke="#666" stroke-width="2.4"/>
<line x1="2093" y1="1702.7" x2="2093" y2="1717.7" stroke="#555" stroke-width="2.6"/>
<line x1="2157.2" y1="1702.7" x2="2157.2" y2="1711.2" stroke="#666" stroke-width="2.4"/>
<line x1="2221.4" y1="1702.7" x2="2221.4" y2="1717.7" stroke="#555" stroke-width="2.6"/>
<line x1="2285.6" y1="1702.7" x2="2285.6" y2="1711.2" stroke="#666" stroke-width="2.4"/>
<line x1="2349.8" y1="1702.7" x2="2349.8" y2="1717.7" stroke="#555" stroke-width="2.6"/>
<polyline points="1528,1675.7 1530,1675.7 1532,1675.7 1534,1675.7 1536,1675.7 1538,1675.7 1540,1675.7 1542,1675.7 1544,1675.7 1546,1675.7 1548,1675.7 1550,1675.7 1552,1675.7 1554,1675.7 1556,1675.7 1558,1675.7 1560,1675.7 1562,1675.7 1564,1675.7 1566,1675.7 1568,1675.7 1570,1675.7 1572,1675.7 1574,1675.7 1576,1675.7 1578,1675.7 1580,1675.7 1582,1675.7 1584,1675.7 1586,1675.7 1588,1675.7 1590,1675.7 1592,1675.6 1594,1675.6 1596,1675.6 1598,1675.6 1600,1675.6 1602,1675.6 1604,1675.6 1606,1675.6 1608,1675.6 1610,1675.6 1612,1675.6 1614,1675.5 1616,1675.5 1618,1675.5 1620,1675.5 1622,1675.5 1624,1675.5 1626,1675.4 1628,1675.4 1630,1675.4 1632,1675.4 1634,1675.3 1636,1675.3 1638,1675.3 1640,1675.2 1642,1675.2 1644,1675.1 1646,1675.1 1648,1675 1650,1675 1652,1674.9 1654,1674.9 1656,1674.8 1658,1674.7 1660,1674.6 1662,1674.6 1664,1674.5 1666,1674.4 1668,1674.3 1670,1674.2 1672,1674 1674,1673.9 1676,1673.8 1678,1673.7 1680,1673.5 1682,1673.4 1684,1673.2 1686,1673 1688,1672.9 1690,1672.7 1692,1672.5 1694,1672.3 1696,1672.1 1698,1671.8 1700,1671.6 1702,1671.4 1704,1671.1 1706,1670.8 1708,1670.5 1710,1670.2 1712,1669.9 1714,1669.6 1716,1669.3 1718,1668.9 1720,1668.6 1722,1668.2 1724,1667.8 1726,1667.4 1728,1667 1730,1666.6 1732,1666.2 1734,1665.7 1736,1665.3 1738,1664.8 1740,1664.3 1742,1663.8 1744,1663.3 1746,1662.8 1748,1662.3 1750,1661.8 1752,1661.2 1754,1660.7 1756,1660.1 1758,1659.5 1760,1659 1762,1658.4 1764,1657.8 1766,1657.2 1768,1656.6 1770,1656 1772,1655.4 1774,1654.8 1776,1654.2 1778,1653.6 1780,1653 1782,1652.4 1784,1651.8 1786,1651.2 1788,1650.6 1790,1650 1792,1649.4 1794,1648.9 1796,1648.3 1798,1647.8 1800,1647.2 1802,1646.7 1804,1646.2 1806,1645.7 1808,1645.3 1810,1644.8 1812,1644.4 1814,1644 1816,1643.6 1818,1643.2 1820,1642.9 1822,1642.5 1824,1642.2 1826,1642 1828,1641.7 1830,1641.5 1832,1641.3 1834,1641.1 1836,1641 1838,1640.9 1840,1640.8 1842,1640.7 1844,1640.7 1846,1640.7 1848,1640.7 1850,1640.8 1852,1640.9 1854,1641 1856,1641.1 1858,1641.3 1860,1641.5 1862,1641.7 1864,1642 1866,1642.2 1868,1642.5 1870,1642.9 1872,1643.2 1874,1643.6 1876,1644 1878,1644.4 1880,1644.8 1882,1645.3 1884,1645.7 1886,1646.2 1888,1646.7 1890,1647.2 1892,1647.8 1894,1648.3 1896,1648.9 1898,1649.4 1900,1650 1902,1650.6 1904,1651.2 1906,1651.8 1908,1652.3 1910,1653 1912,1653.6 1914,1654.2 1916,1654.8 1918,1655.4 1920,1656 1922,1656.6 1924,1657.2 1926,1657.8 1928,1658.4 1930,1658.9 1932,1659.5 1934,1660.1 1936,1660.7 1938,1661.2 1940,1661.8 1942,1662.3 1944,1662.8 1946,1663.3 1948,1663.8 1950,1664.3 1952,1664.8 1954,1665.3 1956,1665.7 1958,1666.2 1960,1666.6 1962,1667 1964,1667.4 1966,1667.8 1968,1668.2 1970,1668.6 1972,1668.9 1974,1669.3 1976,1669.6 1978,1669.9 1980,1670.2 1982,1670.5 1984,1670.8 1986,1671.1 1988,1671.4 1990,1671.6 1992,1671.8 1994,1672.1 1996,1672.3 1998,1672.5 2000,1672.7 2002,1672.9 2004,1673 2006,1673.2 2008,1673.4 2010,1673.5 2012,1673.7 2014,1673.8 2016,1673.9 2018,1674 2020,1674.2 2022,1674.3 2024,1674.4 2026,1674.5 2028,1674.6 2030,1674.6 2032,1674.7 2034,1674.8 2036,1674.9 2038,1674.9" fill="none" stroke="#ff00ff" stroke-width="3.3" stroke-linejoin="round"/>
<polyline points="1451,1678.2 1453,1678.1 1455,1678.1 1457,1678 1459,1677.9 1461,1677.8 1463,1677.7 1465,1677.6 1467,1677.4 1469,1677.3 1471,1677 1472.9,1676.8 1474.9,1676.5 1476.9,1676.2 1478.9,1675.8 1480.9,1675.4 1482.9,1674.9 1484.9,1674.4 1486.9,1673.8 1488.9,1673.1 1490.9,1672.4 1492.9,1671.5 1494.9,1670.6 1496.9,1669.7 1498.9,1668.6 1500.9,1667.5 1502.9,1666.2 1504.9,1664.9 1506.9,1663.5 1508.9,1662 1510.9,1660.5 1512.9,1658.9 1514.8,1657.2 1516.8,1655.5 1518.8,1653.7 1520.8,1651.9 1522.8,1650.1 1524.8,1648.3 1526.8,1646.5 1528.8,1644.8 1530.8,1643.1 1532.8,1641.4 1534.8,1639.9 1536.8,1638.4 1538.8,1637 1540.8,1635.8 1542.8,1634.7 1544.8,1633.8 1546.8,1633 1548.8,1632.4 1550.8,1632 1552.8,1631.7 1554.7,1631.7 1556.7,1631.9 1558.7,1632.2 1560.7,1632.7 1562.7,1633.4 1564.7,1634.3 1566.7,1635.3 1568.7,1636.5 1570.7,1637.8 1572.7,1639.2 1574.7,1640.7 1576.7,1642.3 1578.7,1644 1580.7,1645.8 1582.7,1647.5 1584.7,1649.3 1586.7,1651.1 1588.7,1652.9 1590.7,1654.7 1592.7,1656.4 1594.7,1658.1 1596.6,1659.8 1598.6,1661.4 1600.6,1662.9 1602.6,1664.3 1604.6,1665.6 1606.6,1666.9 1608.6,1668.1 1610.6,1669.2 1612.6,1670.2 1614.6,1671.1 1616.6,1672 1618.6,1672.8 1620.6,1673.5 1622.6,1674.1 1624.6,1674.7 1626.6,1675.2 1628.6,1675.6 1630.6,1676 1632.6,1676.4 1634.6,1676.7 1636.6,1676.9 1638.5,1677.2 1640.5,1677.4 1642.5,1677.5 1644.5,1677.7 1646.5,1677.8 1648.5,1677.9 1650.5,1678 1652.5,1678.1 1654.5,1678.1 1656.5,1678.2 1658.5,1678.2 1660.5,1678.3 1662.5,1678.3 1664.5,1678.3 1666.5,1678.3 1668.5,1678.3 1670.5,1678.4 1672.5,1678.4 1674.5,1678.4 1676.5,1678.4 1678.5,1678.4 1680.4,1678.4 1682.4,1678.4 1684.4,1678.4 1686.4,1678.4 1688.4,1678.4 1690.4,1678.4 1692.4,1678.4 1694.4,1678.4 1696.4,1678.4 1698.4,1678.4 1700.4,1678.4 1702.4,1678.4 1704.4,1678.4 1706.4,1678.4 1708.4,1678.4 1710.4,1678.4 1712.4,1678.4 1714.4,1678.4 1716.4,1678.4 1718.4,1678.4 1720.4,1678.4 1722.3,1678.4 1724.3,1678.4 1726.3,1678.4 1728.3,1678.4 1730.3,1678.4 1732.3,1678.4 1734.3,1678.4 1736.3,1678.4 1738.3,1678.4 1740.3,1678.4 1742.3,1678.4 1744.3,1678.4 1746.3,1678.4 1748.3,1678.4 1750.3,1678.4 1752.3,1678.4 1754.3,1678.4 1756.3,1678.4 1758.3,1678.4 1760.3,1678.4 1762.2,1678.4 1764.2,1678.4 1766.2,1678.4 1768.2,1678.4 1770.2,1678.4 1772.2,1678.4 1774.2,1678.4 1776.2,1678.4 1778.2,1678.4 1780.2,1678.4 1782.2,1678.4 1784.2,1678.4 1786.2,1678.4 1788.2,1678.4 1790.2,1678.4 1792.2,1678.4 1794.2,1678.4 1796.2,1678.4 1798.2,1678.4 1800.2,1678.4 1802.2,1678.4 1804.1,1678.4 1806.1,1678.4 1808.1,1678.4 1810.1,1678.4 1812.1,1678.4 1814.1,1678.4 1816.1,1678.4 1818.1,1678.4 1820.1,1678.4 1822.1,1678.4 1824.1,1678.4 1826.1,1678.4 1828.1,1678.4 1830.1,1678.4 1832.1,1678.4 1834.1,1678.4 1836.1,1678.4 1838.1,1678.4 1840.1,1678.4 1842.1,1678.4 1844.1,1678.4 1846,1678.4 1848,1678.4 1850,1678.4 1852,1678.4 1854,1678.4 1856,1678.4 1858,1678.4 1860,1678.4 1862,1678.4 1864,1678.4 1866,1678.4 1868,1678.4 1870,1678.4 1872,1678.4 1874,1678.4 1876,1678.4 1878,1678.4 1880,1678.4 1882,1678.4 1884,1678.4 1886,1678.4 1887.9,1678.4 1889.9,1678.4 1891.9,1678.4 1893.9,1678.4 1895.9,1678.4 1897.9,1678.4 1899.9,1678.4 1901.9,1678.4 1903.9,1678.4 1905.9,1678.4 1907.9,1678.4 1909.9,1678.4 1911.9,1678.4 1913.9,1678.4 1915.9,1678.4 1917.9,1678.4 1919.9,1678.4 1921.9,1678.4 1923.9,1678.4 1925.9,1678.4 1927.8,1678.4 1929.8,1678.4 1931.8,1678.4 1933.8,1678.4 1935.8,1678.4 1937.8,1678.4 1939.8,1678.4 1941.8,1678.4 1943.8,1678.4 1945.8,1678.4 1947.8,1678.4 1949.8,1678.4 1951.8,1678.4 1953.8,1678.4 1955.8,1678.4 1957.8,1678.4 1959.8,1678.4 1961.8,1678.4 1963.8,1678.4 1965.8,1678.4 1967.8,1678.4 1969.7,1678.4 1971.7,1678.4 1973.7,1678.4 1975.7,1678.4 1977.7,1678.4 1979.7,1678.4 1981.7,1678.4 1983.7,1678.4 1985.7,1678.4 1987.7,1678.4 1989.7,1678.4 1991.7,1678.4 1993.7,1678.4 1995.7,1678.4 1997.7,1678.4 1999.7,1678.4 2001.7,1678.4 2003.7,1678.4 2005.7,1678.4 2007.7,1678.4 2009.7,1678.4 2011.6,1678.4 2013.6,1678.4 2015.6,1678.4 2017.6,1678.4 2019.6,1678.4 2021.6,1678.4 2023.6,1678.4 2025.6,1678.4 2027.6,1678.4 2029.6,1678.4 2031.6,1678.4 2033.6,1678.4 2035.6,1678.4 2037.6,1678.4 2039.6,1678.4 2041.6,1678.4 2043.6,1678.4 2045.6,1678.4 2047.6,1678.4 2049.6,1678.4 2051.6,1678.4 2053.5,1678.4 2055.5,1678.4 2057.5,1678.4 2059.5,1678.4 2061.5,1678.4 2063.5,1678.4 2065.5,1678.4 2067.5,1678.4 2069.5,1678.4 2071.5,1678.4 2073.5,1678.4 2075.5,1678.4 2077.5,1678.4 2079.5,1678.4 2081.5,1678.4 2083.5,1678.4 2085.5,1678.4 2087.5,1678.4 2089.5,1678.4 2091.5,1678.4 2093.5,1678.4 2095.4,1678.4 2097.4,1678.4 2099.4,1678.4 2101.4,1678.4 2103.4,1678.4 2105.4,1678.4 2107.4,1678.4 2109.4,1678.4 2111.4,1678.4 2113.4,1678.4 2115.4,1678.4 2117.4,1678.4 2119.4,1678.4 2121.4,1678.4 2123.4,1678.4 2125.4,1678.4 2127.4,1678.4 2129.4,1678.4 2131.4,1678.4 2133.4,1678.4 2135.3,1678.4 2137.3,1678.4 2139.3,1678.4 2141.3,1678.4 2143.3,1678.4 2145.3,1678.4 2147.3,1678.4 2149.3,1678.4 2151.3,1678.4 2153.3,1678.4 2155.3,1678.4 2157.3,1678.4 2159.3,1678.4 2161.3,1678.4 2163.3,1678.4 2165.3,1678.4 2167.3,1678.4 2169.3,1678.4 2171.3,1678.4 2173.3,1678.4 2175.3,1678.4 2177.2,1678.4 2179.2,1678.4 2181.2,1678.4 2183.2,1678.4 2185.2,1678.4 2187.2,1678.4 2189.2,1678.4 2191.2,1678.4 2193.2,1678.4 2195.2,1678.4 2197.2,1678.4 2199.2,1678.4 2201.2,1678.4 2203.2,1678.4 2205.2,1678.4 2207.2,1678.4 2209.2,1678.4 2211.2,1678.4 2213.2,1678.4 2215.2,1678.4 2217.2,1678.4 2219.1,1678.4 2221.1,1678.4 2223.1,1678.4 2225.1,1678.4 2227.1,1678.4 2229.1,1678.4 2231.1,1678.4 2233.1,1678.4 2235.1,1678.4 2237.1,1678.4 2239.1,1678.4 2241.1,1678.4 2243.1,1678.4 2245.1,1678.4 2247.1,1678.4" fill="none" stroke="#000080" stroke-width="3.3" stroke-linejoin="round"/>
<polyline points="2003.1,1677.4 2005.1,1677.3 2007.1,1677.2 2009,1677.1 2011,1676.9 2013,1676.6 2015,1676.3 2016.9,1675.9 2018.9,1675.4 2020.9,1674.8 2022.9,1674 2024.8,1673 2026.8,1671.9 2028.8,1670.5 2030.8,1668.9 2032.8,1667 2034.7,1664.8 2036.7,1662.4 2038.7,1659.6 2040.7,1656.4 2042.6,1653 2044.6,1649.2 2046.6,1645.2 2048.6,1641 2050.5,1636.6 2052.5,1632.1 2054.5,1627.5 2056.5,1623 2058.4,1618.6 2060.4,1614.5 2062.4,1610.6 2064.4,1607.2 2066.3,1604.4 2068.3,1602 2070.3,1600.4 2072.3,1599.4 2074.2,1599.1 2076.2,1599.6 2078.2,1600.7 2080.2,1602.5 2082.1,1605 2084.1,1608 2086.1,1611.5 2088.1,1615.4 2090,1619.6 2092,1624 2094,1628.6 2096,1633.1 2097.9,1637.6 2099.9,1642 2101.9,1646.2 2103.9,1650.2 2105.8,1653.8 2107.8,1657.2 2109.8,1660.2 2111.8,1663 2113.7,1665.4 2115.7,1667.5 2117.7,1669.3 2119.7,1670.9 2121.6,1672.2 2123.6,1673.3 2125.6,1674.2 2127.6,1674.9 2129.5,1675.5 2131.5,1676 2133.5,1676.4 2135.5,1676.7 2137.4,1676.9 2139.4,1677.1 2141.4,1677.2 2143.4,1677.3 2145.3,1677.4 2147.3,1677.5 2149.3,1677.5 2151.3,1677.5 2153.2,1677.6 2155.2,1677.6 2157.2,1677.6" fill="none" stroke="#0000ff" stroke-width="3.3" stroke-linejoin="round"/>
<polyline points="1451,1677.2 1453,1677.2 1455,1677.2 1457,1677.2 1459,1677.2 1460.9,1677.2 1462.9,1677.2 1464.9,1677.2 1466.9,1677.2 1468.9,1677.2 1470.9,1677.2 1472.9,1677.2 1474.9,1677.2 1476.8,1677.2 1478.8,1677.2 1480.8,1677.2 1482.8,1677.2 1484.8,1677.2 1486.8,1677.2 1488.8,1677.2 1490.8,1677.2 1492.8,1677.2 1494.7,1677.2 1496.7,1677.2 1498.7,1677.2 1500.7,1677.2 1502.7,1677.2 1504.7,1677.2 1506.7,1677.2 1508.7,1677.2 1510.6,1677.2 1512.6,1677.2 1514.6,1677.2 1516.6,1677.2 1518.6,1677.2 1520.6,1677.1 1522.6,1677.1 1524.6,1677.1 1526.5,1677.1 1528.5,1677 1530.5,1677 1532.5,1676.9 1534.5,1676.9 1536.5,1676.8 1538.5,1676.7 1540.5,1676.5 1542.5,1676.3 1544.4,1676.1 1546.4,1675.8 1548.4,1675.5 1550.4,1675.1 1552.4,1674.6 1554.4,1674 1556.4,1673.3 1558.4,1672.4 1560.3,1671.4 1562.3,1670.2 1564.3,1668.8 1566.3,1667.2 1568.3,1665.3 1570.3,1663.1 1572.3,1660.6 1574.3,1657.7 1576.3,1654.5 1578.2,1650.8 1580.2,1646.6 1582.2,1642 1584.2,1636.8 1586.2,1631.2 1588.2,1624.9 1590.2,1618.1 1592.2,1610.7 1594.1,1602.7 1596.1,1594.1 1598.1,1585 1600.1,1575.3 1602.1,1565.2 1604.1,1554.6 1606.1,1543.6 1608.1,1532.4 1610.1,1520.9 1612,1509.3 1614,1497.6 1616,1486 1618,1474.7 1620,1463.6 1622,1453 1624,1442.9 1626,1433.5 1627.9,1425 1629.9,1417.3 1631.9,1410.6 1633.9,1405 1635.9,1400.6 1637.9,1397.4 1639.9,1395.5 1641.9,1394.9 1643.8,1395.6 1645.8,1397.6 1647.8,1400.8 1649.8,1405.3 1651.8,1411 1653.8,1417.7 1655.8,1425.5 1657.8,1434.1 1659.8,1443.5 1661.7,1453.6 1663.7,1464.3 1665.7,1475.4 1667.7,1486.7 1669.7,1498.3 1671.7,1510 1673.7,1521.6 1675.7,1533.1 1677.6,1544.3 1679.6,1555.3 1681.6,1565.8 1683.6,1575.9 1685.6,1585.5 1687.6,1594.6 1689.6,1603.2 1691.6,1611.1 1693.6,1618.5 1695.5,1625.3 1697.5,1631.5 1699.5,1637.2 1701.5,1642.3 1703.5,1646.9 1705.5,1651 1707.5,1654.7 1709.5,1657.9 1711.4,1660.8 1713.4,1663.3 1715.4,1665.4 1717.4,1667.3 1719.4,1668.9 1721.4,1670.3 1723.4,1671.5 1725.4,1672.5 1727.3,1673.3 1729.3,1674 1731.3,1674.6 1733.3,1675.1 1735.3,1675.5 1737.3,1675.9 1739.3,1676.1 1741.3,1676.3 1743.3,1676.5 1745.2,1676.7 1747.2,1676.8 1749.2,1676.9 1751.2,1676.9 1753.2,1677 1755.2,1677 1757.2,1677.1 1759.2,1677.1" fill="none" stroke="#008000" stroke-width="3.3" stroke-linejoin="round"/>
<polyline points="2053.3,1676.5 2055.3,1676.3 2057.3,1676 2059.3,1675.6 2061.3,1675.1 2063.3,1674.5 2065.3,1673.7 2067.3,1672.8 2069.3,1671.5 2071.3,1670 2073.3,1668.1 2075.3,1665.9 2077.3,1663.1 2079.3,1659.7 2081.3,1655.7 2083.3,1651 2085.3,1645.3 2087.3,1638.7 2089.3,1631.1 2091.3,1622.2 2093.3,1612 2095.3,1600.5 2097.3,1587.4 2099.3,1572.7 2101.3,1556.4 2103.3,1538.4 2105.3,1518.7 2107.3,1497.3 2109.3,1474.2 2111.2,1449.6 2113.2,1423.6 2115.2,1396.3 2117.2,1368 2119.2,1338.9 2121.2,1309.4 2123.2,1279.7 2125.2,1250.2 2127.2,1221.4 2129.2,1193.6 2131.2,1167.2 2133.2,1142.7 2135.2,1120.5 2137.2,1100.8 2139.2,1084.2 2141.2,1070.7 2143.2,1060.8 2145.2,1054.5 2147.2,1052 2149.2,1053.4 2151.2,1058.5 2153.2,1067.4 2155.2,1079.8 2157.2,1095.6 2159.2,1114.4 2161.2,1135.9 2163.2,1159.7 2165.2,1185.6 2167.2,1213 2169.2,1241.6 2171.2,1270.9 2173.2,1300.5 2175.2,1330.2 2177.2,1359.4 2179.2,1388 2181.2,1415.6 2183.2,1442 2185.2,1467.1 2187.2,1490.6 2189.2,1512.5 2191.1,1532.7 2193.1,1551.2 2195.1,1568.1 2197.1,1583.2 2199.1,1596.8 2201.1,1608.8 2203.1,1619.3 2205.1,1628.6 2207.1,1636.6 2209.1,1643.5 2211.1,1649.4 2213.1,1654.4 2215.1,1658.6 2217.1,1662.1 2219.1,1665.1 2221.1,1667.5 2223.1,1669.5 2225.1,1671.1 2227.1,1672.4 2229.1,1673.5 2231.1,1674.3 2233.1,1675 2235.1,1675.5 2237.1,1675.9 2239.1,1676.2 2241.1,1676.5 2243.1,1676.6 2245.1,1676.8 2247.1,1676.9" fill="none" stroke="#ff0000" stroke-width="3.3" stroke-linejoin="round"/>
<polyline points="1324.1,1677.2 1326.1,1677.2 1328.1,1677.2 1330.1,1677.2 1332.1,1677.2 1334.1,1677.2 1336.1,1677.2 1338.1,1677.2 1340.1,1677.2 1342.1,1677.2 1344.1,1677.2 1346.1,1677.2 1348.1,1677.2 1350.1,1677.2 1352.1,1677.2 1354.1,1677.2 1356.1,1677.2 1358.1,1677.2 1360.1,1677.2 1362.1,1677.2 1364.1,1677.2 1366.1,1677.2 1368.1,1677.2 1370.1,1677.2 1372.1,1677.2 1374.1,1677.2 1376.1,1677.2 1378.1,1677.2 1380.1,1677.2 1382.1,1677.2 1384.1,1677.2 1386.1,1677.2 1388.1,1677.2 1390.1,1677.2 1392.1,1677.2 1394.1,1677.2 1396.1,1677.2 1398.1,1677.2 1400.1,1677.2 1402.1,1677.2 1404.1,1677.2 1406.1,1677.2 1408.1,1677.2 1410.1,1677.2 1412.1,1677.2 1414.1,1677.2 1416.1,1677.2 1418.1,1677.2 1420.1,1677.2 1422.1,1677.2 1424.1,1677.2 1426.1,1677.2 1428.1,1677.2 1430.1,1677.2 1432.1,1677.2 1434.1,1677.2 1436.1,1677.2 1438.1,1677.2 1440.1,1677.1 1442.1,1677.1 1444.1,1677.1 1446.1,1677.1 1448.1,1677.1 1450.1,1677 1452.1,1677 1454.1,1676.9 1456.1,1676.9 1458.1,1676.8 1460.1,1676.7 1462.1,1676.6 1464.1,1676.5 1466.1,1676.3 1468.1,1676.1 1470.1,1675.9 1472.1,1675.7 1474.1,1675.4 1476.1,1675.1 1478.1,1674.8 1480.1,1674.4 1482.1,1673.9 1484.1,1673.4 1486.1,1672.8 1488.1,1672.2 1490.1,1671.5 1492.1,1670.7 1494.1,1669.8 1496,1668.9 1498,1667.9 1500,1666.7 1502,1665.5 1504,1664.3 1506,1662.9 1508,1661.4 1510,1659.9 1512,1658.3 1514,1656.7 1516,1655 1518,1653.2 1520,1651.4 1522,1649.6 1524,1647.8 1526,1645.9 1528,1644.1 1530,1642.3 1532,1640.6 1534,1638.9 1536,1637.3 1538,1635.8 1540,1634.4 1542,1633.1 1544,1631.9 1546,1630.8 1548,1629.8 1550,1628.9 1552,1628.1 1554,1627.4 1556,1626.8 1558,1626.2 1560,1625.7 1562,1625.2 1564,1624.6 1566,1624 1568,1623.2 1570,1622.3 1572,1621.2 1574,1619.9 1576,1618.2 1578,1616.2 1580,1613.8 1582,1611 1584,1607.6 1586,1603.8 1588,1599.3 1590,1594.3 1592,1588.6 1594,1582.3 1596,1575.4 1598,1567.9 1600,1559.7 1602,1551 1604,1541.7 1606,1532 1608,1521.9 1610,1511.4 1612,1500.8 1614,1490 1616,1479.2 1618,1468.6 1620,1458.2 1622,1448.1 1624,1438.6 1626,1429.7 1628,1421.5 1630,1414.2 1632,1407.9 1634,1402.6 1636,1398.5 1638,1395.5 1640,1393.9 1642,1393.5 1644,1394.4 1646,1396.6 1648,1400 1650,1404.7 1652,1410.5 1654,1417.4 1656,1425.2 1658,1434 1660,1443.5 1662,1453.7 1664,1464.4 1666,1475.5 1668,1486.9 1670,1498.5 1672,1510.1 1674,1521.7 1676,1533.1 1678,1544.2 1680,1555 1682,1565.4 1684,1575.3 1686,1584.7 1688,1593.6 1690,1601.9 1692,1609.6 1694,1616.6 1696,1623.1 1698,1629 1700,1634.3 1702,1639.1 1704,1643.4 1706,1647.1 1708,1650.4 1710,1653.3 1712,1655.7 1714,1657.8 1716,1659.6 1718,1661.1 1720,1662.3 1722,1663.2 1724,1664 1726,1664.5 1728,1664.9 1730,1665.2 1732,1665.3 1734,1665.3 1736,1665.2 1738,1665.1 1740,1664.9 1742,1664.6 1744,1664.2 1746,1663.8 1748,1663.4 1750,1663 1752,1662.5 1754,1662 1756,1661.5 1758,1660.9 1760,1660.4 1762,1659.8 1764,1659.2 1766,1658.7 1768,1658.1 1770,1657.5 1772,1656.9 1774,1656.3 1776,1655.7 1778,1655.1 1780,1654.5 1782,1653.9 1784,1653.3 1786,1652.7 1788,1652.1 1790,1651.5 1792,1650.9 1794,1650.4 1796,1649.8 1798,1649.3 1800,1648.7 1802,1648.2 1804,1647.7 1806,1647.2 1808,1646.8 1810,1646.3 1812,1645.9 1814,1645.5 1816,1645.1 1818,1644.7 1820,1644.4 1822,1644 1824,1643.7 1826,1643.5 1828,1643.2 1830,1643 1832,1642.8 1834,1642.6 1836,1642.5 1837.9,1642.4 1839.9,1642.3 1841.9,1642.2 1843.9,1642.2 1845.9,1642.2 1847.9,1642.2 1849.9,1642.3 1851.9,1642.4 1853.9,1642.5 1855.9,1642.6 1857.9,1642.8 1859.9,1643 1861.9,1643.2 1863.9,1643.5 1865.9,1643.7 1867.9,1644 1869.9,1644.4 1871.9,1644.7 1873.9,1645.1 1875.9,1645.5 1877.9,1645.9 1879.9,1646.3 1881.9,1646.7 1883.9,1647.2 1885.9,1647.7 1887.9,1648.2 1889.9,1648.7 1891.9,1649.2 1893.9,1649.8 1895.9,1650.3 1897.9,1650.9 1899.9,1651.5 1901.9,1652.1 1903.9,1652.6 1905.9,1653.2 1907.9,1653.8 1909.9,1654.4 1911.9,1655 1913.9,1655.6 1915.9,1656.3 1917.9,1656.9 1919.9,1657.5 1921.9,1658.1 1923.9,1658.7 1925.9,1659.3 1927.9,1659.8 1929.9,1660.4 1931.9,1661 1933.9,1661.6 1935.9,1662.1 1937.9,1662.7 1939.9,1663.2 1941.9,1663.8 1943.9,1664.3 1945.9,1664.8 1947.9,1665.3 1949.9,1665.8 1951.9,1666.3 1953.9,1666.8 1955.9,1667.2 1957.9,1667.7 1959.9,1668.1 1961.9,1668.5 1963.9,1668.9 1965.9,1669.3 1967.9,1669.7 1969.9,1670.1 1971.9,1670.4 1973.9,1670.8 1975.9,1671.1 1977.9,1671.4 1979.9,1671.7 1981.9,1672 1983.9,1672.3 1985.9,1672.6 1987.9,1672.8 1989.9,1673.1 1991.9,1673.3 1993.9,1673.5 1995.9,1673.7 1997.9,1673.9 1999.9,1674.1 2001.9,1674.2 2003.9,1674.3 2005.9,1674.4 2007.9,1674.4 2009.9,1674.4 2011.9,1674.3 2013.9,1674.2 2015.9,1674 2017.9,1673.6 2019.9,1673.2 2021.9,1672.6 2023.9,1671.8 2025.9,1670.8 2027.9,1669.6 2029.9,1668.2 2031.9,1666.5 2033.9,1664.5 2035.9,1662.1 2037.9,1659.5 2039.9,1656.5 2041.9,1653.1 2043.9,1649.4 2045.9,1645.5 2047.9,1641.2 2049.9,1636.7 2051.9,1632.1 2053.9,1627.3 2055.9,1622.5 2057.9,1617.7 2059.9,1613.1 2061.9,1608.7 2063.9,1604.5 2065.9,1600.6 2067.9,1597.1 2069.9,1594 2071.9,1591.2 2073.9,1588.8 2075.9,1586.8 2077.9,1584.9 2079.9,1583.1 2081.9,1581.3 2083.9,1579.3 2085.9,1576.9 2087.9,1573.9 2089.9,1570.1 2091.9,1565.3 2093.9,1559.3 2095.9,1551.9 2097.9,1542.9 2099.9,1532.2 2101.9,1519.6 2103.9,1505.1 2105.9,1488.5 2107.9,1470 2109.9,1449.5 2111.9,1427.2 2113.9,1403.1 2115.9,1377.6 2117.9,1350.8 2119.9,1323 2121.9,1294.7 2123.9,1266.1 2125.9,1237.7 2127.9,1209.8 2129.9,1183 2131.9,1157.6 2133.9,1134.1 2135.9,1113 2137.9,1094.5 2139.9,1079 2141.9,1066.8 2143.9,1058.1 2145.9,1053.1 2147.9,1051.9 2149.9,1054.6 2151.9,1061 2153.9,1071.1 2155.9,1084.7 2157.9,1101.5 2159.9,1121.2 2161.9,1143.6 2163.9,1168.2 2165.9,1194.7 2167.9,1222.5 2169.9,1251.4 2171.9,1280.9 2173.9,1310.6 2175.9,1340.2 2177.8,1369.3 2179.8,1397.6 2181.8,1424.8 2183.8,1450.8 2185.8,1475.4 2187.8,1498.4 2189.8,1519.7 2191.8,1539.4 2193.8,1557.3 2195.8,1573.6 2197.8,1588.2 2199.8,1601.2 2201.8,1612.7 2203.8,1622.8 2205.8,1631.6 2207.8,1639.2 2209.8,1645.7 2211.8,1651.3 2213.8,1656 2215.8,1660 2217.8,1663.3 2219.8,1666 2221.8,1668.3 2223.8,1670.1 2225.8,1671.6 2227.8,1672.8 2229.8,1673.8 2231.8,1674.6 2233.8,1675.2 2235.8,1675.6 2237.8,1676 2239.8,1676.3 2241.8,1676.5 2243.8,1676.7 2245.8,1676.8 2247.8,1676.9 2249.8,1677 2251.8,1677.1 2253.8,1677.1 2255.8,1677.1 2257.8,1677.1 2259.8,1677.2 2261.8,1677.2 2263.8,1677.2 2265.8,1677.2 2267.8,1677.2 2269.8,1677.2 2271.8,1677.2 2273.8,1677.2 2275.8,1677.2 2277.8,1677.2 2279.8,1677.2 2281.8,1677.2 2283.8,1677.2 2285.8,1677.2 2287.8,1677.2 2289.8,1677.2 2291.8,1677.2 2293.8,1677.2 2295.8,1677.2 2297.8,1677.2 2299.8,1677.2 2301.8,1677.2 2303.8,1677.2 2305.8,1677.2 2307.8,1677.2 2309.8,1677.2 2311.8,1677.2 2313.8,1677.2 2315.8,1677.2 2317.8,1677.2 2319.8,1677.2 2321.8,1677.2 2323.8,1677.2 2325.8,1677.2 2327.8,1677.2 2329.8,1677.2 2331.8,1677.2 2333.8,1677.2 2335.8,1677.2 2337.8,1677.2 2339.8,1677.2 2341.8,1677.2 2343.8,1677.2 2345.8,1677.2 2347.8,1677.2" fill="none" stroke="#960000" stroke-width="3.5" stroke-linejoin="round"/>
<line x1="127.8" y1="1853.8" x2="127.8" y2="2606.5" stroke="#999" stroke-width="2.8"/>
<line x1="1150.8" y1="1853.8" x2="1150.8" y2="2606.5" stroke="#333" stroke-width="2.8"/>
<line x1="127.8" y1="1855.2" x2="1150.8" y2="1855.2" stroke="#555" stroke-width="2.8"/>
<line x1="127.8" y1="2605.1" x2="1150.8" y2="2605.1" stroke="#999" stroke-width="2.8"/>
<line x1="127.8" y1="2605.1" x2="127.8" y2="2620.1" stroke="#555" stroke-width="2.6"/>
<line x1="191.7" y1="2605.1" x2="191.7" y2="2613.6" stroke="#666" stroke-width="2.4"/>
<line x1="255.7" y1="2605.1" x2="255.7" y2="2620.1" stroke="#555" stroke-width="2.6"/>
<line x1="319.6" y1="2605.1" x2="319.6" y2="2613.6" stroke="#666" stroke-width="2.4"/>
<line x1="383.6" y1="2605.1" x2="383.6" y2="2620.1" stroke="#555" stroke-width="2.6"/>
<line x1="447.5" y1="2605.1" x2="447.5" y2="2613.6" stroke="#666" stroke-width="2.4"/>
<line x1="511.4" y1="2605.1" x2="511.4" y2="2620.1" stroke="#555" stroke-width="2.6"/>
<line x1="575.4" y1="2605.1" x2="575.4" y2="2613.6" stroke="#666" stroke-width="2.4"/>
<line x1="639.3" y1="2605.1" x2="639.3" y2="2620.1" stroke="#555" stroke-width="2.6"/>
<line x1="703.2" y1="2605.1" x2="703.2" y2="2613.6" stroke="#666" stroke-width="2.4"/>
<line x1="767.2" y1="2605.1" x2="767.2" y2="2620.1" stroke="#555" stroke-width="2.6"/>
<line x1="831.1" y1="2605.1" x2="831.1" y2="2613.6" stroke="#666" stroke-width="2.4"/>
<line x1="895" y1="2605.1" x2="895" y2="2620.1" stroke="#555" stroke-width="2.6"/>
<line x1="959" y1="2605.1" x2="959" y2="2613.6" stroke="#666" stroke-width="2.4"/>
<line x1="1022.9" y1="2605.1" x2="1022.9" y2="2620.1" stroke="#555" stroke-width="2.6"/>
<line x1="1086.9" y1="2605.1" x2="1086.9" y2="2613.6" stroke="#666" stroke-width="2.4"/>
<line x1="1150.8" y1="2605.1" x2="1150.8" y2="2620.1" stroke="#555" stroke-width="2.6"/>
<polyline points="332.4,2581.5 334.4,2581.4 336.4,2581.4 338.4,2581.4 340.4,2581.3 342.4,2581.3 344.4,2581.2 346.4,2581.2 348.4,2581.2 350.4,2581.1 352.4,2581.1 354.3,2581 356.3,2580.9 358.3,2580.9 360.3,2580.8 362.3,2580.8 364.3,2580.7 366.3,2580.6 368.3,2580.6 370.3,2580.5 372.3,2580.4 374.3,2580.3 376.3,2580.3 378.3,2580.2 380.3,2580.1 382.3,2580 384.3,2579.9 386.3,2579.8 388.3,2579.7 390.3,2579.6 392.3,2579.5 394.3,2579.3 396.2,2579.2 398.2,2579.1 400.2,2579 402.2,2578.8 404.2,2578.7 406.2,2578.5 408.2,2578.4 410.2,2578.2 412.2,2578.1 414.2,2577.9 416.2,2577.7 418.2,2577.6 420.2,2577.4 422.2,2577.2 424.2,2577 426.2,2576.8 428.2,2576.6 430.2,2576.4 432.2,2576.2 434.2,2576 436.2,2575.7 438.1,2575.5 440.1,2575.3 442.1,2575 444.1,2574.8 446.1,2574.5 448.1,2574.2 450.1,2574 452.1,2573.7 454.1,2573.4 456.1,2573.1 458.1,2572.8 460.1,2572.5 462.1,2572.2 464.1,2571.9 466.1,2571.6 468.1,2571.3 470.1,2571 472.1,2570.6 474.1,2570.3 476.1,2569.9 478.1,2569.6 480,2569.2 482,2568.9 484,2568.5 486,2568.1 488,2567.8 490,2567.4 492,2567 494,2566.6 496,2566.2 498,2565.8 500,2565.5 502,2565.1 504,2564.7 506,2564.3 508,2563.8 510,2563.4 512,2563 514,2562.6 516,2562.2 518,2561.8 520,2561.4 521.9,2561 523.9,2560.6 525.9,2560.2 527.9,2559.7 529.9,2559.3 531.9,2558.9 533.9,2558.5 535.9,2558.1 537.9,2557.7 539.9,2557.3 541.9,2556.9 543.9,2556.5 545.9,2556.2 547.9,2555.8 549.9,2555.4 551.9,2555 553.9,2554.7 555.9,2554.3 557.9,2554 559.9,2553.6 561.8,2553.3 563.8,2553 565.8,2552.6 567.8,2552.3 569.8,2552 571.8,2551.7 573.8,2551.4 575.8,2551.2 577.8,2550.9 579.8,2550.6 581.8,2550.4 583.8,2550.2 585.8,2549.9 587.8,2549.7 589.8,2549.5 591.8,2549.3 593.8,2549.1 595.8,2549 597.8,2548.8 599.8,2548.7 601.8,2548.6 603.7,2548.4 605.7,2548.3 607.7,2548.3 609.7,2548.2 611.7,2548.1 613.7,2548.1 615.7,2548 617.7,2548 619.7,2548 621.7,2548 623.7,2548 625.7,2548.1 627.7,2548.1 629.7,2548.2 631.7,2548.2 633.7,2548.3 635.7,2548.4 637.7,2548.5 639.7,2548.7 641.7,2548.8 643.7,2548.9 645.6,2549.1 647.6,2549.3 649.6,2549.5 651.6,2549.7 653.6,2549.9 655.6,2550.1 657.6,2550.3 659.6,2550.6 661.6,2550.8 663.6,2551.1 665.6,2551.4 667.6,2551.6 669.6,2551.9 671.6,2552.2 673.6,2552.5 675.6,2552.9 677.6,2553.2 679.6,2553.5 681.6,2553.9 683.6,2554.2 685.6,2554.6 687.5,2554.9 689.5,2555.3 691.5,2555.7 693.5,2556.1 695.5,2556.4 697.5,2556.8 699.5,2557.2 701.5,2557.6 703.5,2558 705.5,2558.4 707.5,2558.8 709.5,2559.2 711.5,2559.6 713.5,2560 715.5,2560.4 717.5,2560.9 719.5,2561.3 721.5,2561.7 723.5,2562.1 725.5,2562.5 727.5,2562.9 729.4,2563.3 731.4,2563.7 733.4,2564.1 735.4,2564.5 737.4,2564.9 739.4,2565.3 741.4,2565.7 743.4,2566.1 745.4,2566.5 747.4,2566.9 749.4,2567.3 751.4,2567.7 753.4,2568 755.4,2568.4 757.4,2568.8 759.4,2569.1 761.4,2569.5 763.4,2569.8 765.4,2570.2 767.4,2570.5 769.4,2570.9 771.3,2571.2 773.3,2571.5 775.3,2571.8 777.3,2572.1 779.3,2572.4 781.3,2572.7 783.3,2573 785.3,2573.3 787.3,2573.6 789.3,2573.9 791.3,2574.2 793.3,2574.4 795.3,2574.7 797.3,2574.9 799.3,2575.2 801.3,2575.4 803.3,2575.7 805.3,2575.9 807.3,2576.1 809.3,2576.3 811.3,2576.5 813.2,2576.7 815.2,2576.9 817.2,2577.1 819.2,2577.3 821.2,2577.5 823.2,2577.7 825.2,2577.9 827.2,2578 829.2,2578.2 831.2,2578.3 833.2,2578.5 835.2,2578.6 837.2,2578.8 839.2,2578.9 841.2,2579.1 843.2,2579.2 845.2,2579.3 847.2,2579.4 849.2,2579.5 851.2,2579.6 853.2,2579.8 855.1,2579.9 857.1,2580 859.1,2580.1 861.1,2580.1 863.1,2580.2 865.1,2580.3 867.1,2580.4 869.1,2580.5 871.1,2580.5 873.1,2580.6 875.1,2580.7 877.1,2580.8 879.1,2580.8 881.1,2580.9 883.1,2580.9 885.1,2581 887.1,2581 889.1,2581.1 891.1,2581.1 893.1,2581.2 895,2581.2" fill="none" stroke="#ff00ff" stroke-width="3.3" stroke-linejoin="round"/>
<polyline points="253.7,2584 255.7,2583.9 257.7,2583.7 259.7,2583.5 261.7,2583.3 263.7,2583.1 265.6,2582.9 267.6,2582.6 269.6,2582.3 271.6,2581.9 273.6,2581.5 275.6,2581 277.6,2580.5 279.6,2579.9 281.6,2579.3 283.6,2578.6 285.6,2577.8 287.6,2577 289.6,2576.1 291.6,2575.1 293.6,2574 295.6,2572.9 297.6,2571.6 299.6,2570.3 301.6,2568.9 303.6,2567.5 305.6,2565.9 307.6,2564.3 309.6,2562.6 311.5,2560.8 313.5,2558.9 315.5,2557.1 317.5,2555.1 319.5,2553.2 321.5,2551.2 323.5,2549.2 325.5,2547.2 327.5,2545.2 329.5,2543.2 331.5,2541.3 333.5,2539.4 335.5,2537.6 337.5,2535.8 339.5,2534.2 341.5,2532.7 343.5,2531.3 345.5,2530 347.5,2528.9 349.5,2528 351.5,2527.2 353.5,2526.6 355.4,2526.1 357.4,2525.9 359.4,2525.8 361.4,2525.9 363.4,2526.2 365.4,2526.7 367.4,2527.4 369.4,2528.2 371.4,2529.2 373.4,2530.3 375.4,2531.6 377.4,2533.1 379.4,2534.6 381.4,2536.3 383.4,2538 385.4,2539.8 387.4,2541.7 389.4,2543.7 391.4,2545.6 393.4,2547.6 395.4,2549.6 397.4,2551.6 399.4,2553.6 401.3,2555.6 403.3,2557.5 405.3,2559.4 407.3,2561.2 409.3,2563 411.3,2564.7 413.3,2566.3 415.3,2567.8 417.3,2569.3 419.3,2570.7 421.3,2571.9 423.3,2573.2 425.3,2574.3 427.3,2575.3 429.3,2576.3 431.3,2577.2 433.3,2578 435.3,2578.8 437.3,2579.5 439.3,2580.1 441.3,2580.6 443.3,2581.1 445.2,2581.6 447.2,2582 449.2,2582.3 451.2,2582.7 453.2,2582.9 455.2,2583.2 457.2,2583.4 459.2,2583.6 461.2,2583.8 463.2,2583.9 465.2,2584 467.2,2584.1 469.2,2584.2 471.2,2584.3 473.2,2584.4 475.2,2584.4 477.2,2584.5 479.2,2584.5 481.2,2584.5 483.2,2584.6 485.2,2584.6 487.2,2584.6 489.1,2584.6 491.1,2584.6 493.1,2584.7 495.1,2584.7 497.1,2584.7 499.1,2584.7 501.1,2584.7 503.1,2584.7 505.1,2584.7 507.1,2584.7 509.1,2584.7 511.1,2584.7 513.1,2584.7 515.1,2584.7 517.1,2584.7 519.1,2584.7 521.1,2584.7 523.1,2584.7 525.1,2584.7 527.1,2584.7 529.1,2584.7 531.1,2584.7 533.1,2584.7 535,2584.7 537,2584.7 539,2584.7 541,2584.7 543,2584.7 545,2584.7 547,2584.7 549,2584.7 551,2584.7 553,2584.7 555,2584.7 557,2584.7 559,2584.7 561,2584.7 563,2584.7 565,2584.7 567,2584.7 569,2584.7 571,2584.7 573,2584.7 575,2584.7 577,2584.7 578.9,2584.7 580.9,2584.7 582.9,2584.7 584.9,2584.7 586.9,2584.7 588.9,2584.7 590.9,2584.7 592.9,2584.7 594.9,2584.7 596.9,2584.7 598.9,2584.7 600.9,2584.7 602.9,2584.7 604.9,2584.7 606.9,2584.7 608.9,2584.7 610.9,2584.7 612.9,2584.7 614.9,2584.7 616.9,2584.7 618.9,2584.7 620.9,2584.7 622.9,2584.7 624.8,2584.7 626.8,2584.7 628.8,2584.7 630.8,2584.7 632.8,2584.7 634.8,2584.7 636.8,2584.7 638.8,2584.7 640.8,2584.7 642.8,2584.7 644.8,2584.7 646.8,2584.7 648.8,2584.7 650.8,2584.7 652.8,2584.7 654.8,2584.7 656.8,2584.7 658.8,2584.7 660.8,2584.7 662.8,2584.7 664.8,2584.7 666.8,2584.7 668.7,2584.7 670.7,2584.7 672.7,2584.7 674.7,2584.7 676.7,2584.7 678.7,2584.7 680.7,2584.7 682.7,2584.7 684.7,2584.7 686.7,2584.7 688.7,2584.7 690.7,2584.7 692.7,2584.7 694.7,2584.7 696.7,2584.7 698.7,2584.7 700.7,2584.7 702.7,2584.7 704.7,2584.7 706.7,2584.7 708.7,2584.7 710.7,2584.7 712.7,2584.7 714.6,2584.7 716.6,2584.7 718.6,2584.7 720.6,2584.7 722.6,2584.7 724.6,2584.7 726.6,2584.7 728.6,2584.7 730.6,2584.7 732.6,2584.7 734.6,2584.7 736.6,2584.7 738.6,2584.7 740.6,2584.7 742.6,2584.7 744.6,2584.7 746.6,2584.7 748.6,2584.7 750.6,2584.7 752.6,2584.7 754.6,2584.7 756.6,2584.7 758.5,2584.7 760.5,2584.7 762.5,2584.7 764.5,2584.7 766.5,2584.7 768.5,2584.7 770.5,2584.7 772.5,2584.7 774.5,2584.7 776.5,2584.7 778.5,2584.7 780.5,2584.7 782.5,2584.7 784.5,2584.7 786.5,2584.7 788.5,2584.7 790.5,2584.7 792.5,2584.7 794.5,2584.7 796.5,2584.7 798.5,2584.7 800.5,2584.7 802.5,2584.7 804.4,2584.7 806.4,2584.7 808.4,2584.7 810.4,2584.7 812.4,2584.7 814.4,2584.7 816.4,2584.7 818.4,2584.7 820.4,2584.7 822.4,2584.7 824.4,2584.7 826.4,2584.7 828.4,2584.7 830.4,2584.7 832.4,2584.7 834.4,2584.7 836.4,2584.7 838.4,2584.7 840.4,2584.7 842.4,2584.7 844.4,2584.7 846.4,2584.7 848.3,2584.7 850.3,2584.7 852.3,2584.7 854.3,2584.7 856.3,2584.7 858.3,2584.7 860.3,2584.7 862.3,2584.7 864.3,2584.7 866.3,2584.7 868.3,2584.7 870.3,2584.7 872.3,2584.7 874.3,2584.7 876.3,2584.7 878.3,2584.7 880.3,2584.7 882.3,2584.7 884.3,2584.7 886.3,2584.7 888.3,2584.7 890.3,2584.7 892.3,2584.7 894.2,2584.7 896.2,2584.7 898.2,2584.7 900.2,2584.7 902.2,2584.7 904.2,2584.7 906.2,2584.7 908.2,2584.7 910.2,2584.7 912.2,2584.7 914.2,2584.7 916.2,2584.7 918.2,2584.7 920.2,2584.7 922.2,2584.7 924.2,2584.7 926.2,2584.7 928.2,2584.7 930.2,2584.7 932.2,2584.7 934.2,2584.7 936.2,2584.7 938.1,2584.7 940.1,2584.7 942.1,2584.7 944.1,2584.7 946.1,2584.7 948.1,2584.7 950.1,2584.7 952.1,2584.7 954.1,2584.7 956.1,2584.7 958.1,2584.7 960.1,2584.7 962.1,2584.7 964.1,2584.7 966.1,2584.7 968.1,2584.7 970.1,2584.7 972.1,2584.7 974.1,2584.7 976.1,2584.7 978.1,2584.7 980.1,2584.7 982.1,2584.7 984,2584.7 986,2584.7 988,2584.7 990,2584.7 992,2584.7 994,2584.7 996,2584.7 998,2584.7 1000,2584.7 1002,2584.7 1004,2584.7 1006,2584.7 1008,2584.7 1010,2584.7 1012,2584.7 1014,2584.7 1016,2584.7 1018,2584.7 1020,2584.7 1022,2584.7 1024,2584.7 1026,2584.7 1027.9,2584.7 1029.9,2584.7 1031.9,2584.7 1033.9,2584.7 1035.9,2584.7 1037.9,2584.7 1039.9,2584.7 1041.9,2584.7 1043.9,2584.7 1045.9,2584.7 1047.9,2584.7 1049.9,2584.7 1051.9,2584.7 1053.9,2584.7 1055.9,2584.7 1057.9,2584.7 1059.9,2584.7 1061.9,2584.7 1063.9,2584.7 1065.9,2584.7 1067.9,2584.7 1069.9,2584.7 1071.8,2584.7 1073.8,2584.7 1075.8,2584.7 1077.8,2584.7 1079.8,2584.7 1081.8,2584.7 1083.8,2584.7 1085.8,2584.7 1087.8,2584.7 1089.8,2584.7 1091.8,2584.7 1093.8,2584.7 1095.8,2584.7 1097.8,2584.7 1099.8,2584.7 1101.8,2584.7 1103.8,2584.7 1105.8,2584.7 1107.8,2584.7 1109.8,2584.7 1111.8,2584.7 1113.8,2584.7 1115.8,2584.7 1117.7,2584.7 1119.7,2584.7 1121.7,2584.7 1123.7,2584.7 1125.7,2584.7 1127.7,2584.7 1129.7,2584.7 1131.7,2584.7 1133.7,2584.7 1135.7,2584.7 1137.7,2584.7 1139.7,2584.7 1141.7,2584.7 1143.7,2584.7 1145.7,2584.7" fill="none" stroke="#000080" stroke-width="3.3" stroke-linejoin="round"/>
<polyline points="789.5,2583.2 791.5,2583.1 793.5,2582.9 795.5,2582.6 797.5,2582.3 799.5,2581.9 801.5,2581.4 803.5,2580.8 805.5,2580.1 807.5,2579.3 809.5,2578.4 811.5,2577.3 813.5,2576.1 815.5,2574.6 817.4,2572.9 819.4,2571 821.4,2568.9 823.4,2566.5 825.4,2563.9 827.4,2560.9 829.4,2557.7 831.4,2554.2 833.4,2550.4 835.4,2546.4 837.4,2542.1 839.4,2537.6 841.4,2532.8 843.4,2527.9 845.4,2522.9 847.3,2517.8 849.3,2512.7 851.3,2507.6 853.3,2502.6 855.3,2497.7 857.3,2493.1 859.3,2488.7 861.3,2484.7 863.3,2481.2 865.3,2478 867.3,2475.4 869.3,2473.4 871.3,2471.9 873.3,2471.1 875.3,2470.9 877.3,2471.3 879.2,2472.4 881.2,2474.1 883.2,2476.3 885.2,2479.1 887.2,2482.4 889.2,2486.1 891.2,2490.3 893.2,2494.7 895.2,2499.4 897.2,2504.4 899.2,2509.4 901.2,2514.5 903.2,2519.7 905.2,2524.7 907.2,2529.7 909.1,2534.6 911.1,2539.2 913.1,2543.7 915.1,2547.9 917.1,2551.8 919.1,2555.5 921.1,2558.9 923.1,2562 925.1,2564.9 927.1,2567.4 929.1,2569.7 931.1,2571.8 933.1,2573.6 935.1,2575.1 937.1,2576.5 939.1,2577.7 941,2578.8 943,2579.7 945,2580.4 947,2581 949,2581.6 951,2582 953,2582.4 955,2582.7 957,2582.9 959,2583.1" fill="none" stroke="#0000ff" stroke-width="3.3" stroke-linejoin="round"/>
<polyline points="255.7,2583.5 257.7,2583.5 259.7,2583.5 261.6,2583.5 263.6,2583.5 265.6,2583.5 267.6,2583.5 269.6,2583.5 271.6,2583.5 273.6,2583.5 275.6,2583.5 277.6,2583.5 279.5,2583.5 281.5,2583.5 283.5,2583.5 285.5,2583.5 287.5,2583.5 289.5,2583.5 291.5,2583.5 293.5,2583.5 295.5,2583.5 297.4,2583.5 299.4,2583.5 301.4,2583.5 303.4,2583.5 305.4,2583.5 307.4,2583.5 309.4,2583.5 311.4,2583.5 313.4,2583.5 315.4,2583.5 317.3,2583.5 319.3,2583.5 321.3,2583.5 323.3,2583.5 325.3,2583.5 327.3,2583.5 329.3,2583.5 331.3,2583.5 333.3,2583.5 335.2,2583.5 337.2,2583.4 339.2,2583.4 341.2,2583.4 343.2,2583.3 345.2,2583.3 347.2,2583.2 349.2,2583.1 351.2,2582.9 353.1,2582.7 355.1,2582.5 357.1,2582.2 359.1,2581.7 361.1,2581.2 363.1,2580.5 365.1,2579.6 367.1,2578.6 369.1,2577.2 371,2575.6 373,2573.6 375,2571.2 377,2568.3 379,2564.8 381,2560.7 383,2556 385,2550.5 387,2544.2 388.9,2537 390.9,2528.9 392.9,2519.8 394.9,2509.7 396.9,2498.7 398.9,2486.7 400.9,2473.8 402.9,2460.1 404.9,2445.7 406.9,2430.7 408.8,2415.2 410.8,2399.5 412.8,2383.8 414.8,2368.2 416.8,2353.2 418.8,2338.8 420.8,2325.4 422.8,2313.2 424.8,2302.4 426.7,2293.3 428.7,2286 430.7,2280.8 432.7,2277.6 434.7,2276.6 436.7,2277.8 438.7,2281.2 440.7,2286.7 442.7,2294.1 444.6,2303.4 446.6,2314.3 448.6,2326.7 450.6,2340.2 452.6,2354.6 454.6,2369.8 456.6,2385.3 458.6,2401.1 460.6,2416.8 462.5,2432.2 464.5,2447.2 466.5,2461.5 468.5,2475.2 470.5,2488 472.5,2499.9 474.5,2510.8 476.5,2520.8 478.5,2529.7 480.5,2537.8 482.4,2544.9 484.4,2551.1 486.4,2556.5 488.4,2561.2 490.4,2565.2 492.4,2568.6 494.4,2571.4 496.4,2573.8 498.4,2575.8 500.3,2577.4 502.3,2578.7 504.3,2579.7 506.3,2580.6 508.3,2581.3 510.3,2581.8 512.3,2582.2 514.3,2582.5 516.3,2582.8 518.2,2583 520.2,2583.1 522.2,2583.2 524.2,2583.3" fill="none" stroke="#008000" stroke-width="3.3" stroke-linejoin="round"/>
<polyline points="857.5,2582.8 859.5,2582.6 861.5,2582.2 863.5,2581.7 865.5,2581.1 867.5,2580.2 869.5,2579 871.5,2577.6 873.5,2575.7 875.5,2573.2 877.4,2570.1 879.4,2566.3 881.4,2561.5 883.4,2555.7 885.4,2548.5 887.4,2540 889.4,2529.7 891.4,2517.6 893.4,2503.5 895.4,2487.1 897.4,2468.4 899.4,2447.1 901.4,2423.3 903.4,2396.9 905.4,2368 907.4,2336.7 909.4,2303.2 911.4,2267.8 913.4,2230.9 915.4,2193 917.4,2154.6 919.4,2116.4 921.4,2079 923.4,2043.2 925.4,2009.7 927.4,1979.2 929.4,1952.4 931.4,1930 933.4,1912.4 935.4,1900 937.4,1893.3 939.4,1892.3 941.4,1897.1 943.4,1907.6 945.4,1923.5 947.4,1944.4 949.3,1969.8 951.3,1999.1 953.3,2031.7 955.3,2066.8 957.3,2103.7 959.3,2141.7 961.3,2180.1 963.3,2218.2 965.3,2255.5 967.3,2291.5 969.3,2325.7 971.3,2357.7 973.3,2387.5 975.3,2414.7 977.3,2439.4 979.3,2461.5 981.3,2481.1 983.3,2498.2 985.3,2513.1 987.3,2525.9 989.3,2536.7 991.3,2545.8 993.3,2553.4 995.3,2559.7 997.3,2564.8 999.3,2568.9 1001.3,2572.3 1003.3,2574.9 1005.3,2577 1007.3,2578.6 1009.3,2579.8 1011.3,2580.8 1013.3,2581.5 1015.3,2582 1017.3,2582.5 1019.3,2582.8" fill="none" stroke="#ff0000" stroke-width="3.3" stroke-linejoin="round"/>
<polyline points="129.3,2583.5 131.3,2583.5 133.3,2583.5 135.3,2583.5 137.3,2583.5 139.3,2583.5 141.3,2583.5 143.3,2583.5 145.3,2583.5 147.3,2583.5 149.3,2583.5 151.3,2583.5 153.3,2583.5 155.3,2583.5 157.3,2583.5 159.3,2583.5 161.3,2583.5 163.3,2583.5 165.3,2583.5 167.3,2583.5 169.3,2583.5 171.3,2583.5 173.3,2583.5 175.3,2583.5 177.3,2583.5 179.3,2583.5 181.3,2583.5 183.3,2583.5 185.3,2583.5 187.3,2583.5 189.3,2583.5 191.3,2583.5 193.3,2583.5 195.3,2583.5 197.3,2583.5 199.3,2583.5 201.3,2583.5 203.3,2583.5 205.3,2583.5 207.3,2583.5 209.3,2583.5 211.3,2583.5 213.3,2583.5 215.3,2583.5 217.3,2583.5 219.3,2583.5 221.3,2583.5 223.3,2583.4 225.3,2583.4 227.3,2583.4 229.3,2583.4 231.2,2583.4 233.2,2583.4 235.2,2583.3 237.2,2583.3 239.2,2583.3 241.2,2583.2 243.2,2583.2 245.2,2583.1 247.2,2583.1 249.2,2583 251.2,2582.9 253.2,2582.8 255.2,2582.6 257.2,2582.5 259.2,2582.3 261.2,2582.1 263.2,2581.9 265.2,2581.7 267.2,2581.4 269.2,2581.1 271.2,2580.7 273.2,2580.3 275.2,2579.8 277.2,2579.3 279.2,2578.7 281.2,2578.1 283.2,2577.4 285.2,2576.7 287.2,2575.8 289.2,2574.9 291.2,2573.9 293.2,2572.9 295.2,2571.7 297.2,2570.5 299.2,2569.2 301.2,2567.8 303.2,2566.3 305.2,2564.7 307.2,2563.1 309.2,2561.4 311.2,2559.6 313.2,2557.7 315.2,2555.8 317.2,2553.9 319.2,2551.9 321.2,2549.9 323.2,2547.9 325.2,2545.8 327.2,2543.8 329.2,2541.8 331.2,2539.8 333.2,2537.9 335.2,2536 337.2,2534.2 339.2,2532.5 341.2,2530.9 343.2,2529.4 345.2,2528 347.2,2526.7 349.2,2525.6 351.2,2524.6 353.2,2523.7 355.2,2522.9 357.2,2522.3 359.2,2521.7 361.2,2521.2 363.2,2520.7 365.2,2520.2 367.2,2519.7 369.2,2519 371.2,2518.3 373.2,2517.3 375.2,2516 377.2,2514.4 379.2,2512.3 381.2,2509.7 383.2,2506.6 385.2,2502.7 387.2,2498 389.2,2492.5 391.2,2486.1 393.2,2478.8 395.2,2470.4 397.2,2461.1 399.2,2450.8 401.2,2439.6 403.2,2427.5 405.2,2414.6 407.2,2401.1 409.2,2387.1 411.2,2372.8 413.2,2358.5 415.2,2344.4 417.2,2330.6 419.2,2317.5 421.2,2305.4 423.2,2294.4 425.2,2284.8 427.2,2276.9 429.2,2270.8 431.2,2266.6 433.2,2264.5 435.2,2264.6 437.1,2266.7 439.1,2271 441.1,2277.3 443.1,2285.5 445.1,2295.5 447.1,2307 449.1,2319.8 451.1,2333.7 453.1,2348.5 455.1,2363.8 457.1,2379.4 459.1,2395.1 461.1,2410.7 463.1,2425.9 465.1,2440.6 467.1,2454.6 469.1,2467.9 471.1,2480.2 473.1,2491.6 475.1,2502 477.1,2511.3 479.1,2519.7 481.1,2527.1 483.1,2533.6 485.1,2539.3 487.1,2544.1 489.1,2548.2 491.1,2551.6 493.1,2554.4 495.1,2556.7 497.1,2558.6 499.1,2560 501.1,2561.1 503.1,2561.9 505.1,2562.5 507.1,2562.9 509.1,2563.1 511.1,2563.2 513.1,2563.1 515.1,2563 517.1,2562.8 519.1,2562.6 521.1,2562.3 523.1,2562 525.1,2561.6 527.1,2561.3 529.1,2560.9 531.1,2560.5 533.1,2560.1 535.1,2559.8 537.1,2559.4 539.1,2559 541.1,2558.6 543.1,2558.2 545.1,2557.8 547.1,2557.4 549.1,2557.1 551.1,2556.7 553.1,2556.3 555.1,2556 557.1,2555.6 559.1,2555.3 561.1,2554.9 563.1,2554.6 565.1,2554.3 567.1,2553.9 569.1,2553.6 571.1,2553.3 573.1,2553 575.1,2552.8 577.1,2552.5 579.1,2552.2 581.1,2552 583.1,2551.7 585.1,2551.5 587.1,2551.3 589.1,2551.1 591.1,2550.9 593.1,2550.7 595.1,2550.5 597.1,2550.4 599.1,2550.2 601.1,2550.1 603.1,2550 605.1,2549.9 607.1,2549.8 609.1,2549.7 611.1,2549.6 613.1,2549.6 615.1,2549.5 617.1,2549.5 619.1,2549.5 621.1,2549.5 623.1,2549.5 625.1,2549.5 627.1,2549.6 629.1,2549.6 631.1,2549.7 633.1,2549.8 635.1,2549.9 637.1,2550 639,2550.1 641,2550.2 643,2550.4 645,2550.5 647,2550.7 649,2550.9 651,2551.1 653,2551.3 655,2551.5 657,2551.8 659,2552 661,2552.2 663,2552.5 665,2552.8 667,2553.1 669,2553.4 671,2553.7 673,2554 675,2554.3 677,2554.6 679,2554.9 681,2555.3 683,2555.6 685,2556 687,2556.3 689,2556.7 691,2557.1 693,2557.5 695,2557.8 697,2558.2 699,2558.6 701,2559 703,2559.4 705,2559.8 707,2560.2 709,2560.6 711,2561 713,2561.4 715,2561.9 717,2562.3 719,2562.7 721,2563.1 723,2563.5 725,2563.9 727,2564.3 729,2564.7 731,2565.1 733,2565.5 735,2565.9 737,2566.4 739,2566.8 741,2567.1 743,2567.5 745,2567.9 747,2568.3 749,2568.7 751,2569.1 753,2569.5 755,2569.8 757,2570.2 759,2570.6 761,2570.9 763,2571.3 765,2571.6 767,2571.9 769,2572.3 771,2572.6 773,2572.9 775,2573.2 777,2573.5 779,2573.7 781,2574 783,2574.2 785,2574.4 787,2574.6 789,2574.7 791,2574.8 793,2574.9 795,2574.9 797,2574.9 799,2574.7 801,2574.5 803,2574.2 805,2573.8 807,2573.2 809,2572.6 811,2571.7 813,2570.7 815,2569.5 817,2568.1 819,2566.4 821,2564.5 823,2562.4 825,2559.9 827,2557.2 829,2554.2 831,2551 833,2547.4 835,2543.5 837,2539.4 839,2535 841,2530.5 843,2525.7 844.9,2520.8 846.9,2515.8 848.9,2510.7 850.9,2505.6 852.9,2500.6 854.9,2495.6 856.9,2490.9 858.9,2486.3 860.9,2482 862.9,2477.9 864.9,2474.2 866.9,2470.8 868.9,2467.6 870.9,2464.8 872.9,2462.1 874.9,2459.6 876.9,2457.1 878.9,2454.5 880.9,2451.6 882.9,2448.2 884.9,2444.2 886.9,2439.3 888.9,2433.2 890.9,2425.7 892.9,2416.6 894.9,2405.5 896.9,2392.3 898.9,2376.8 900.9,2358.8 902.9,2338.2 904.9,2315 906.9,2289.3 908.9,2261.1 910.9,2230.9 912.9,2198.8 914.9,2165.3 916.9,2130.9 918.9,2096.3 920.9,2062.1 922.9,2029 924.9,1997.8 926.9,1969.1 928.9,1943.7 930.9,1922.2 932.9,1905.3 934.9,1893.3 936.9,1886.7 938.9,1885.6 940.9,1890.1 942.9,1900.2 944.9,1915.7 946.9,1936.2 948.9,1961.2 950.9,1990.1 952.9,2022.4 954.9,2057.4 956.9,2094.3 958.9,2132.3 960.9,2170.9 962.9,2209.3 964.9,2247 966.9,2283.4 968.9,2318.1 970.9,2350.8 972.9,2381.1 974.9,2409 976.9,2434.2 978.9,2456.9 980.9,2477.1 982.9,2494.7 984.9,2510.1 986.9,2523.3 988.9,2534.5 990.9,2544 992.9,2551.9 994.9,2558.5 996.9,2563.8 998.9,2568.1 1000.9,2571.6 1002.9,2574.4 1004.9,2576.6 1006.9,2578.3 1008.9,2579.6 1010.9,2580.6 1012.9,2581.4 1014.9,2581.9 1016.9,2582.4 1018.9,2582.7 1020.9,2582.9 1022.9,2583.1 1024.9,2583.2 1026.9,2583.3 1028.9,2583.4 1030.9,2583.4 1032.9,2583.4 1034.9,2583.5 1036.9,2583.5 1038.9,2583.5 1040.9,2583.5 1042.9,2583.5 1044.9,2583.5 1046.8,2583.5 1048.8,2583.5 1050.8,2583.5 1052.8,2583.5 1054.8,2583.5 1056.8,2583.5 1058.8,2583.5 1060.8,2583.5 1062.8,2583.5 1064.8,2583.5 1066.8,2583.5 1068.8,2583.5 1070.8,2583.5 1072.8,2583.5 1074.8,2583.5 1076.8,2583.5 1078.8,2583.5 1080.8,2583.5 1082.8,2583.5 1084.8,2583.5 1086.8,2583.5 1088.8,2583.5 1090.8,2583.5 1092.8,2583.5 1094.8,2583.5 1096.8,2583.5 1098.8,2583.5 1100.8,2583.5 1102.8,2583.5 1104.8,2583.5 1106.8,2583.5 1108.8,2583.5 1110.8,2583.5 1112.8,2583.5 1114.8,2583.5 1116.8,2583.5 1118.8,2583.5 1120.8,2583.5 1122.8,2583.5 1124.8,2583.5 1126.8,2583.5 1128.8,2583.5 1130.8,2583.5 1132.8,2583.5 1134.8,2583.5 1136.8,2583.5 1138.8,2583.5 1140.8,2583.5 1142.8,2583.5 1144.8,2583.5 1146.8,2583.5 1148.8,2583.5" fill="none" stroke="#960000" stroke-width="3.5" stroke-linejoin="round"/>
<line x1="1322.6" y1="1853.8" x2="1322.6" y2="2606.5" stroke="#555" stroke-width="2.8"/>
<line x1="2346.9" y1="1853.8" x2="2346.9" y2="2606.5" stroke="#444" stroke-width="2.8"/>
<line x1="1322.6" y1="1855.2" x2="2346.9" y2="1855.2" stroke="#555" stroke-width="2.8"/>
<line x1="1322.6" y1="2605.1" x2="2346.9" y2="2605.1" stroke="#999" stroke-width="2.8"/>
<line x1="1322.6" y1="2605.1" x2="1322.6" y2="2620.1" stroke="#555" stroke-width="2.6"/>
<line x1="1386.6" y1="2605.1" x2="1386.6" y2="2613.6" stroke="#666" stroke-width="2.4"/>
<line x1="1450.6" y1="2605.1" x2="1450.6" y2="2620.1" stroke="#555" stroke-width="2.6"/>
<line x1="1514.7" y1="2605.1" x2="1514.7" y2="2613.6" stroke="#666" stroke-width="2.4"/>
<line x1="1578.7" y1="2605.1" x2="1578.7" y2="2620.1" stroke="#555" stroke-width="2.6"/>
<line x1="1642.7" y1="2605.1" x2="1642.7" y2="2613.6" stroke="#666" stroke-width="2.4"/>
<line x1="1706.7" y1="2605.1" x2="1706.7" y2="2620.1" stroke="#555" stroke-width="2.6"/>
<line x1="1770.7" y1="2605.1" x2="1770.7" y2="2613.6" stroke="#666" stroke-width="2.4"/>
<line x1="1834.8" y1="2605.1" x2="1834.8" y2="2620.1" stroke="#555" stroke-width="2.6"/>
<line x1="1898.8" y1="2605.1" x2="1898.8" y2="2613.6" stroke="#666" stroke-width="2.4"/>
<line x1="1962.8" y1="2605.1" x2="1962.8" y2="2620.1" stroke="#555" stroke-width="2.6"/>
<line x1="2026.8" y1="2605.1" x2="2026.8" y2="2613.6" stroke="#666" stroke-width="2.4"/>
<line x1="2090.8" y1="2605.1" x2="2090.8" y2="2620.1" stroke="#555" stroke-width="2.6"/>
<line x1="2154.8" y1="2605.1" x2="2154.8" y2="2613.6" stroke="#666" stroke-width="2.4"/>
<line x1="2218.9" y1="2605.1" x2="2218.9" y2="2620.1" stroke="#555" stroke-width="2.6"/>
<line x1="2282.9" y1="2605.1" x2="2282.9" y2="2613.6" stroke="#666" stroke-width="2.4"/>
<line x1="2346.9" y1="2605.1" x2="2346.9" y2="2620.1" stroke="#555" stroke-width="2.6"/>
<polyline points="1540.3,2580.1 1542.3,2580.1 1544.2,2580.1 1546.2,2580.1 1548.2,2580.1 1550.2,2580.1 1552.2,2580.1 1554.2,2580.1 1556.2,2580.1 1558.2,2580.1 1560.2,2580.1 1562.2,2580.1 1564.2,2580.1 1566.2,2580.1 1568.2,2580.1 1570.1,2580.1 1572.1,2580.1 1574.1,2580.1 1576.1,2580.1 1578.1,2580.1 1580.1,2580.1 1582.1,2580.1 1584.1,2580.1 1586.1,2580.1 1588.1,2580.1 1590.1,2580.1 1592.1,2580.1 1594.1,2580.1 1596,2580.1 1598,2580.1 1600,2580.1 1602,2580.1 1604,2580.1 1606,2580.1 1608,2580.1 1610,2580.1 1612,2580.1 1614,2580.1 1616,2580 1618,2580 1620,2580 1621.9,2580 1623.9,2580 1625.9,2580 1627.9,2580 1629.9,2580 1631.9,2580 1633.9,2580 1635.9,2579.9 1637.9,2579.9 1639.9,2579.9 1641.9,2579.9 1643.9,2579.9 1645.9,2579.8 1647.9,2579.8 1649.8,2579.8 1651.8,2579.7 1653.8,2579.7 1655.8,2579.7 1657.8,2579.6 1659.8,2579.6 1661.8,2579.5 1663.8,2579.5 1665.8,2579.4 1667.8,2579.4 1669.8,2579.3 1671.8,2579.2 1673.8,2579.1 1675.7,2579 1677.7,2578.9 1679.7,2578.8 1681.7,2578.7 1683.7,2578.6 1685.7,2578.5 1687.7,2578.3 1689.7,2578.2 1691.7,2578 1693.7,2577.9 1695.7,2577.7 1697.7,2577.5 1699.7,2577.3 1701.6,2577.1 1703.6,2576.9 1705.6,2576.6 1707.6,2576.4 1709.6,2576.1 1711.6,2575.8 1713.6,2575.5 1715.6,2575.2 1717.6,2574.9 1719.6,2574.5 1721.6,2574.2 1723.6,2573.8 1725.6,2573.4 1727.5,2572.9 1729.5,2572.5 1731.5,2572 1733.5,2571.6 1735.5,2571.1 1737.5,2570.5 1739.5,2570 1741.5,2569.4 1743.5,2568.9 1745.5,2568.3 1747.5,2567.7 1749.5,2567 1751.5,2566.4 1753.4,2565.7 1755.4,2565 1757.4,2564.3 1759.4,2563.6 1761.4,2562.8 1763.4,2562.1 1765.4,2561.3 1767.4,2560.5 1769.4,2559.7 1771.4,2558.9 1773.4,2558.1 1775.4,2557.3 1777.4,2556.5 1779.3,2555.6 1781.3,2554.8 1783.3,2554 1785.3,2553.1 1787.3,2552.3 1789.3,2551.4 1791.3,2550.6 1793.3,2549.8 1795.3,2548.9 1797.3,2548.1 1799.3,2547.3 1801.3,2546.5 1803.3,2545.8 1805.2,2545 1807.2,2544.3 1809.2,2543.5 1811.2,2542.9 1813.2,2542.2 1815.2,2541.5 1817.2,2540.9 1819.2,2540.4 1821.2,2539.8 1823.2,2539.3 1825.2,2538.8 1827.2,2538.4 1829.2,2537.9 1831.1,2537.6 1833.1,2537.2 1835.1,2537 1837.1,2536.7 1839.1,2536.5 1841.1,2536.3 1843.1,2536.2 1845.1,2536.1 1847.1,2536.1 1849.1,2536.1 1851.1,2536.2 1853.1,2536.3 1855.1,2536.4 1857,2536.6 1859,2536.8 1861,2537.1 1863,2537.4 1865,2537.7 1867,2538.1 1869,2538.6 1871,2539 1873,2539.5 1875,2540.1 1877,2540.6 1879,2541.2 1881,2541.9 1882.9,2542.5 1884.9,2543.2 1886.9,2543.9 1888.9,2544.6 1890.9,2545.4 1892.9,2546.1 1894.9,2546.9 1896.9,2547.7 1898.9,2548.5 1900.9,2549.3 1902.9,2550.2 1904.9,2551 1906.9,2551.8 1908.8,2552.7 1910.8,2553.5 1912.8,2554.4 1914.8,2555.2 1916.8,2556 1918.8,2556.9 1920.8,2557.7 1922.8,2558.5 1924.8,2559.3 1926.8,2560.1 1928.8,2560.9 1930.8,2561.7 1932.8,2562.5 1934.7,2563.2 1936.7,2563.9 1938.7,2564.6 1940.7,2565.3 1942.7,2566 1944.7,2566.7 1946.7,2567.3 1948.7,2568 1950.7,2568.6 1952.7,2569.2 1954.7,2569.7 1956.7,2570.3 1958.7,2570.8 1960.6,2571.3 1962.6,2571.8 1964.6,2572.3 1966.6,2572.7 1968.6,2573.1 1970.6,2573.6 1972.6,2574 1974.6,2574.3 1976.6,2574.7 1978.6,2575 1980.6,2575.4 1982.6,2575.7 1984.6,2576 1986.5,2576.2 1988.5,2576.5 1990.5,2576.7 1992.5,2577 1994.5,2577.2 1996.5,2577.4 1998.5,2577.6 2000.5,2577.8 2002.5,2578 2004.5,2578.1 2006.5,2578.3 2008.5,2578.4 2010.5,2578.5 2012.4,2578.7 2014.4,2578.8 2016.4,2578.9 2018.4,2579 2020.4,2579.1 2022.4,2579.2 2024.4,2579.2 2026.4,2579.3" fill="none" stroke="#ff00ff" stroke-width="3.3" stroke-linejoin="round"/>
<polyline points="1444.3,2582.1 1446.3,2582 1448.3,2581.8 1450.3,2581.7 1452.3,2581.5 1454.3,2581.3 1456.3,2581.1 1458.3,2580.8 1460.3,2580.5 1462.3,2580.2 1464.3,2579.8 1466.3,2579.3 1468.3,2578.9 1470.3,2578.3 1472.3,2577.8 1474.3,2577.1 1476.3,2576.4 1478.3,2575.7 1480.3,2574.8 1482.3,2573.9 1484.3,2573 1486.3,2571.9 1488.3,2570.8 1490.2,2569.6 1492.2,2568.3 1494.2,2566.9 1496.2,2565.5 1498.2,2564 1500.2,2562.4 1502.2,2560.8 1504.2,2559.1 1506.2,2557.3 1508.2,2555.5 1510.2,2553.7 1512.2,2551.8 1514.2,2549.9 1516.2,2548 1518.2,2546.1 1520.2,2544.2 1522.2,2542.3 1524.2,2540.4 1526.2,2538.7 1528.2,2536.9 1530.2,2535.3 1532.2,2533.7 1534.2,2532.2 1536.2,2530.9 1538.2,2529.6 1540.2,2528.5 1542.2,2527.5 1544.2,2526.7 1546.2,2526.1 1548.2,2525.6 1550.2,2525.3 1552.2,2525.1 1554.1,2525.1 1556.1,2525.3 1558.1,2525.7 1560.1,2526.2 1562.1,2526.9 1564.1,2527.8 1566.1,2528.8 1568.1,2529.9 1570.1,2531.2 1572.1,2532.6 1574.1,2534.1 1576.1,2535.7 1578.1,2537.3 1580.1,2539.1 1582.1,2540.9 1584.1,2542.8 1586.1,2544.6 1588.1,2546.6 1590.1,2548.5 1592.1,2550.4 1594.1,2552.3 1596.1,2554.1 1598.1,2556 1600.1,2557.8 1602.1,2559.5 1604.1,2561.2 1606.1,2562.8 1608.1,2564.4 1610.1,2565.9 1612.1,2567.3 1614.1,2568.6 1616,2569.9 1618,2571.1 1620,2572.2 1622,2573.2 1624,2574.2 1626,2575 1628,2575.9 1630,2576.6 1632,2577.3 1634,2577.9 1636,2578.5 1638,2579 1640,2579.5 1642,2579.9 1644,2580.2 1646,2580.6 1648,2580.9 1650,2581.1 1652,2581.4 1654,2581.6 1656,2581.7 1658,2581.9 1660,2582 1662,2582.1 1664,2582.2 1666,2582.3 1668,2582.4 1670,2582.5 1672,2582.5 1674,2582.6 1676,2582.6 1678,2582.6 1679.9,2582.7 1681.9,2582.7 1683.9,2582.7 1685.9,2582.7 1687.9,2582.7 1689.9,2582.7 1691.9,2582.8 1693.9,2582.8 1695.9,2582.8 1697.9,2582.8 1699.9,2582.8 1701.9,2582.8 1703.9,2582.8 1705.9,2582.8 1707.9,2582.8 1709.9,2582.8 1711.9,2582.8 1713.9,2582.8 1715.9,2582.8 1717.9,2582.8 1719.9,2582.8 1721.9,2582.8 1723.9,2582.8 1725.9,2582.8 1727.9,2582.8 1729.9,2582.8 1731.9,2582.8 1733.9,2582.8 1735.9,2582.8 1737.9,2582.8 1739.9,2582.8 1741.9,2582.8 1743.8,2582.8 1745.8,2582.8 1747.8,2582.8 1749.8,2582.8 1751.8,2582.8 1753.8,2582.8 1755.8,2582.8 1757.8,2582.8 1759.8,2582.8 1761.8,2582.8 1763.8,2582.8 1765.8,2582.8 1767.8,2582.8 1769.8,2582.8 1771.8,2582.8 1773.8,2582.8 1775.8,2582.8 1777.8,2582.8 1779.8,2582.8 1781.8,2582.8 1783.8,2582.8 1785.8,2582.8 1787.8,2582.8 1789.8,2582.8 1791.8,2582.8 1793.8,2582.8 1795.8,2582.8 1797.8,2582.8 1799.8,2582.8 1801.8,2582.8 1803.8,2582.8 1805.8,2582.8 1807.7,2582.8 1809.7,2582.8 1811.7,2582.8 1813.7,2582.8 1815.7,2582.8 1817.7,2582.8 1819.7,2582.8 1821.7,2582.8 1823.7,2582.8 1825.7,2582.8 1827.7,2582.8 1829.7,2582.8 1831.7,2582.8 1833.7,2582.8 1835.7,2582.8 1837.7,2582.8 1839.7,2582.8 1841.7,2582.8 1843.7,2582.8 1845.7,2582.8 1847.7,2582.8 1849.7,2582.8 1851.7,2582.8 1853.7,2582.8 1855.7,2582.8 1857.7,2582.8 1859.7,2582.8 1861.7,2582.8 1863.7,2582.8 1865.7,2582.8 1867.7,2582.8 1869.7,2582.8 1871.6,2582.8 1873.6,2582.8 1875.6,2582.8 1877.6,2582.8 1879.6,2582.8 1881.6,2582.8 1883.6,2582.8 1885.6,2582.8 1887.6,2582.8 1889.6,2582.8 1891.6,2582.8 1893.6,2582.8 1895.6,2582.8 1897.6,2582.8 1899.6,2582.8 1901.6,2582.8 1903.6,2582.8 1905.6,2582.8 1907.6,2582.8 1909.6,2582.8 1911.6,2582.8 1913.6,2582.8 1915.6,2582.8 1917.6,2582.8 1919.6,2582.8 1921.6,2582.8 1923.6,2582.8 1925.6,2582.8 1927.6,2582.8 1929.6,2582.8 1931.6,2582.8 1933.6,2582.8 1935.5,2582.8 1937.5,2582.8 1939.5,2582.8 1941.5,2582.8 1943.5,2582.8 1945.5,2582.8 1947.5,2582.8 1949.5,2582.8 1951.5,2582.8 1953.5,2582.8 1955.5,2582.8 1957.5,2582.8 1959.5,2582.8 1961.5,2582.8 1963.5,2582.8 1965.5,2582.8 1967.5,2582.8 1969.5,2582.8 1971.5,2582.8 1973.5,2582.8 1975.5,2582.8 1977.5,2582.8 1979.5,2582.8 1981.5,2582.8 1983.5,2582.8 1985.5,2582.8 1987.5,2582.8 1989.5,2582.8 1991.5,2582.8 1993.5,2582.8 1995.5,2582.8 1997.4,2582.8 1999.4,2582.8 2001.4,2582.8 2003.4,2582.8 2005.4,2582.8 2007.4,2582.8 2009.4,2582.8 2011.4,2582.8 2013.4,2582.8 2015.4,2582.8 2017.4,2582.8 2019.4,2582.8 2021.4,2582.8 2023.4,2582.8 2025.4,2582.8 2027.4,2582.8 2029.4,2582.8 2031.4,2582.8 2033.4,2582.8 2035.4,2582.8 2037.4,2582.8 2039.4,2582.8 2041.4,2582.8 2043.4,2582.8 2045.4,2582.8 2047.4,2582.8 2049.4,2582.8 2051.4,2582.8 2053.4,2582.8 2055.4,2582.8 2057.4,2582.8 2059.4,2582.8 2061.3,2582.8 2063.3,2582.8 2065.3,2582.8 2067.3,2582.8 2069.3,2582.8 2071.3,2582.8 2073.3,2582.8 2075.3,2582.8 2077.3,2582.8 2079.3,2582.8 2081.3,2582.8 2083.3,2582.8 2085.3,2582.8 2087.3,2582.8 2089.3,2582.8 2091.3,2582.8 2093.3,2582.8 2095.3,2582.8 2097.3,2582.8 2099.3,2582.8 2101.3,2582.8 2103.3,2582.8 2105.3,2582.8 2107.3,2582.8 2109.3,2582.8 2111.3,2582.8 2113.3,2582.8 2115.3,2582.8 2117.3,2582.8 2119.3,2582.8 2121.3,2582.8 2123.3,2582.8 2125.2,2582.8 2127.2,2582.8 2129.2,2582.8 2131.2,2582.8 2133.2,2582.8 2135.2,2582.8 2137.2,2582.8 2139.2,2582.8 2141.2,2582.8 2143.2,2582.8 2145.2,2582.8 2147.2,2582.8 2149.2,2582.8 2151.2,2582.8 2153.2,2582.8 2155.2,2582.8 2157.2,2582.8 2159.2,2582.8 2161.2,2582.8 2163.2,2582.8 2165.2,2582.8 2167.2,2582.8 2169.2,2582.8 2171.2,2582.8 2173.2,2582.8 2175.2,2582.8 2177.2,2582.8 2179.2,2582.8 2181.2,2582.8 2183.2,2582.8 2185.2,2582.8 2187.2,2582.8 2189.1,2582.8 2191.1,2582.8 2193.1,2582.8 2195.1,2582.8 2197.1,2582.8 2199.1,2582.8 2201.1,2582.8 2203.1,2582.8 2205.1,2582.8 2207.1,2582.8 2209.1,2582.8 2211.1,2582.8 2213.1,2582.8 2215.1,2582.8 2217.1,2582.8 2219.1,2582.8 2221.1,2582.8 2223.1,2582.8 2225.1,2582.8 2227.1,2582.8 2229.1,2582.8 2231.1,2582.8 2233.1,2582.8 2235.1,2582.8 2237.1,2582.8 2239.1,2582.8 2241.1,2582.8 2243.1,2582.8 2245.1,2582.8 2247.1,2582.8 2249.1,2582.8 2251.1,2582.8 2253,2582.8 2255,2582.8 2257,2582.8 2259,2582.8 2261,2582.8 2263,2582.8 2265,2582.8 2267,2582.8 2269,2582.8 2271,2582.8 2273,2582.8 2275,2582.8 2277,2582.8 2279,2582.8 2281,2582.8 2283,2582.8 2285,2582.8 2287,2582.8 2289,2582.8 2291,2582.8 2293,2582.8 2295,2582.8 2297,2582.8 2299,2582.8 2301,2582.8 2303,2582.8 2305,2582.8 2307,2582.8 2309,2582.8 2311,2582.8 2313,2582.8 2315,2582.8 2316.9,2582.8 2318.9,2582.8 2320.9,2582.8 2322.9,2582.8 2324.9,2582.8 2326.9,2582.8 2328.9,2582.8 2330.9,2582.8 2332.9,2582.8 2334.9,2582.8 2336.9,2582.8 2338.9,2582.8 2340.9,2582.8 2342.9,2582.8 2344.9,2582.8 2346.9,2582.8" fill="none" stroke="#000080" stroke-width="3.3" stroke-linejoin="round"/>
<polyline points="1957.6,2581.3 1959.6,2581.2 1961.6,2581 1963.5,2580.9 1965.5,2580.6 1967.5,2580.4 1969.5,2580.2 1971.5,2579.9 1973.5,2579.5 1975.4,2579.1 1977.4,2578.7 1979.4,2578.2 1981.4,2577.6 1983.4,2577 1985.4,2576.3 1987.3,2575.5 1989.3,2574.6 1991.3,2573.6 1993.3,2572.6 1995.3,2571.4 1997.3,2570.1 1999.2,2568.7 2001.2,2567.2 2003.2,2565.6 2005.2,2563.8 2007.2,2561.9 2009.2,2559.9 2011.1,2557.7 2013.1,2555.4 2015.1,2553 2017.1,2550.4 2019.1,2547.7 2021.1,2544.9 2023,2542 2025,2539 2027,2535.9 2029,2532.7 2031,2529.4 2033,2526.1 2034.9,2522.8 2036.9,2519.4 2038.9,2516.1 2040.9,2512.7 2042.9,2509.4 2044.9,2506.2 2046.8,2503.1 2048.8,2500.1 2050.8,2497.2 2052.8,2494.4 2054.8,2491.9 2056.8,2489.5 2058.7,2487.4 2060.7,2485.5 2062.7,2483.8 2064.7,2482.4 2066.7,2481.3 2068.7,2480.5 2070.6,2480 2072.6,2479.7 2074.6,2479.8 2076.6,2480.1 2078.6,2480.8 2080.6,2481.7 2082.5,2483 2084.5,2484.5 2086.5,2486.2 2088.5,2488.2 2090.5,2490.5 2092.5,2492.9 2094.4,2495.5 2096.4,2498.3 2098.4,2501.3 2100.4,2504.4 2102.4,2507.5 2104.4,2510.8 2106.3,2514.1 2108.3,2517.4 2110.3,2520.8 2112.3,2524.2 2114.3,2527.5 2116.3,2530.8 2118.2,2534 2120.2,2537.2 2122.2,2540.2 2124.2,2543.2 2126.2,2546.1 2128.2,2548.9 2130.1,2551.5 2132.1,2554 2134.1,2556.4 2136.1,2558.6 2138.1,2560.7 2140,2562.7 2142,2564.5 2144,2566.3 2146,2567.8 2148,2569.3 2150,2570.7 2151.9,2571.9 2153.9,2573 2155.9,2574 2157.9,2575 2159.9,2575.8 2161.9,2576.6 2163.8,2577.2 2165.8,2577.8 2167.8,2578.4 2169.8,2578.9 2171.8,2579.3 2173.8,2579.7 2175.7,2580 2177.7,2580.3 2179.7,2580.5 2181.7,2580.7 2183.7,2580.9 2185.7,2581.1 2187.6,2581.2" fill="none" stroke="#0000ff" stroke-width="3.3" stroke-linejoin="round"/>
<polyline points="1458.3,2581.6 1460.3,2581.6 1462.3,2581.6 1464.3,2581.6 1466.3,2581.6 1468.3,2581.6 1470.2,2581.6 1472.2,2581.6 1474.2,2581.6 1476.2,2581.6 1478.2,2581.6 1480.2,2581.6 1482.2,2581.6 1484.2,2581.6 1486.2,2581.6 1488.1,2581.6 1490.1,2581.6 1492.1,2581.6 1494.1,2581.6 1496.1,2581.6 1498.1,2581.6 1500.1,2581.6 1502.1,2581.6 1504,2581.6 1506,2581.6 1508,2581.6 1510,2581.6 1512,2581.6 1514,2581.6 1516,2581.6 1518,2581.6 1519.9,2581.5 1521.9,2581.5 1523.9,2581.5 1525.9,2581.4 1527.9,2581.4 1529.9,2581.3 1531.9,2581.2 1533.9,2581.1 1535.8,2581 1537.8,2580.8 1539.8,2580.6 1541.8,2580.3 1543.8,2579.9 1545.8,2579.5 1547.8,2578.9 1549.8,2578.2 1551.8,2577.4 1553.7,2576.4 1555.7,2575.1 1557.7,2573.7 1559.7,2571.9 1561.7,2569.9 1563.7,2567.5 1565.7,2564.6 1567.7,2561.4 1569.6,2557.6 1571.6,2553.3 1573.6,2548.4 1575.6,2542.8 1577.6,2536.6 1579.6,2529.7 1581.6,2522 1583.6,2513.6 1585.5,2504.5 1587.5,2494.6 1589.5,2484 1591.5,2472.7 1593.5,2460.8 1595.5,2448.3 1597.5,2435.3 1599.5,2422 1601.4,2408.4 1603.4,2394.7 1605.4,2381.1 1607.4,2367.7 1609.4,2354.6 1611.4,2342.1 1613.4,2330.3 1615.4,2319.4 1617.4,2309.5 1619.3,2300.8 1621.3,2293.5 1623.3,2287.7 1625.3,2283.3 1627.3,2280.6 1629.3,2279.6 1631.3,2280.3 1633.3,2282.6 1635.2,2286.6 1637.2,2292.1 1639.2,2299.1 1641.2,2307.5 1643.2,2317.1 1645.2,2327.8 1647.2,2339.4 1649.2,2351.8 1651.1,2364.7 1653.1,2378.1 1655.1,2391.7 1657.1,2405.4 1659.1,2419 1661.1,2432.4 1663.1,2445.4 1665.1,2458 1667.1,2470.1 1669,2481.5 1671,2492.3 1673,2502.4 1675,2511.7 1677,2520.2 1679,2528.1 1681,2535.1 1683,2541.5 1684.9,2547.2 1686.9,2552.2 1688.9,2556.7 1690.9,2560.6 1692.9,2564 1694.9,2566.9 1696.9,2569.4 1698.9,2571.5 1700.8,2573.3 1702.8,2574.8 1704.8,2576.1 1706.8,2577.2 1708.8,2578 1710.8,2578.8 1712.8,2579.4 1714.8,2579.8 1716.7,2580.2 1718.7,2580.5 1720.7,2580.8 1722.7,2580.9" fill="none" stroke="#008000" stroke-width="3.3" stroke-linejoin="round"/>
<polyline points="2036.4,2580.8 2038.4,2580.6 2040.4,2580.3 2042.4,2579.9 2044.4,2579.4 2046.4,2578.7 2048.4,2577.9 2050.4,2576.9 2052.4,2575.7 2054.4,2574.2 2056.3,2572.3 2058.3,2570.1 2060.3,2567.4 2062.3,2564.2 2064.3,2560.3 2066.3,2555.8 2068.3,2550.4 2070.3,2544.1 2072.3,2536.9 2074.3,2528.5 2076.3,2518.9 2078.3,2508 2080.3,2495.7 2082.3,2481.9 2084.3,2466.5 2086.2,2449.5 2088.2,2430.8 2090.2,2410.4 2092.2,2388.4 2094.2,2364.8 2096.2,2339.6 2098.2,2313 2100.2,2285.2 2102.2,2256.3 2104.2,2226.6 2106.2,2196.4 2108.2,2165.9 2110.2,2135.5 2112.2,2105.6 2114.1,2076.6 2116.1,2048.7 2118.1,2022.5 2120.1,1998.2 2122.1,1976.3 2124.1,1957.1 2126.1,1940.9 2128.1,1928 2130.1,1918.5 2132.1,1912.7 2134.1,1910.6 2136.1,1912.3 2138.1,1917.7 2140.1,1926.7 2142.1,1939.2 2144,1955 2146,1973.9 2148,1995.5 2150,2019.4 2152,2045.5 2154,2073.1 2156,2102.1 2158,2131.9 2160,2162.3 2162,2192.7 2164,2223 2166,2252.8 2168,2281.8 2170,2309.8 2172,2336.5 2173.9,2361.8 2175.9,2385.7 2177.9,2407.9 2179.9,2428.5 2181.9,2447.3 2183.9,2464.6 2185.9,2480.1 2187.9,2494.1 2189.9,2506.6 2191.9,2517.7 2193.9,2527.4 2195.9,2535.9 2197.9,2543.3 2199.9,2549.7 2201.8,2555.2 2203.8,2559.8 2205.8,2563.7 2207.8,2567 2209.8,2569.8 2211.8,2572.1 2213.8,2574 2215.8,2575.5 2217.8,2576.8 2219.8,2577.8 2221.8,2578.6 2223.8,2579.3 2225.8,2579.8 2227.8,2580.2 2229.8,2580.5 2231.7,2580.8 2233.7,2581" fill="none" stroke="#ff0000" stroke-width="3.3" stroke-linejoin="round"/>
<polyline points="1324.1,2581.6 1326.1,2581.6 1328.1,2581.6 1330.1,2581.6 1332.1,2581.6 1334.1,2581.6 1336.1,2581.6 1338.1,2581.6 1340.1,2581.6 1342.1,2581.6 1344.1,2581.6 1346.1,2581.6 1348.1,2581.6 1350.1,2581.6 1352.1,2581.6 1354.1,2581.6 1356.1,2581.6 1358.1,2581.6 1360.1,2581.6 1362.1,2581.6 1364.1,2581.6 1366.1,2581.6 1368,2581.6 1370,2581.6 1372,2581.6 1374,2581.6 1376,2581.6 1378,2581.6 1380,2581.6 1382,2581.6 1384,2581.6 1386,2581.6 1388,2581.6 1390,2581.6 1392,2581.6 1394,2581.6 1396,2581.6 1398,2581.6 1400,2581.6 1402,2581.6 1404,2581.6 1406,2581.6 1408,2581.6 1410,2581.6 1412,2581.6 1414,2581.6 1416,2581.5 1418,2581.5 1420,2581.5 1422,2581.5 1424,2581.5 1426,2581.5 1428,2581.4 1430,2581.4 1432,2581.4 1434,2581.3 1436,2581.3 1438,2581.2 1440,2581.1 1442,2581 1444,2580.9 1446,2580.8 1448,2580.7 1450,2580.5 1451.9,2580.3 1453.9,2580.1 1455.9,2579.9 1457.9,2579.6 1459.9,2579.3 1461.9,2579 1463.9,2578.6 1465.9,2578.2 1467.9,2577.8 1469.9,2577.2 1471.9,2576.7 1473.9,2576 1475.9,2575.4 1477.9,2574.6 1479.9,2573.8 1481.9,2572.9 1483.9,2571.9 1485.9,2570.9 1487.9,2569.8 1489.9,2568.6 1491.9,2567.3 1493.9,2566 1495.9,2564.6 1497.9,2563.1 1499.9,2561.5 1501.9,2559.9 1503.9,2558.2 1505.9,2556.4 1507.9,2554.6 1509.9,2552.8 1511.9,2550.9 1513.9,2549 1515.9,2547.1 1517.9,2545.1 1519.9,2543.2 1521.9,2541.3 1523.9,2539.4 1525.9,2537.6 1527.9,2535.8 1529.9,2534.1 1531.9,2532.4 1533.9,2530.8 1535.9,2529.2 1537.8,2527.8 1539.8,2526.4 1541.8,2525.2 1543.8,2524 1545.8,2522.8 1547.8,2521.7 1549.8,2520.7 1551.8,2519.7 1553.8,2518.6 1555.8,2517.6 1557.8,2516.4 1559.8,2515.2 1561.8,2513.7 1563.8,2512.1 1565.8,2510.2 1567.8,2508 1569.8,2505.4 1571.8,2502.4 1573.8,2498.9 1575.8,2494.8 1577.8,2490.2 1579.8,2484.9 1581.8,2478.9 1583.8,2472.3 1585.8,2464.9 1587.8,2456.7 1589.8,2447.9 1591.8,2438.3 1593.8,2428.2 1595.8,2417.4 1597.8,2406.2 1599.8,2394.5 1601.8,2382.6 1603.8,2370.6 1605.8,2358.5 1607.8,2346.6 1609.8,2335.1 1611.8,2324 1613.8,2313.7 1615.8,2304.2 1617.8,2295.7 1619.8,2288.4 1621.8,2282.3 1623.7,2277.7 1625.7,2274.6 1627.7,2273.1 1629.7,2273.2 1631.7,2274.9 1633.7,2278.3 1635.7,2283.2 1637.7,2289.7 1639.7,2297.5 1641.7,2306.7 1643.7,2317 1645.7,2328.3 1647.7,2340.5 1649.7,2353.3 1651.7,2366.7 1653.7,2380.4 1655.7,2394.2 1657.7,2408.1 1659.7,2421.8 1661.7,2435.2 1663.7,2448.3 1665.7,2460.8 1667.7,2472.7 1669.7,2484 1671.7,2494.6 1673.7,2504.4 1675.7,2513.5 1677.7,2521.7 1679.7,2529.2 1681.7,2536 1683.7,2542.1 1685.7,2547.4 1687.7,2552.1 1689.7,2556.3 1691.7,2559.8 1693.7,2562.9 1695.7,2565.5 1697.7,2567.7 1699.7,2569.5 1701.7,2571 1703.7,2572.2 1705.7,2573.1 1707.6,2573.8 1709.6,2574.4 1711.6,2574.7 1713.6,2575 1715.6,2575.1 1717.6,2575.1 1719.6,2575 1721.6,2574.9 1723.6,2574.7 1725.6,2574.4 1727.6,2574.1 1729.6,2573.7 1731.6,2573.3 1733.6,2572.9 1735.6,2572.4 1737.6,2571.9 1739.6,2571.4 1741.6,2570.9 1743.6,2570.3 1745.6,2569.7 1747.6,2569.1 1749.6,2568.5 1751.6,2567.8 1753.6,2567.1 1755.6,2566.4 1757.6,2565.7 1759.6,2565 1761.6,2564.3 1763.6,2563.5 1765.6,2562.7 1767.6,2562 1769.6,2561.2 1771.6,2560.4 1773.6,2559.5 1775.6,2558.7 1777.6,2557.9 1779.6,2557 1781.6,2556.2 1783.6,2555.4 1785.6,2554.5 1787.6,2553.7 1789.6,2552.8 1791.6,2552 1793.5,2551.1 1795.5,2550.3 1797.5,2549.5 1799.5,2548.7 1801.5,2547.9 1803.5,2547.1 1805.5,2546.4 1807.5,2545.7 1809.5,2544.9 1811.5,2544.3 1813.5,2543.6 1815.5,2542.9 1817.5,2542.3 1819.5,2541.8 1821.5,2541.2 1823.5,2540.7 1825.5,2540.2 1827.5,2539.8 1829.5,2539.4 1831.5,2539 1833.5,2538.7 1835.5,2538.4 1837.5,2538.2 1839.5,2538 1841.5,2537.8 1843.5,2537.7 1845.5,2537.6 1847.5,2537.6 1849.5,2537.6 1851.5,2537.7 1853.5,2537.8 1855.5,2537.9 1857.5,2538.1 1859.5,2538.4 1861.5,2538.7 1863.5,2539 1865.5,2539.3 1867.5,2539.7 1869.5,2540.2 1871.5,2540.6 1873.5,2541.2 1875.5,2541.7 1877.4,2542.3 1879.4,2542.9 1881.4,2543.5 1883.4,2544.2 1885.4,2544.9 1887.4,2545.6 1889.4,2546.3 1891.4,2547.1 1893.4,2547.8 1895.4,2548.6 1897.4,2549.4 1899.4,2550.2 1901.4,2551.1 1903.4,2551.9 1905.4,2552.7 1907.4,2553.6 1909.4,2554.4 1911.4,2555.2 1913.4,2556.1 1915.4,2556.9 1917.4,2557.8 1919.4,2558.6 1921.4,2559.4 1923.4,2560.2 1925.4,2561 1927.4,2561.8 1929.4,2562.6 1931.4,2563.4 1933.4,2564.1 1935.4,2564.8 1937.4,2565.6 1939.4,2566.2 1941.4,2566.9 1943.4,2567.6 1945.4,2568.2 1947.4,2568.8 1949.4,2569.3 1951.4,2569.9 1953.4,2570.4 1955.4,2570.8 1957.4,2571.3 1959.4,2571.7 1961.4,2572 1963.3,2572.3 1965.3,2572.6 1967.3,2572.8 1969.3,2573 1971.3,2573.1 1973.3,2573.1 1975.3,2573.1 1977.3,2573 1979.3,2572.8 1981.3,2572.6 1983.3,2572.3 1985.3,2571.8 1987.3,2571.3 1989.3,2570.7 1991.3,2570 1993.3,2569.1 1995.3,2568.2 1997.3,2567.1 1999.3,2565.8 2001.3,2564.5 2003.3,2563 2005.3,2561.4 2007.3,2559.6 2009.3,2557.7 2011.3,2555.6 2013.3,2553.4 2015.3,2551 2017.3,2548.5 2019.3,2545.9 2021.3,2543.1 2023.3,2540.2 2025.3,2537.2 2027.3,2534.1 2029.3,2530.9 2031.3,2527.5 2033.3,2524.1 2035.3,2520.6 2037.3,2517.1 2039.3,2513.5 2041.3,2509.8 2043.3,2506.1 2045.3,2502.3 2047.2,2498.5 2049.2,2494.7 2051.2,2490.7 2053.2,2486.7 2055.2,2482.5 2057.2,2478.2 2059.2,2473.7 2061.2,2468.9 2063.2,2463.8 2065.2,2458.3 2067.2,2452.4 2069.2,2445.8 2071.2,2438.7 2073.2,2430.8 2075.2,2422 2077.2,2412.2 2079.2,2401.4 2081.2,2389.4 2083.2,2376.2 2085.2,2361.6 2087.2,2345.6 2089.2,2328.2 2091.2,2309.3 2093.2,2288.9 2095.2,2267.2 2097.2,2244.2 2099.2,2219.9 2101.2,2194.6 2103.2,2168.4 2105.2,2141.7 2107.2,2114.6 2109.2,2087.4 2111.2,2060.5 2113.2,2034.3 2115.2,2009.1 2117.2,1985.2 2119.2,1963.2 2121.2,1943.2 2123.2,1925.7 2125.2,1910.9 2127.2,1899.2 2129.2,1890.8 2131.2,1885.8 2133.1,1884.4 2135.1,1886.6 2137.1,1892.5 2139.1,1901.9 2141.1,1914.8 2143.1,1930.9 2145.1,1950.1 2147.1,1972.1 2149.1,1996.5 2151.1,2023 2153.1,2051.2 2155.1,2080.8 2157.1,2111.3 2159.1,2142.4 2161.1,2173.7 2163.1,2204.9 2165.1,2235.7 2167.1,2265.7 2169.1,2294.7 2171.1,2322.4 2173.1,2348.8 2175.1,2373.7 2177.1,2397 2179.1,2418.5 2181.1,2438.4 2183.1,2456.5 2185.1,2473 2187.1,2487.8 2189.1,2501.1 2191.1,2512.8 2193.1,2523.2 2195.1,2532.3 2197.1,2540.2 2199.1,2547 2201.1,2552.9 2203.1,2557.9 2205.1,2562.1 2207.1,2565.7 2209.1,2568.7 2211.1,2571.2 2213.1,2573.2 2215.1,2574.9 2217.1,2576.3 2219,2577.4 2221,2578.3 2223,2579 2225,2579.6 2227,2580.1 2229,2580.4 2231,2580.7 2233,2580.9 2235,2581.1 2237,2581.2 2239,2581.3 2241,2581.4 2243,2581.4 2245,2581.5 2247,2581.5 2249,2581.5 2251,2581.6 2253,2581.6 2255,2581.6 2257,2581.6 2259,2581.6 2261,2581.6 2263,2581.6 2265,2581.6 2267,2581.6 2269,2581.6 2271,2581.6 2273,2581.6 2275,2581.6 2277,2581.6 2279,2581.6 2281,2581.6 2283,2581.6 2285,2581.6 2287,2581.6 2289,2581.6 2291,2581.6 2293,2581.6 2295,2581.6 2297,2581.6 2299,2581.6 2301,2581.6 2302.9,2581.6 2304.9,2581.6 2306.9,2581.6 2308.9,2581.6 2310.9,2581.6 2312.9,2581.6 2314.9,2581.6 2316.9,2581.6 2318.9,2581.6 2320.9,2581.6 2322.9,2581.6 2324.9,2581.6 2326.9,2581.6 2328.9,2581.6 2330.9,2581.6 2332.9,2581.6 2334.9,2581.6 2336.9,2581.6 2338.9,2581.6 2340.9,2581.6 2342.9,2581.6 2344.9,2581.6" fill="none" stroke="#960000" stroke-width="3.5" stroke-linejoin="round"/>
<text x="1284.2" y="844.2" font-size="41" fill="#141414" stroke="#141414" stroke-width="0.25">965</text>
<text x="1412.9" y="844.2" font-size="41" fill="#141414" stroke="#141414" stroke-width="0.25">960</text>
<text x="1541.7" y="844.2" font-size="41" fill="#141414" stroke="#141414" stroke-width="0.25">955</text>
<text x="1670.4" y="844.2" font-size="41" fill="#141414" stroke="#141414" stroke-width="0.25">950</text>
<text x="1799.2" y="844.2" font-size="41" fill="#141414" stroke="#141414" stroke-width="0.25">945</text>
<text x="1927.9" y="844.2" font-size="41" fill="#141414" stroke="#141414" stroke-width="0.25">940</text>
<text x="2056.7" y="844.2" font-size="41" fill="#141414" stroke="#141414" stroke-width="0.25">935</text>
<text x="2185.4" y="844.2" font-size="41" fill="#141414" stroke="#141414" stroke-width="0.25">930</text>
<text x="2314.2" y="844.2" font-size="41" fill="#141414" stroke="#141414" stroke-width="0.25">925</text>
<text x="91" y="1754.6" font-size="41" fill="#141414" stroke="#141414" stroke-width="0.25">965</text>
<text x="219" y="1754.6" font-size="41" fill="#141414" stroke="#141414" stroke-width="0.25">960</text>
<text x="347" y="1754.6" font-size="41" fill="#141414" stroke="#141414" stroke-width="0.25">955</text>
<text x="475" y="1754.6" font-size="41" fill="#141414" stroke="#141414" stroke-width="0.25">950</text>
<text x="603.1" y="1754.6" font-size="41" fill="#141414" stroke="#141414" stroke-width="0.25">945</text>
<text x="731.1" y="1754.6" font-size="41" fill="#141414" stroke="#141414" stroke-width="0.25">940</text>
<text x="859.1" y="1754.6" font-size="41" fill="#141414" stroke="#141414" stroke-width="0.25">935</text>
<text x="987.1" y="1754.6" font-size="41" fill="#141414" stroke="#141414" stroke-width="0.25">930</text>
<text x="1115.2" y="1754.6" font-size="41" fill="#141414" stroke="#141414" stroke-width="0.25">925</text>
<text x="1287" y="1760.4" font-size="41" fill="#141414" stroke="#141414" stroke-width="0.25">965</text>
<text x="1415.4" y="1760.4" font-size="41" fill="#141414" stroke="#141414" stroke-width="0.25">960</text>
<text x="1543.8" y="1760.4" font-size="41" fill="#141414" stroke="#141414" stroke-width="0.25">955</text>
<text x="1672.2" y="1760.4" font-size="41" fill="#141414" stroke="#141414" stroke-width="0.25">950</text>
<text x="1800.6" y="1760.4" font-size="41" fill="#141414" stroke="#141414" stroke-width="0.25">945</text>
<text x="1929" y="1760.4" font-size="41" fill="#141414" stroke="#141414" stroke-width="0.25">940</text>
<text x="2057.4" y="1760.4" font-size="41" fill="#141414" stroke="#141414" stroke-width="0.25">935</text>
<text x="2185.8" y="1760.4" font-size="41" fill="#141414" stroke="#141414" stroke-width="0.25">930</text>
<text x="2314.2" y="1760.4" font-size="41" fill="#141414" stroke="#141414" stroke-width="0.25">925</text>
<text x="92.2" y="2662.6" font-size="41" fill="#141414" stroke="#141414" stroke-width="0.25">965</text>
<text x="220" y="2662.6" font-size="41" fill="#141414" stroke="#141414" stroke-width="0.25">960</text>
<text x="347.9" y="2662.6" font-size="41" fill="#141414" stroke="#141414" stroke-width="0.25">955</text>
<text x="475.8" y="2662.6" font-size="41" fill="#141414" stroke="#141414" stroke-width="0.25">950</text>
<text x="603.7" y="2662.6" font-size="41" fill="#141414" stroke="#141414" stroke-width="0.25">945</text>
<text x="731.5" y="2662.6" font-size="41" fill="#141414" stroke="#141414" stroke-width="0.25">940</text>
<text x="859.4" y="2662.6" font-size="41" fill="#141414" stroke="#141414" stroke-width="0.25">935</text>
<text x="987.3" y="2662.6" font-size="41" fill="#141414" stroke="#141414" stroke-width="0.25">930</text>
<text x="1115.2" y="2662.6" font-size="41" fill="#141414" stroke="#141414" stroke-width="0.25">925</text>
<text x="1287" y="2662.6" font-size="41" fill="#141414" stroke="#141414" stroke-width="0.25">965</text>
<text x="1415" y="2662.6" font-size="41" fill="#141414" stroke="#141414" stroke-width="0.25">960</text>
<text x="1543" y="2662.6" font-size="41" fill="#141414" stroke="#141414" stroke-width="0.25">955</text>
<text x="1671.1" y="2662.6" font-size="41" fill="#141414" stroke="#141414" stroke-width="0.25">950</text>
<text x="1799.1" y="2662.6" font-size="41" fill="#141414" stroke="#141414" stroke-width="0.25">945</text>
<text x="1927.2" y="2662.6" font-size="41" fill="#141414" stroke="#141414" stroke-width="0.25">940</text>
<text x="2055.2" y="2662.6" font-size="41" fill="#141414" stroke="#141414" stroke-width="0.25">935</text>
<text x="2183.2" y="2662.6" font-size="41" fill="#141414" stroke="#141414" stroke-width="0.25">930</text>
<text x="2311.3" y="2662.6" font-size="41" fill="#141414" stroke="#141414" stroke-width="0.25">925</text>
<text x="1340.4" y="119.2" font-size="59" font-weight="bold" fill="#000">B</text>
<text x="1398.6" y="119.4" font-size="47.5" fill="#141414" textLength="284.3" lengthAdjust="spacing" stroke="#141414" stroke-width="0.25">2Cu/MCM-22</text>
<text x="142.6" y="1018.3" font-size="59" font-weight="bold" fill="#000">C</text>
<text x="199.1" y="1017.8" font-size="47.5" fill="#141414" textLength="282.1" lengthAdjust="spacing" stroke="#141414" stroke-width="0.25">4Cu/MCM-22</text>
<text x="1341.2" y="1031" font-size="59" font-weight="bold" fill="#000">D</text>
<text x="1397.8" y="1031" font-size="47.5" fill="#141414" textLength="283.4" lengthAdjust="spacing" stroke="#141414" stroke-width="0.25">6Cu/MCM-22</text>
<text x="153.5" y="1936.8" font-size="59" font-weight="bold" fill="#000">E</text>
<text x="207.4" y="1936.8" font-size="47.5" fill="#141414" textLength="282.6" lengthAdjust="spacing" stroke="#141414" stroke-width="0.25">8Cu/MCM-22</text>
<text x="1339.4" y="1932.6" font-size="59" font-weight="bold" fill="#000">F</text>
<text x="1390.7" y="1932.6" font-size="47.5" fill="#141414" textLength="306" lengthAdjust="spacing" stroke="#141414" stroke-width="0.25">10Cu/MCM-22</text>
<text x="1598" y="906.2" font-size="48" fill="#141414" textLength="429.2" lengthAdjust="spacing" stroke="#141414" stroke-width="0.25">Binding Energy (eV)</text>
<text x="403.2" y="1816.2" font-size="48" fill="#141414" textLength="427.2" lengthAdjust="spacing" stroke="#141414" stroke-width="0.25">Binding Energy (eV)</text>
<text x="1599.9" y="1821.8" font-size="48" fill="#141414" textLength="428.7" lengthAdjust="spacing" stroke="#141414" stroke-width="0.25">Binding Energy (eV)</text>
<text x="403.2" y="2725" font-size="48" fill="#141414" textLength="429.2" lengthAdjust="spacing" stroke="#141414" stroke-width="0.25">Binding Energy (eV)</text>
<text x="1599.9" y="2725" font-size="48" fill="#141414" textLength="427.3" lengthAdjust="spacing" stroke="#141414" stroke-width="0.25">Binding Energy (eV)</text>
<text transform="translate(1268.2 545.3) rotate(-90)" x="0" y="0" font-size="48" fill="#141414" stroke="#141414" stroke-width="0.25" textLength="303.8" lengthAdjust="spacing">Intensity (a.u.)</text>
<text transform="translate(70.6 1446.3) rotate(-90)" x="0" y="0" font-size="48" fill="#141414" stroke="#141414" stroke-width="0.25" textLength="294.2" lengthAdjust="spacing">Intensity (a.u.)</text>
<text transform="translate(1260.6 1463.7) rotate(-90)" x="0" y="0" font-size="48" fill="#141414" stroke="#141414" stroke-width="0.25" textLength="303.8" lengthAdjust="spacing">Intensity (a.u.)</text>
<text transform="translate(76 2376.9) rotate(-90)" x="0" y="0" font-size="48" fill="#141414" stroke="#141414" stroke-width="0.25" textLength="301.8" lengthAdjust="spacing">Intensity (a.u.)</text>
<text transform="translate(1258.2 2383.7) rotate(-90)" x="0" y="0" font-size="48" fill="#141414" stroke="#141414" stroke-width="0.25" textLength="300.9" lengthAdjust="spacing">Intensity (a.u.)</text>
<text x="1455.4" y="337" font-size="44" fill="#141414" stroke="#141414" stroke-width="0.25">CuO (2p</text>
<text x="1625.8" y="353.7" font-size="26" fill="#4a4a4a" textLength="32.7" lengthAdjust="spacing" stroke="#4a4a4a" stroke-width="0.25">1/2</text>
<text x="1659.5" y="337" font-size="44" fill="#141414" stroke="#141414" stroke-width="0.25">)</text>
<text x="1827.4" y="328.3" font-size="44" fill="#141414" stroke="#141414" stroke-width="0.25">CuO (2p</text>
<text x="1995.3" y="346.7" font-size="26" fill="#4a4a4a" textLength="35.5" lengthAdjust="spacing" stroke="#4a4a4a" stroke-width="0.25">3/2</text>
<text x="2031.3" y="328.3" font-size="44" fill="#141414" stroke="#141414" stroke-width="0.25">)</text>
<text x="174.3" y="1307.4" font-size="44" fill="#141414" stroke="#141414" stroke-width="0.25">CuO (2p</text>
<text x="342.1" y="1323.7" font-size="26" fill="#4a4a4a" textLength="35.7" lengthAdjust="spacing" stroke="#4a4a4a" stroke-width="0.25">1/2</text>
<text x="378" y="1307.4" font-size="44" fill="#141414" stroke="#141414" stroke-width="0.25">)</text>
<text x="608.3" y="1231.6" font-size="44" fill="#141414" stroke="#141414" stroke-width="0.25">CuO (2p</text>
<text x="776.4" y="1249.7" font-size="26" fill="#4a4a4a" textLength="36.1" lengthAdjust="spacing" stroke="#4a4a4a" stroke-width="0.25">3/2</text>
<text x="813.7" y="1231.6" font-size="44" fill="#141414" stroke="#141414" stroke-width="0.25">)</text>
<text x="1354.7" y="1345.9" font-size="44" fill="#141414" stroke="#141414" stroke-width="0.25">CuO (2p</text>
<text x="1523" y="1362.4" font-size="26" fill="#4a4a4a" textLength="35.1" lengthAdjust="spacing" stroke="#4a4a4a" stroke-width="0.25">1/2</text>
<text x="1560.1" y="1345.9" font-size="44" fill="#141414" stroke="#141414" stroke-width="0.25">)</text>
<text x="1809.5" y="1289.8" font-size="44" fill="#141414" stroke="#141414" stroke-width="0.25">CuO (2p</text>
<text x="1977.2" y="1307.8" font-size="26" fill="#4a4a4a" textLength="34.8" lengthAdjust="spacing" stroke="#4a4a4a" stroke-width="0.25">3/2</text>
<text x="2012.6" y="1289.8" font-size="44" fill="#141414" stroke="#141414" stroke-width="0.25">)</text>
<text x="190.1" y="2232" font-size="44" fill="#141414" stroke="#141414" stroke-width="0.25">CuO (2p</text>
<text x="356.4" y="2248" font-size="26" fill="#4a4a4a" textLength="36.4" lengthAdjust="spacing" stroke="#4a4a4a" stroke-width="0.25">1/2</text>
<text x="394.5" y="2232" font-size="44" fill="#141414" stroke="#141414" stroke-width="0.25">)</text>
<text x="612.4" y="2132.4" font-size="44" fill="#141414" stroke="#141414" stroke-width="0.25">CuO (2p</text>
<text x="780.4" y="2147.9" font-size="26" fill="#4a4a4a" textLength="37.2" lengthAdjust="spacing" stroke="#4a4a4a" stroke-width="0.25">3/2</text>
<text x="816.6" y="2132.4" font-size="44" fill="#141414" stroke="#141414" stroke-width="0.25">)</text>
<text x="1386.7" y="2200.1" font-size="44" fill="#141414" stroke="#141414" stroke-width="0.25">CuO (2p</text>
<text x="1556" y="2217.8" font-size="26" fill="#4a4a4a" textLength="34.3" lengthAdjust="spacing" stroke="#4a4a4a" stroke-width="0.25">1/2</text>
<text x="1590.9" y="2200.1" font-size="44" fill="#141414" stroke="#141414" stroke-width="0.25">)</text>
<text x="1818.3" y="2196.4" font-size="44" fill="#141414" stroke="#141414" stroke-width="0.25">CuO (2p</text>
<text x="1986.6" y="2212.5" font-size="26" fill="#4a4a4a" textLength="37.2" lengthAdjust="spacing" stroke="#4a4a4a" stroke-width="0.25">3/2</text>
<text x="2023.9" y="2196.4" font-size="44" fill="#141414" stroke="#141414" stroke-width="0.25">)</text>
<text x="1805.1" y="659" font-size="44.5" fill="#141414" stroke="#141414" stroke-width="0.25">CuO</text>
<text x="572.9" y="1609.6" font-size="44.5" fill="#141414" stroke="#141414" stroke-width="0.25">CuO</text>
<text x="1806.9" y="1612.6" font-size="44.5" fill="#141414" stroke="#141414" stroke-width="0.25">CuO</text>
<text x="574.2" y="2522.8" font-size="44.5" fill="#141414" stroke="#141414" stroke-width="0.25">CuO</text>
<text x="1798.8" y="2515.8" font-size="44.5" fill="#141414" stroke="#141414" stroke-width="0.25">CuO</text>
<line x1="1624.3" y1="428" x2="1588.4" y2="375.1" stroke="#3a3a3a" stroke-width="1.8"/>
<polygon points="1580,362.7 1593.5,374.1 1585.6,379.5" fill="#111"/>
<line x1="2153.5" y1="219.2" x2="2058.9" y2="266.9" stroke="#3a3a3a" stroke-width="1.8"/>
<polygon points="2045.5,273.6 2058.5,261.7 2062.8,270.2" fill="#111"/>
<line x1="2094.4" y1="591.8" x2="2033.3" y2="387.1" stroke="#3a3a3a" stroke-width="1.8"/>
<polygon points="2029,372.7 2038.5,387.6 2029.3,390.4" fill="#111"/>
<line x1="423" y1="1417.8" x2="390" y2="1344.4" stroke="#3a3a3a" stroke-width="1.8"/>
<polygon points="383.8,1330.7 395.2,1344.2 386.4,1348.2" fill="#111"/>
<line x1="926.9" y1="1036.3" x2="790.2" y2="1174.2" stroke="#3a3a3a" stroke-width="1.8"/>
<polygon points="779.6,1184.9 788.2,1169.4 795,1176.2" fill="#111"/>
<line x1="862.3" y1="1594.9" x2="799.5" y2="1293.4" stroke="#3a3a3a" stroke-width="1.8"/>
<polygon points="796.4,1278.7 804.6,1294.4 795.2,1296.3" fill="#111"/>
<line x1="1636.4" y1="1393.3" x2="1591.5" y2="1368.9" stroke="#3a3a3a" stroke-width="1.8"/>
<polygon points="1578.3,1361.7 1595.5,1365.6 1590.9,1374" fill="#111"/>
<line x1="2132.5" y1="1083.6" x2="2003" y2="1205.3" stroke="#3a3a3a" stroke-width="1.8"/>
<polygon points="1992.1,1215.6 2001.2,1200.5 2007.8,1207.5" fill="#111"/>
<line x1="2074" y1="1596.8" x2="1983.8" y2="1345.1" stroke="#3a3a3a" stroke-width="1.8"/>
<polygon points="1978.7,1331 1989,1345.4 1979.9,1348.6" fill="#111"/>
<line x1="404.6" y1="2321.5" x2="378.5" y2="2276.4" stroke="#3a3a3a" stroke-width="1.8"/>
<polygon points="371,2263.4 383.7,2275.7 375.4,2280.5" fill="#111"/>
<line x1="938.7" y1="1894.1" x2="804.5" y2="2062.8" stroke="#3a3a3a" stroke-width="1.8"/>
<polygon points="795.2,2074.5 802,2058.2 809.5,2064.2" fill="#111"/>
<line x1="871.3" y1="2466.3" x2="798.3" y2="2184.8" stroke="#3a3a3a" stroke-width="1.8"/>
<polygon points="794.5,2170.3 803.4,2185.5 794.1,2188" fill="#111"/>
<line x1="1608.9" y1="2290" x2="1593.8" y2="2249.3" stroke="#3a3a3a" stroke-width="1.8"/>
<polygon points="1588.6,2235.2 1599,2249.5 1590,2252.8" fill="#111"/>
<line x1="2134.9" y1="1913.8" x2="2012.4" y2="2128.7" stroke="#3a3a3a" stroke-width="1.8"/>
<polygon points="2005,2141.7 2009.2,2124.6 2017.6,2129.3" fill="#111"/>
<line x1="2067.8" y1="2475.4" x2="1993.8" y2="2259.9" stroke="#3a3a3a" stroke-width="1.8"/>
<polygon points="1988.9,2245.7 1999,2260.2 1989.9,2263.3" fill="#111"/>
</g>
</svg>
</body></html>
